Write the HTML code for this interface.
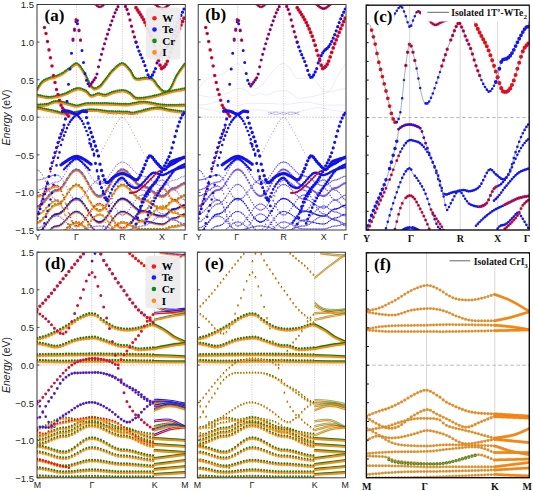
<!DOCTYPE html><html><head><meta charset="utf-8"><style>html,body{margin:0;padding:0;background:#fff;width:533px;height:491px;overflow:hidden}svg{display:block}</style></head><body><svg width="533" height="491" viewBox="0 0 533 491"><defs><clipPath id="ca"><rect x="37.0" y="4.5" width="148.3" height="225.5"/></clipPath><clipPath id="cb"><rect x="198.2" y="4.5" width="147.8" height="225.5"/></clipPath><clipPath id="cc"><rect x="366.2" y="5.2" width="163.0" height="224.8"/></clipPath><clipPath id="cd"><rect x="37.0" y="252.2" width="148.2" height="225.6"/></clipPath><clipPath id="ce"><rect x="197.4" y="252.2" width="148.1" height="225.6"/></clipPath><clipPath id="cf"><rect x="366.4" y="252.8" width="162.9" height="224.9"/></clipPath></defs><rect width="533" height="491" fill="#fff"/><line x1="76.5" y1="4.5" x2="76.5" y2="230.0" stroke="#c8c8c8" stroke-width="0.90" stroke-dasharray="1.2 1.2"/><line x1="122.3" y1="4.5" x2="122.3" y2="230.0" stroke="#c8c8c8" stroke-width="0.90" stroke-dasharray="1.2 1.2"/><line x1="162.5" y1="4.5" x2="162.5" y2="230.0" stroke="#c8c8c8" stroke-width="0.90" stroke-dasharray="1.2 1.2"/><line x1="237.8" y1="4.5" x2="237.8" y2="230.0" stroke="#c8c8c8" stroke-width="0.90" stroke-dasharray="1.2 1.2"/><line x1="283.4" y1="4.5" x2="283.4" y2="230.0" stroke="#c8c8c8" stroke-width="0.90" stroke-dasharray="1.2 1.2"/><line x1="323.5" y1="4.5" x2="323.5" y2="230.0" stroke="#c8c8c8" stroke-width="0.90" stroke-dasharray="1.2 1.2"/><line x1="409.7" y1="5.2" x2="409.7" y2="230.0" stroke="#d8d8d8" stroke-width="1.00" /><line x1="460.2" y1="5.2" x2="460.2" y2="230.0" stroke="#d8d8d8" stroke-width="1.00" /><line x1="497.6" y1="5.2" x2="497.6" y2="230.0" stroke="#d8d8d8" stroke-width="1.00" /><line x1="91.7" y1="252.2" x2="91.7" y2="477.8" stroke="#c8c8c8" stroke-width="0.90" stroke-dasharray="1.2 1.2"/><line x1="154.4" y1="252.2" x2="154.4" y2="477.8" stroke="#c8c8c8" stroke-width="0.90" stroke-dasharray="1.2 1.2"/><line x1="251.9" y1="252.2" x2="251.9" y2="477.8" stroke="#c8c8c8" stroke-width="0.90" stroke-dasharray="1.2 1.2"/><line x1="314.6" y1="252.2" x2="314.6" y2="477.8" stroke="#c8c8c8" stroke-width="0.90" stroke-dasharray="1.2 1.2"/><line x1="426.6" y1="252.8" x2="426.6" y2="477.7" stroke="#d8d8d8" stroke-width="1.00" /><line x1="494.8" y1="252.8" x2="494.8" y2="477.7" stroke="#d8d8d8" stroke-width="1.00" /><line x1="37.0" y1="117.2" x2="185.3" y2="117.2" stroke="#c0c0c0" stroke-width="0.90" stroke-dasharray="1.5 1.5"/><line x1="198.2" y1="117.2" x2="346.0" y2="117.2" stroke="#c0c0c0" stroke-width="0.90" stroke-dasharray="1.5 1.5"/><line x1="37.0" y1="365.0" x2="185.2" y2="365.0" stroke="#c0c0c0" stroke-width="0.90" stroke-dasharray="1.5 1.5"/><line x1="197.4" y1="365.0" x2="345.5" y2="365.0" stroke="#c0c0c0" stroke-width="0.90" stroke-dasharray="1.5 1.5"/><line x1="366.2" y1="117.6" x2="529.2" y2="117.6" stroke="#b8b8b8" stroke-width="1.00" stroke-dasharray="3.5 2.5"/><line x1="366.4" y1="365.2" x2="529.3" y2="365.2" stroke="#b8b8b8" stroke-width="1.00" stroke-dasharray="3.5 2.5"/><g clip-path="url(#ca)"><path d="M37.0 90.5C37.8 89.2 40.2 84.8 42.0 83.0C43.8 81.2 45.8 80.4 48.0 79.5C50.2 78.6 52.7 78.3 55.0 77.5C57.3 76.7 59.7 75.8 62.0 74.5C64.3 73.2 66.5 71.2 69.0 69.5C71.5 67.8 74.4 64.0 76.9 64.6C79.4 65.2 81.8 69.8 84.0 73.1C86.2 76.4 88.1 81.8 89.8 84.5C91.5 87.2 92.3 89.1 94.0 89.5C95.7 89.9 98.2 88.4 100.0 87.0C101.8 85.6 102.8 83.7 105.0 81.0C107.2 78.3 110.1 73.8 113.0 71.0C115.9 68.2 119.5 64.4 122.3 64.4C125.1 64.4 127.8 68.5 130.0 71.0C132.2 73.5 133.0 78.2 135.6 79.5C138.2 80.8 142.7 78.7 145.5 78.8C148.3 78.9 150.6 78.8 152.7 80.2C154.8 81.6 156.1 85.0 158.0 87.0C159.9 89.0 162.0 91.9 164.0 92.4C166.0 92.9 167.7 92.9 169.8 90.2C172.0 87.5 174.3 80.4 176.9 76.0C179.5 71.6 183.9 66.0 185.3 64.0" fill="none" stroke="#ff8a10" stroke-width="2.40" stroke-linejoin="round" stroke-linecap="round" opacity="1.00" /><path d="M37.0 89.1C37.8 87.8 40.2 83.4 42.0 81.6C43.8 79.8 45.8 79.0 48.0 78.1C50.2 77.2 52.7 76.9 55.0 76.1C57.3 75.3 59.7 74.4 62.0 73.1C64.3 71.8 66.5 69.8 69.0 68.1C71.5 66.4 74.4 62.6 76.9 63.2C79.4 63.8 81.8 68.4 84.0 71.7C86.2 75.0 88.1 80.4 89.8 83.1C91.5 85.8 92.3 87.7 94.0 88.1C95.7 88.5 98.2 87.0 100.0 85.6C101.8 84.2 102.8 82.3 105.0 79.6C107.2 76.9 110.1 72.4 113.0 69.6C115.9 66.8 119.5 63.0 122.3 63.0C125.1 63.0 127.8 67.1 130.0 69.6C132.2 72.1 133.0 76.8 135.6 78.1C138.2 79.4 142.7 77.3 145.5 77.4C148.3 77.5 150.6 77.4 152.7 78.8C154.8 80.2 156.1 83.6 158.0 85.6C159.9 87.6 162.0 90.5 164.0 91.0C166.0 91.5 167.7 91.5 169.8 88.8C172.0 86.1 174.3 79.0 176.9 74.6C179.5 70.2 183.9 64.6 185.3 62.6" fill="none" stroke="#1a7d1a" stroke-width="2.02" stroke-linecap="round" stroke-dasharray="0 1.90" opacity="1.00" /><path d="M37.0 95.9C38.9 96.3 44.8 98.0 48.4 98.1C52.0 98.2 55.5 97.2 58.4 96.6C61.2 96.0 62.4 95.7 65.5 94.5C68.6 93.3 73.6 90.0 76.9 89.5C80.2 89.0 83.1 90.4 85.5 91.6C87.9 92.8 89.1 96.1 91.2 96.6C93.3 97.1 96.0 94.6 98.3 94.5C100.6 94.4 102.5 96.2 105.0 96.0C107.5 95.8 109.9 93.8 113.0 93.0C116.1 92.2 120.6 91.2 123.4 91.4C126.2 91.6 128.0 92.8 130.0 94.0C132.0 95.2 133.3 98.0 135.6 98.8C137.9 99.6 140.7 99.2 144.0 98.8C147.3 98.4 151.9 97.4 155.5 96.6C159.1 95.8 162.4 94.6 165.5 93.8C168.6 93.0 170.7 92.3 174.0 91.6C177.3 90.9 183.4 89.8 185.3 89.5" fill="none" stroke="#ff8a10" stroke-width="2.40" stroke-linejoin="round" stroke-linecap="round" opacity="1.00" /><path d="M37.0 94.5C38.9 94.9 44.8 96.6 48.4 96.7C52.0 96.8 55.5 95.8 58.4 95.2C61.2 94.6 62.4 94.3 65.5 93.1C68.6 91.9 73.6 88.6 76.9 88.1C80.2 87.6 83.1 89.0 85.5 90.2C87.9 91.4 89.1 94.7 91.2 95.2C93.3 95.7 96.0 93.2 98.3 93.1C100.6 93.0 102.5 94.8 105.0 94.6C107.5 94.3 109.9 92.4 113.0 91.6C116.1 90.8 120.6 89.8 123.4 90.0C126.2 90.2 128.0 91.4 130.0 92.6C132.0 93.8 133.3 96.6 135.6 97.4C137.9 98.2 140.7 97.8 144.0 97.4C147.3 97.0 151.9 96.0 155.5 95.2C159.1 94.4 162.4 93.2 165.5 92.4C168.6 91.6 170.7 90.9 174.0 90.2C177.3 89.5 183.4 88.4 185.3 88.1" fill="none" stroke="#1a7d1a" stroke-width="2.02" stroke-linecap="round" stroke-dasharray="0 1.90" opacity="1.00" /><path d="M37.0 105.9C38.7 105.8 43.9 105.8 47.0 105.2C50.1 104.6 52.4 102.5 55.5 102.3C58.6 102.1 61.9 103.1 65.5 103.8C69.1 104.5 73.3 106.5 76.9 106.6C80.5 106.7 81.9 104.8 86.9 104.5C91.9 104.2 100.3 104.4 107.0 104.5C113.7 104.6 120.8 105.5 127.0 105.2C133.2 105.0 138.1 102.9 144.0 103.0C149.9 103.1 155.7 105.4 162.6 105.9C169.5 106.4 181.5 105.9 185.3 105.9" fill="none" stroke="#ff8a10" stroke-width="2.40" stroke-linejoin="round" stroke-linecap="round" opacity="1.00" /><path d="M37.0 104.5C38.7 104.4 43.9 104.4 47.0 103.8C50.1 103.2 52.4 101.1 55.5 100.9C58.6 100.7 61.9 101.7 65.5 102.4C69.1 103.1 73.3 105.1 76.9 105.2C80.5 105.3 81.9 103.4 86.9 103.1C91.9 102.8 100.3 103.0 107.0 103.1C113.7 103.2 120.8 104.0 127.0 103.8C133.2 103.5 138.1 101.5 144.0 101.6C149.9 101.7 155.7 104.0 162.6 104.5C169.5 105.0 181.5 104.5 185.3 104.5" fill="none" stroke="#1a7d1a" stroke-width="2.02" stroke-linecap="round" stroke-dasharray="0 1.90" opacity="1.00" /><path d="M37.0 108.5C38.4 108.8 42.5 109.6 45.6 110.2C48.7 110.8 52.2 111.6 55.5 112.3C58.8 113.0 61.9 114.4 65.5 114.5C69.1 114.6 73.3 113.6 76.9 113.0C80.5 112.4 83.6 111.2 86.9 110.9C90.2 110.6 93.6 110.7 96.9 110.9C100.2 111.1 102.0 112.0 107.0 112.3C112.0 112.6 122.5 112.8 127.0 113.0C131.5 113.2 129.2 114.4 134.0 113.7C138.8 113.0 149.5 109.2 155.5 108.8C161.5 108.3 164.8 110.3 169.8 111.0C174.8 111.7 182.7 112.7 185.3 113.0" fill="none" stroke="#ff8a10" stroke-width="2.40" stroke-linejoin="round" stroke-linecap="round" opacity="1.00" /><path d="M37.0 107.1C38.4 107.4 42.5 108.2 45.6 108.8C48.7 109.4 52.2 110.2 55.5 110.9C58.8 111.6 61.9 113.0 65.5 113.1C69.1 113.2 73.3 112.2 76.9 111.6C80.5 111.0 83.6 109.8 86.9 109.5C90.2 109.2 93.6 109.3 96.9 109.5C100.2 109.7 102.0 110.5 107.0 110.9C112.0 111.2 122.5 111.4 127.0 111.6C131.5 111.8 129.2 113.0 134.0 112.3C138.8 111.6 149.5 107.8 155.5 107.4C161.5 106.9 164.8 108.9 169.8 109.6C174.8 110.3 182.7 111.3 185.3 111.6" fill="none" stroke="#1a7d1a" stroke-width="2.02" stroke-linecap="round" stroke-dasharray="0 1.90" opacity="1.00" /><path d="M37.00 206.80h0M38.50 206.57h0M40.00 205.91h0M41.50 204.84h0M43.00 203.42h0M44.50 201.75h0M46.00 199.91h0M47.50 198.01h0M49.00 196.15h0M50.50 194.44h0M52.00 192.98h0M53.50 191.85h0M55.00 191.11h0M56.50 190.83h0M58.00 190.60h0M59.50 189.84h0M61.00 188.55h0M62.50 186.80h0M64.00 184.71h0M65.50 182.38h0M67.00 179.94h0M68.50 177.54h0M70.00 175.31h0M71.50 173.37h0M73.00 171.85h0M74.50 170.81h0M76.00 170.33h0M77.50 170.42h0M79.00 171.07h0M80.50 172.24h0M82.00 173.90h0M83.50 175.95h0M85.00 178.33h0M86.50 180.93h0M88.00 183.64h0M89.50 186.35h0M91.00 188.93h0M92.50 191.29h0M94.00 193.33h0M95.50 194.95h0M97.00 196.09h0M98.50 196.70h0M100.00 196.76h0M101.50 196.25h0M103.00 195.22h0M104.50 193.69h0M106.00 191.73h0M107.50 189.43h0M109.00 186.88h0M110.50 184.19h0M112.00 181.47h0M113.50 178.84h0M115.00 176.41h0M116.50 174.28h0M118.00 172.54h0M119.50 171.27h0M121.00 170.51h0M122.50 170.30h0M124.00 170.59h0M125.50 171.31h0M127.00 172.43h0M128.50 173.88h0M130.00 175.59h0M131.50 177.46h0M133.00 179.39h0M134.50 181.27h0M136.00 183.00h0M137.50 184.50h0M139.00 185.66h0M140.50 186.44h0M142.00 186.78h0M143.50 186.87h0M145.00 187.21h0M146.50 187.79h0M148.00 188.60h0M149.50 189.58h0M151.00 190.68h0M152.50 191.84h0M154.00 193.00h0M155.50 194.09h0M157.00 195.06h0M158.50 195.85h0M160.00 196.42h0M161.50 196.74h0M163.00 196.76h0M164.50 196.21h0M166.00 195.08h0M167.50 193.57h0M169.00 191.92h0M170.50 190.43h0M172.00 189.34h0M173.50 188.85h0M175.00 188.68h0M176.50 188.18h0M178.00 187.37h0M179.50 186.37h0M181.00 185.36h0M182.50 184.51h0M184.00 183.96h0" fill="none" stroke="#ff8a10" stroke-width="2.80" stroke-linecap="round" opacity="1.00"/><path d="M37.00 205.50h0M40.00 204.61h0M43.00 202.12h0M46.00 198.61h0M49.00 194.85h0M52.00 191.68h0M55.00 189.81h0M58.00 189.30h0M61.00 187.25h0M64.00 183.41h0M67.00 178.64h0M70.00 174.01h0M73.00 170.55h0M76.00 169.03h0M79.00 169.77h0M82.00 172.60h0M85.00 177.03h0M88.00 182.34h0M91.00 187.63h0M94.00 192.03h0M97.00 194.79h0M100.00 195.46h0M103.00 193.92h0M106.00 190.43h0M109.00 185.58h0M112.00 180.17h0M115.00 175.11h0M118.00 171.24h0M121.00 169.21h0M124.00 169.29h0M127.00 171.13h0M130.00 174.29h0M133.00 178.09h0M136.00 181.70h0M139.00 184.36h0M142.00 185.48h0M145.00 185.91h0M148.00 187.30h0M151.00 189.38h0M154.00 191.70h0M157.00 193.76h0M160.00 195.12h0M163.00 195.46h0M166.00 193.78h0M169.00 190.62h0M172.00 188.04h0M175.00 187.38h0M178.00 186.07h0M181.00 184.06h0M184.00 182.66h0" fill="none" stroke="#1a7d1a" stroke-width="1.68" stroke-linecap="round" opacity="1.00"/><path d="M37.75 205.93h0M39.25 205.49h0M40.75 204.62h0M42.25 203.37h0M43.75 201.81h0M45.25 200.04h0M46.75 198.16h0M48.25 196.26h0M49.75 194.47h0M51.25 192.87h0M52.75 191.57h0M54.25 190.62h0M55.75 190.11h0M57.25 189.94h0M58.75 189.49h0M60.25 188.45h0M61.75 186.93h0M63.25 184.99h0M64.75 182.76h0M66.25 180.36h0M67.75 177.92h0M69.25 175.59h0M70.75 173.50h0M72.25 171.75h0M73.75 170.46h0M75.25 169.70h0M76.75 169.51h0M78.25 169.88h0M79.75 170.80h0M81.25 172.22h0M82.75 174.08h0M84.25 176.31h0M85.75 178.81h0M87.25 181.48h0M88.75 184.20h0M90.25 186.86h0M91.75 189.35h0M93.25 191.56h0M94.75 193.39h0M96.25 194.78h0M97.75 195.66h0M99.25 196.00h0M100.75 195.77h0M102.25 195.00h0M103.75 193.71h0M105.25 191.96h0M106.75 189.82h0M108.25 187.38h0M109.75 184.74h0M111.25 182.02h0M112.75 179.34h0M114.25 176.79h0M115.75 174.50h0M117.25 172.55h0M118.75 171.04h0M120.25 170.02h0M121.75 169.54h0M123.25 169.59h0M124.75 170.10h0M126.25 171.02h0M127.75 172.32h0M129.25 173.91h0M130.75 175.71h0M132.25 177.62h0M133.75 179.54h0M135.25 181.36h0M136.75 182.99h0M138.25 184.32h0M139.75 185.30h0M141.25 185.86h0M142.75 186.02h0M144.25 186.21h0M145.75 186.67h0M147.25 187.37h0M148.75 188.27h0M150.25 189.31h0M151.75 190.45h0M153.25 191.62h0M154.75 192.76h0M156.25 193.80h0M157.75 194.68h0M159.25 195.37h0M160.75 195.81h0M162.25 196.00h0M163.75 195.76h0M165.25 194.90h0M166.75 193.56h0M168.25 191.95h0M169.75 190.34h0M171.25 189.02h0M172.75 188.20h0M174.25 187.98h0M175.75 187.68h0M177.25 187.01h0M178.75 186.08h0M180.25 185.05h0M181.75 184.11h0M183.25 183.39h0M184.75 183.05h0" fill="none" stroke="#7a5ad8" stroke-width="1.96" stroke-linecap="round" opacity="1.00"/><path d="M37.00 222.80h0M38.50 222.55h0M40.00 221.79h0M41.50 220.59h0M43.00 219.00h0M44.50 217.12h0M46.00 215.05h0M47.50 212.91h0M49.00 210.81h0M50.50 208.89h0M52.00 207.25h0M53.50 205.98h0M55.00 205.15h0M56.50 204.83h0M58.00 204.61h0M59.50 203.88h0M61.00 202.66h0M62.50 201.00h0M64.00 199.00h0M65.50 196.79h0M67.00 194.47h0M68.50 192.19h0M70.00 190.06h0M71.50 188.22h0M73.00 186.77h0M74.50 185.79h0M76.00 185.33h0M77.50 185.42h0M79.00 186.04h0M80.50 187.17h0M82.00 188.76h0M83.50 190.74h0M85.00 193.03h0M86.50 195.53h0M88.00 198.14h0M89.50 200.74h0M91.00 203.23h0M92.50 205.50h0M94.00 207.46h0M95.50 209.02h0M97.00 210.11h0M98.50 210.70h0M100.00 210.76h0M101.50 210.27h0M103.00 209.28h0M104.50 207.80h0M106.00 205.92h0M107.50 203.71h0M109.00 201.25h0M110.50 198.66h0M112.00 196.05h0M113.50 193.52h0M115.00 191.18h0M116.50 189.13h0M118.00 187.45h0M119.50 186.23h0M121.00 185.50h0M122.50 185.30h0M124.00 185.55h0M125.50 186.19h0M127.00 187.17h0M128.50 188.45h0M130.00 189.95h0M131.50 191.59h0M133.00 193.29h0M134.50 194.94h0M136.00 196.46h0M137.50 197.78h0M139.00 198.80h0M140.50 199.48h0M142.00 199.78h0M143.50 199.87h0M145.00 200.17h0M146.50 200.69h0M148.00 201.42h0M149.50 202.30h0M151.00 203.29h0M152.50 204.34h0M154.00 205.38h0M155.50 206.37h0M157.00 207.24h0M158.50 207.95h0M160.00 208.46h0M161.50 208.75h0M163.00 208.76h0M164.50 208.21h0M166.00 207.08h0M167.50 205.57h0M169.00 203.92h0M170.50 202.43h0M172.00 201.34h0M173.50 200.85h0M175.00 200.68h0M176.50 200.18h0M178.00 199.37h0M179.50 198.37h0M181.00 197.36h0M182.50 196.51h0M184.00 195.96h0" fill="none" stroke="#ff8a10" stroke-width="2.50" stroke-linecap="round" opacity="1.00"/><path d="M37.00 221.50h0M40.00 220.49h0M43.00 217.70h0M46.00 213.75h0M49.00 209.51h0M52.00 205.95h0M55.00 203.85h0M58.00 203.31h0M61.00 201.36h0M64.00 197.70h0M67.00 193.17h0M70.00 188.76h0M73.00 185.47h0M76.00 184.03h0M79.00 184.74h0M82.00 187.46h0M85.00 191.73h0M88.00 196.84h0M91.00 201.93h0M94.00 206.16h0M97.00 208.81h0M100.00 209.46h0M103.00 207.98h0M106.00 204.62h0M109.00 199.95h0M112.00 194.75h0M115.00 189.88h0M118.00 186.15h0M121.00 184.20h0M124.00 184.25h0M127.00 185.87h0M130.00 188.65h0M133.00 191.99h0M136.00 195.16h0M139.00 197.50h0M142.00 198.48h0M145.00 198.87h0M148.00 200.12h0M151.00 201.99h0M154.00 204.08h0M157.00 205.94h0M160.00 207.16h0M163.00 207.46h0M166.00 205.78h0M169.00 202.62h0M172.00 200.04h0M175.00 199.38h0M178.00 198.07h0M181.00 196.06h0M184.00 194.66h0" fill="none" stroke="#1a7d1a" stroke-width="1.50" stroke-linecap="round" opacity="1.00"/><path d="M37.00 232.80h0M38.50 232.55h0M40.00 231.79h0M41.50 230.59h0M43.00 229.00h0M44.50 227.12h0M46.00 225.05h0M47.50 222.91h0M49.00 220.81h0M50.50 218.89h0M52.00 217.25h0M53.50 215.98h0M55.00 215.15h0M56.50 214.83h0M58.00 214.65h0M59.50 214.07h0M61.00 213.10h0M62.50 211.78h0M64.00 210.19h0M65.50 208.43h0M67.00 206.59h0M68.50 204.77h0M70.00 203.09h0M71.50 201.62h0M73.00 200.47h0M74.50 199.69h0M76.00 199.32h0M77.50 199.41h0M79.00 199.98h0M80.50 201.02h0M82.00 202.49h0M83.50 204.31h0M85.00 206.42h0M86.50 208.73h0M88.00 211.13h0M89.50 213.53h0M91.00 215.82h0M92.50 217.92h0M94.00 219.72h0M95.50 221.16h0M97.00 222.17h0M98.50 222.71h0M100.00 222.76h0M101.50 222.32h0M103.00 221.40h0M104.50 220.04h0M106.00 218.30h0M107.50 216.26h0M109.00 214.00h0M110.50 211.61h0M112.00 209.20h0M113.50 206.87h0M115.00 204.72h0M116.50 202.83h0M118.00 201.29h0M119.50 200.16h0M121.00 199.49h0M122.50 199.30h0M124.00 199.52h0M125.50 200.07h0M127.00 200.91h0M128.50 202.01h0M130.00 203.31h0M131.50 204.72h0M133.00 206.18h0M134.50 207.61h0M136.00 208.92h0M137.50 210.05h0M139.00 210.94h0M140.50 211.53h0M142.00 211.79h0M143.50 211.84h0M145.00 212.00h0M146.50 212.30h0M148.00 212.70h0M149.50 213.19h0M151.00 213.74h0M152.50 214.32h0M154.00 214.90h0M155.50 215.45h0M157.00 215.93h0M158.50 216.33h0M160.00 216.61h0M161.50 216.77h0M163.00 216.77h0M164.50 216.28h0M166.00 215.29h0M167.50 213.97h0M169.00 212.53h0M170.50 211.23h0M172.00 210.27h0M173.50 209.84h0M175.00 209.70h0M176.50 209.31h0M178.00 208.65h0M179.50 207.86h0M181.00 207.05h0M182.50 206.37h0M184.00 205.93h0" fill="none" stroke="#ff8a10" stroke-width="2.40" stroke-linecap="round" opacity="1.00"/><path d="M37.00 231.50h0M40.00 230.49h0M43.00 227.70h0M46.00 223.75h0M49.00 219.51h0M52.00 215.95h0M55.00 213.85h0M58.00 213.35h0M61.00 211.80h0M64.00 208.89h0M67.00 205.29h0M70.00 201.79h0M73.00 199.17h0M76.00 198.02h0M79.00 198.68h0M82.00 201.19h0M85.00 205.12h0M88.00 209.83h0M91.00 214.52h0M94.00 218.42h0M97.00 220.87h0M100.00 221.46h0M103.00 220.10h0M106.00 217.00h0M109.00 212.70h0M112.00 207.90h0M115.00 203.42h0M118.00 199.99h0M121.00 198.19h0M124.00 198.22h0M127.00 199.61h0M130.00 202.01h0M133.00 204.88h0M136.00 207.62h0M139.00 209.64h0M142.00 210.49h0M145.00 210.70h0M148.00 211.40h0M151.00 212.44h0M154.00 213.60h0M157.00 214.63h0M160.00 215.31h0M163.00 215.47h0M166.00 213.99h0M169.00 211.23h0M172.00 208.97h0M175.00 208.40h0M178.00 207.35h0M181.00 205.75h0M184.00 204.63h0" fill="none" stroke="#1a7d1a" stroke-width="1.44" stroke-linecap="round" opacity="1.00"/><path d="M37.00 232.00h0M38.50 231.75h0M40.00 230.99h0M41.50 229.79h0M43.00 228.20h0M44.50 226.32h0M46.00 224.25h0M47.50 222.11h0M49.00 220.01h0M50.50 218.09h0M52.00 216.45h0M53.50 215.18h0M55.00 214.35h0M56.50 214.03h0M58.00 213.85h0M59.50 213.27h0M61.00 212.30h0M62.50 210.98h0M64.00 209.39h0M65.50 207.63h0M67.00 205.79h0M68.50 203.97h0M70.00 202.29h0M71.50 200.82h0M73.00 199.67h0M74.50 198.89h0M76.00 198.52h0M77.50 198.61h0M79.00 199.18h0M80.50 200.22h0M82.00 201.69h0M83.50 203.51h0M85.00 205.62h0M86.50 207.93h0M88.00 210.33h0M89.50 212.73h0M91.00 215.02h0M92.50 217.12h0M94.00 218.92h0M95.50 220.36h0M97.00 221.37h0M98.50 221.91h0M100.00 221.96h0M101.50 221.52h0M103.00 220.60h0M104.50 219.24h0M106.00 217.50h0M107.50 215.46h0M109.00 213.20h0M110.50 210.81h0M112.00 208.40h0M113.50 206.07h0M115.00 203.92h0M116.50 202.03h0M118.00 200.49h0M119.50 199.36h0M121.00 198.69h0M122.50 198.50h0M124.00 198.72h0M125.50 199.27h0M127.00 200.11h0M128.50 201.21h0M130.00 202.51h0M131.50 203.92h0M133.00 205.38h0M134.50 206.81h0M136.00 208.12h0M137.50 209.25h0M139.00 210.14h0M140.50 210.73h0M142.00 210.99h0M143.50 211.04h0M145.00 211.20h0M146.50 211.50h0M148.00 211.90h0M149.50 212.39h0M151.00 212.94h0M152.50 213.52h0M154.00 214.10h0M155.50 214.65h0M157.00 215.13h0M158.50 215.53h0M160.00 215.81h0M161.50 215.97h0M163.00 215.97h0M164.50 215.48h0M166.00 214.49h0M167.50 213.17h0M169.00 211.73h0M170.50 210.43h0M172.00 209.47h0M173.50 209.04h0M175.00 208.90h0M176.50 208.51h0M178.00 207.85h0M179.50 207.06h0M181.00 206.25h0M182.50 205.57h0M184.00 205.13h0" fill="none" stroke="#1111ee" stroke-width="1.92" stroke-linecap="round" opacity="1.00"/><path d="M37.00 240.80h0M38.50 240.60h0M40.00 240.02h0M41.50 239.08h0M43.00 237.85h0M44.50 236.38h0M46.00 234.77h0M47.50 233.11h0M49.00 231.48h0M50.50 229.98h0M52.00 228.71h0M53.50 227.72h0M55.00 227.07h0M56.50 226.82h0M58.00 226.66h0M59.50 226.12h0M61.00 225.21h0M62.50 223.97h0M64.00 222.49h0M65.50 220.84h0M67.00 219.12h0M68.50 217.42h0M70.00 215.84h0M71.50 214.47h0M73.00 213.40h0M74.50 212.66h0M76.00 212.32h0M77.50 212.40h0M79.00 212.90h0M80.50 213.80h0M82.00 215.08h0M83.50 216.67h0M85.00 218.51h0M86.50 220.52h0M88.00 222.62h0M89.50 224.71h0M91.00 226.72h0M92.50 228.54h0M94.00 230.11h0M95.50 231.37h0M97.00 232.25h0M98.50 232.72h0M100.00 232.77h0M101.50 232.38h0M103.00 231.58h0M104.50 230.39h0M106.00 228.88h0M107.50 227.10h0M109.00 225.12h0M110.50 223.04h0M112.00 220.94h0M113.50 218.90h0M115.00 217.03h0M116.50 215.38h0M118.00 214.03h0M119.50 213.05h0M121.00 212.46h0M122.50 212.30h0M124.00 212.47h0M125.50 212.88h0M127.00 213.53h0M128.50 214.36h0M130.00 215.34h0M131.50 216.42h0M133.00 217.53h0M134.50 218.62h0M136.00 219.61h0M137.50 220.47h0M139.00 221.14h0M140.50 221.59h0M142.00 221.79h0M143.50 221.82h0M145.00 221.92h0M146.50 222.10h0M148.00 222.34h0M149.50 222.63h0M151.00 222.96h0M152.50 223.31h0M154.00 223.66h0M155.50 223.99h0M157.00 224.28h0M158.50 224.52h0M160.00 224.69h0M161.50 224.78h0M163.00 224.77h0M164.50 224.36h0M166.00 223.51h0M167.50 222.37h0M169.00 221.14h0M170.50 220.02h0M172.00 219.20h0M173.50 218.84h0M175.00 218.70h0M176.50 218.31h0M178.00 217.65h0M179.50 216.86h0M181.00 216.05h0M182.50 215.37h0M184.00 214.93h0" fill="none" stroke="#ff8a10" stroke-width="2.00" stroke-linecap="round" opacity="1.00"/><path d="M37.00 239.50h0M40.00 238.72h0M43.00 236.55h0M46.00 233.47h0M49.00 230.18h0M52.00 227.41h0M55.00 225.77h0M58.00 225.36h0M61.00 223.91h0M64.00 221.19h0M67.00 217.82h0M70.00 214.54h0M73.00 212.10h0M76.00 211.02h0M79.00 211.60h0M82.00 213.78h0M85.00 217.21h0M88.00 221.32h0M91.00 225.42h0M94.00 228.81h0M97.00 230.95h0M100.00 231.47h0M103.00 230.28h0M106.00 227.58h0M109.00 223.82h0M112.00 219.64h0M115.00 215.73h0M118.00 212.73h0M121.00 211.16h0M124.00 211.17h0M127.00 212.23h0M130.00 214.04h0M133.00 216.23h0M136.00 218.31h0M139.00 219.84h0M142.00 220.49h0M145.00 220.62h0M148.00 221.04h0M151.00 221.66h0M154.00 222.36h0M157.00 222.98h0M160.00 223.39h0M163.00 223.47h0M166.00 222.21h0M169.00 219.84h0M172.00 217.90h0M175.00 217.40h0M178.00 216.35h0M181.00 214.75h0M184.00 213.63h0" fill="none" stroke="#1a7d1a" stroke-width="1.20" stroke-linecap="round" opacity="1.00"/><path d="M37.00 240.00h0M38.50 239.80h0M40.00 239.22h0M41.50 238.28h0M43.00 237.05h0M44.50 235.58h0M46.00 233.97h0M47.50 232.31h0M49.00 230.68h0M50.50 229.18h0M52.00 227.91h0M53.50 226.92h0M55.00 226.27h0M56.50 226.02h0M58.00 225.86h0M59.50 225.32h0M61.00 224.41h0M62.50 223.17h0M64.00 221.69h0M65.50 220.04h0M67.00 218.32h0M68.50 216.62h0M70.00 215.04h0M71.50 213.67h0M73.00 212.60h0M74.50 211.86h0M76.00 211.52h0M77.50 211.60h0M79.00 212.10h0M80.50 213.00h0M82.00 214.28h0M83.50 215.87h0M85.00 217.71h0M86.50 219.72h0M88.00 221.82h0M89.50 223.91h0M91.00 225.92h0M92.50 227.74h0M94.00 229.31h0M95.50 230.57h0M97.00 231.45h0M98.50 231.92h0M100.00 231.97h0M101.50 231.58h0M103.00 230.78h0M104.50 229.59h0M106.00 228.08h0M107.50 226.30h0M109.00 224.32h0M110.50 222.24h0M112.00 220.14h0M113.50 218.10h0M115.00 216.23h0M116.50 214.58h0M118.00 213.23h0M119.50 212.25h0M121.00 211.66h0M122.50 211.50h0M124.00 211.67h0M125.50 212.08h0M127.00 212.73h0M128.50 213.56h0M130.00 214.54h0M131.50 215.62h0M133.00 216.73h0M134.50 217.82h0M136.00 218.81h0M137.50 219.67h0M139.00 220.34h0M140.50 220.79h0M142.00 220.99h0M143.50 221.02h0M145.00 221.12h0M146.50 221.30h0M148.00 221.54h0M149.50 221.83h0M151.00 222.16h0M152.50 222.51h0M154.00 222.86h0M155.50 223.19h0M157.00 223.48h0M158.50 223.72h0M160.00 223.89h0M161.50 223.98h0M163.00 223.97h0M164.50 223.56h0M166.00 222.71h0M167.50 221.57h0M169.00 220.34h0M170.50 219.22h0M172.00 218.40h0M173.50 218.04h0M175.00 217.90h0M176.50 217.51h0M178.00 216.85h0M179.50 216.06h0M181.00 215.25h0M182.50 214.57h0M184.00 214.13h0" fill="none" stroke="#1111ee" stroke-width="1.60" stroke-linecap="round" opacity="1.00"/><path d="M37.00 242.80h0M38.50 242.69h0M40.00 242.35h0M41.50 241.82h0M43.00 241.11h0M44.50 240.28h0M46.00 239.36h0M47.50 238.40h0M49.00 237.47h0M50.50 236.62h0M52.00 235.89h0M53.50 235.32h0M55.00 234.95h0M56.50 234.82h0M58.00 234.68h0M59.50 234.24h0M61.00 233.48h0M62.50 232.46h0M64.00 231.23h0M65.50 229.87h0M67.00 228.44h0M68.50 227.04h0M70.00 225.73h0M71.50 224.60h0M73.00 223.71h0M74.50 223.10h0M76.00 222.82h0M77.50 222.88h0M79.00 223.27h0M80.50 223.97h0M82.00 224.97h0M83.50 226.21h0M85.00 227.65h0M86.50 229.22h0M88.00 230.85h0M89.50 232.49h0M91.00 234.05h0M92.50 235.48h0M94.00 236.70h0M95.50 237.68h0M97.00 238.37h0M98.50 238.74h0M100.00 238.77h0M101.50 238.47h0M103.00 237.84h0M104.50 236.92h0M106.00 235.74h0M107.50 234.35h0M109.00 232.81h0M110.50 231.18h0M112.00 229.54h0M113.50 227.95h0M115.00 226.49h0M116.50 225.20h0M118.00 224.15h0M119.50 223.38h0M121.00 222.93h0M122.50 222.80h0M124.00 222.92h0M125.50 223.23h0M127.00 223.70h0M128.50 224.32h0M130.00 225.04h0M131.50 225.84h0M133.00 226.66h0M134.50 227.45h0M136.00 228.19h0M137.50 228.82h0M139.00 229.32h0M140.50 229.65h0M142.00 229.79h0M143.50 229.80h0M145.00 229.80h0M146.50 229.80h0M148.00 229.80h0M149.50 229.80h0M151.00 229.80h0M152.50 229.80h0M154.00 229.80h0M155.50 229.80h0M157.00 229.80h0M158.50 229.80h0M160.00 229.80h0M161.50 229.80h0M163.00 229.79h0M164.50 229.58h0M166.00 229.15h0M167.50 228.59h0M169.00 227.97h0M170.50 227.41h0M172.00 227.00h0M173.50 226.82h0M175.00 226.75h0M176.50 226.55h0M178.00 226.23h0M179.50 225.83h0M181.00 225.42h0M182.50 225.08h0M184.00 224.86h0" fill="none" stroke="#ff8a10" stroke-width="2.40" stroke-linecap="round" opacity="1.00"/><path d="M37.00 241.50h0M40.00 241.05h0M43.00 239.81h0M46.00 238.06h0M49.00 236.17h0M52.00 234.59h0M55.00 233.65h0M58.00 233.38h0M61.00 232.18h0M64.00 229.93h0M67.00 227.14h0M70.00 224.43h0M73.00 222.41h0M76.00 221.52h0M79.00 221.97h0M82.00 223.67h0M85.00 226.35h0M88.00 229.55h0M91.00 232.75h0M94.00 235.40h0M97.00 237.07h0M100.00 237.47h0M103.00 236.54h0M106.00 234.44h0M109.00 231.51h0M112.00 228.24h0M115.00 225.19h0M118.00 222.85h0M121.00 221.63h0M124.00 221.62h0M127.00 222.40h0M130.00 223.74h0M133.00 225.36h0M136.00 226.89h0M139.00 228.02h0M142.00 228.49h0M145.00 228.50h0M148.00 228.50h0M151.00 228.50h0M154.00 228.50h0M157.00 228.50h0M160.00 228.50h0M163.00 228.49h0M166.00 227.85h0M169.00 226.67h0M172.00 225.70h0M175.00 225.45h0M178.00 224.93h0M181.00 224.12h0M184.00 223.56h0" fill="none" stroke="#1a7d1a" stroke-width="1.44" stroke-linecap="round" opacity="1.00"/><path d="M37.75 179.98h0M39.25 179.84h0M40.75 179.57h0M42.25 179.18h0M43.75 178.69h0M45.25 178.14h0M46.75 177.55h0M48.25 176.96h0M49.75 176.40h0M51.25 175.90h0M52.75 175.49h0M54.25 175.20h0M55.75 175.03h0M57.25 175.05h0M58.75 175.63h0M60.25 176.89h0M61.75 178.75h0M63.25 181.11h0M64.75 183.83h0M66.25 186.76h0M67.75 189.73h0M69.25 192.57h0M70.75 195.12h0M72.25 197.25h0M73.75 198.82h0M75.25 199.75h0M76.75 200.00h0M78.25 199.71h0M79.75 199.02h0M81.25 197.95h0M82.75 196.54h0M84.25 194.86h0M85.75 192.97h0M87.25 190.96h0M88.75 188.90h0M90.25 186.90h0M91.75 185.02h0M93.25 183.35h0M94.75 181.97h0M96.25 180.92h0M97.75 180.26h0M99.25 180.00h0M100.75 180.30h0M102.25 181.32h0M103.75 183.02h0M105.25 185.34h0M106.75 188.17h0M108.25 191.39h0M109.75 194.87h0M111.25 198.46h0M112.75 202.01h0M114.25 205.37h0M115.75 208.40h0M117.25 210.97h0M118.75 212.96h0M120.25 214.31h0M121.75 214.95h0M123.25 214.89h0M124.75 214.28h0M126.25 213.15h0M127.75 211.59h0M129.25 209.66h0M130.75 207.47h0M132.25 205.16h0M133.75 202.83h0M135.25 200.62h0M136.75 198.65h0M138.25 197.03h0M139.75 195.85h0M141.25 195.17h0M142.75 194.97h0M144.25 194.69h0M145.75 194.00h0M147.25 192.95h0M148.75 191.60h0M150.25 190.03h0M151.75 188.32h0M153.25 186.57h0M154.75 184.86h0M156.25 183.30h0M157.75 181.97h0M159.25 180.95h0M160.75 180.28h0M162.25 180.00h0M163.75 180.30h0M165.25 181.37h0M166.75 183.06h0M168.25 185.07h0M169.75 187.07h0M171.25 188.73h0M172.75 189.75h0M174.25 190.03h0M175.75 190.64h0M177.25 191.98h0M178.75 193.84h0M180.25 195.89h0M181.75 197.79h0M183.25 199.22h0M184.75 199.91h0" fill="none" stroke="#7a5ad8" stroke-width="1.26" stroke-linecap="round" opacity="1.00"/><path d="M37.00 196.80h0M38.50 196.66h0M40.00 196.24h0M41.50 195.57h0M43.00 194.69h0M44.50 193.64h0M46.00 192.49h0M47.50 191.30h0M49.00 190.14h0M50.50 189.07h0M52.00 188.16h0M53.50 187.45h0M55.00 186.99h0M56.50 186.78h0M58.00 187.19h0M59.50 188.68h0M61.00 191.20h0M62.50 194.60h0M64.00 198.69h0M65.50 203.24h0M67.00 207.99h0M68.50 212.68h0M70.00 217.03h0M71.50 220.80h0M73.00 223.78h0M74.50 225.80h0M76.00 226.72h0M77.50 226.70h0M79.00 226.16h0M80.50 225.19h0M82.00 223.81h0M83.50 222.11h0M85.00 220.13h0M86.50 217.97h0M88.00 215.73h0M89.50 213.48h0M91.00 211.33h0M92.50 209.37h0M94.00 207.68h0M95.50 206.34h0M97.00 205.39h0M98.50 204.88h0M100.00 204.84h0M101.50 205.29h0M103.00 206.23h0M104.50 207.62h0M106.00 209.39h0M107.50 211.48h0M109.00 213.79h0M110.50 216.22h0M112.00 218.69h0M113.50 221.07h0M115.00 223.27h0M116.50 225.20h0M118.00 226.77h0M119.50 227.93h0M121.00 228.61h0M122.50 228.80h0M124.00 228.52h0M125.50 227.82h0M127.00 226.74h0M128.50 225.33h0M130.00 223.67h0M131.50 221.86h0M133.00 219.99h0M134.50 218.16h0M136.00 216.48h0M137.50 215.03h0M139.00 213.90h0M140.50 213.15h0M142.00 212.82h0M143.50 212.62h0M145.00 211.82h0M146.50 210.42h0M148.00 208.49h0M149.50 206.14h0M151.00 203.50h0M152.50 200.71h0M154.00 197.92h0M155.50 195.29h0M157.00 192.97h0M158.50 191.07h0M160.00 189.70h0M161.50 188.94h0M163.00 188.86h0M164.50 189.69h0M166.00 191.38h0M167.50 193.65h0M169.00 196.12h0M170.50 198.35h0M172.00 199.99h0M173.50 200.73h0M175.00 201.00h0M176.50 201.79h0M178.00 203.09h0M179.50 204.69h0M181.00 206.30h0M182.50 207.67h0M184.00 208.55h0" fill="none" stroke="#ff8a10" stroke-width="1.80" stroke-linecap="round" opacity="1.00"/><path d="M37.00 195.50h0M40.00 194.94h0M43.00 193.39h0M46.00 191.19h0M49.00 188.84h0M52.00 186.86h0M55.00 185.69h0M58.00 185.89h0M61.00 189.90h0M64.00 197.39h0M67.00 206.69h0M70.00 215.73h0M73.00 222.48h0M76.00 225.42h0M79.00 224.86h0M82.00 222.51h0M85.00 218.83h0M88.00 214.43h0M91.00 210.03h0M94.00 206.38h0M97.00 204.09h0M100.00 203.54h0M103.00 204.93h0M106.00 208.09h0M109.00 212.49h0M112.00 217.39h0M115.00 221.97h0M118.00 225.47h0M121.00 227.31h0M124.00 227.22h0M127.00 225.44h0M130.00 222.37h0M133.00 218.69h0M136.00 215.18h0M139.00 212.60h0M142.00 211.52h0M145.00 210.52h0M148.00 207.19h0M151.00 202.20h0M154.00 196.62h0M157.00 191.67h0M160.00 188.40h0M163.00 187.56h0M166.00 190.08h0M169.00 194.82h0M172.00 198.69h0M175.00 199.70h0M178.00 201.79h0M181.00 205.00h0M184.00 207.25h0" fill="none" stroke="#1a7d1a" stroke-width="1.08" stroke-linecap="round" opacity="1.00"/><path d="M37.75 195.36h0M39.25 195.08h0M40.75 194.54h0M42.25 193.76h0M43.75 192.78h0M45.25 191.68h0M46.75 190.50h0M48.25 189.32h0M49.75 188.19h0M51.25 187.19h0M52.75 186.38h0M54.25 185.79h0M55.75 185.46h0M57.25 185.48h0M58.75 186.40h0M60.25 188.42h0M61.75 191.40h0M63.25 195.17h0M64.75 199.52h0M66.25 204.21h0M67.75 208.96h0M69.25 213.51h0M70.75 217.60h0M72.25 221.00h0M73.75 223.52h0M75.25 225.01h0M76.75 225.41h0M78.25 225.08h0M79.75 224.32h0M81.25 223.15h0M82.75 221.60h0M84.25 219.75h0M85.75 217.67h0M87.25 215.45h0M88.75 213.19h0M90.25 210.99h0M91.75 208.92h0M93.25 207.09h0M94.75 205.56h0M96.25 204.41h0M97.75 203.68h0M99.25 203.40h0M100.75 203.61h0M102.25 204.31h0M103.75 205.47h0M105.25 207.06h0M106.75 209.00h0M108.25 211.21h0M109.75 213.60h0M111.25 216.06h0M112.75 218.49h0M114.25 220.80h0M115.75 222.87h0M117.25 224.63h0M118.75 226.00h0M120.25 226.93h0M121.75 227.36h0M123.25 227.31h0M124.75 226.82h0M126.25 225.92h0M127.75 224.67h0M129.25 223.13h0M130.75 221.38h0M132.25 219.53h0M133.75 217.66h0M135.25 215.90h0M136.75 214.32h0M138.25 213.02h0M139.75 212.08h0M141.25 211.54h0M142.75 211.36h0M144.25 210.90h0M145.75 209.79h0M147.25 208.11h0M148.75 205.96h0M150.25 203.44h0M151.75 200.71h0M153.25 197.90h0M154.75 195.18h0M156.25 192.68h0M157.75 190.56h0M159.25 188.91h0M160.75 187.85h0M162.25 187.41h0M163.75 187.76h0M165.25 189.05h0M166.75 191.07h0M168.25 193.48h0M169.75 195.88h0M171.25 197.87h0M172.75 199.10h0M174.25 199.43h0M175.75 199.91h0M177.25 200.99h0M178.75 202.47h0M180.25 204.11h0M181.75 205.63h0M183.25 206.78h0M184.75 207.33h0" fill="none" stroke="#ee1111" stroke-width="1.26" stroke-linecap="round" opacity="1.00"/><path d="M37.00 214.80h0M38.50 214.60h0M40.00 214.02h0M41.50 213.08h0M43.00 211.85h0M44.50 210.38h0M46.00 208.77h0M47.50 207.11h0M49.00 205.48h0M50.50 203.98h0M52.00 202.71h0M53.50 201.72h0M55.00 201.07h0M56.50 200.79h0M58.00 201.15h0M59.50 202.49h0M61.00 204.76h0M62.50 207.82h0M64.00 211.50h0M65.50 215.59h0M67.00 219.87h0M68.50 224.09h0M70.00 228.01h0M71.50 231.40h0M73.00 234.08h0M74.50 235.90h0M76.00 236.73h0M77.50 236.70h0M79.00 236.16h0M80.50 235.19h0M82.00 233.81h0M83.50 232.11h0M85.00 230.13h0M86.50 227.97h0M88.00 225.73h0M89.50 223.48h0M91.00 221.33h0M92.50 219.37h0M94.00 217.68h0M95.50 216.34h0M97.00 215.39h0M98.50 214.88h0M100.00 214.84h0M101.50 215.25h0M103.00 216.11h0M104.50 217.38h0M106.00 219.01h0M107.50 220.92h0M109.00 223.04h0M110.50 225.27h0M112.00 227.53h0M113.50 229.71h0M115.00 231.73h0M116.50 233.50h0M118.00 234.94h0M119.50 236.00h0M121.00 236.63h0M122.50 236.80h0M124.00 236.52h0M125.50 235.82h0M127.00 234.74h0M128.50 233.33h0M130.00 231.67h0M131.50 229.86h0M133.00 227.99h0M134.50 226.16h0M136.00 224.48h0M137.50 223.03h0M139.00 221.90h0M140.50 221.15h0M142.00 220.82h0M143.50 220.70h0M145.00 220.23h0M146.50 219.41h0M148.00 218.28h0M149.50 216.91h0M151.00 215.37h0M152.50 213.75h0M154.00 212.12h0M155.50 210.59h0M157.00 209.23h0M158.50 208.12h0M160.00 207.33h0M161.50 206.88h0M163.00 206.83h0M164.50 207.24h0M166.00 208.09h0M167.50 209.23h0M169.00 210.46h0M170.50 211.58h0M172.00 212.40h0M173.50 212.76h0M175.00 212.90h0M176.50 213.29h0M178.00 213.95h0M179.50 214.74h0M181.00 215.55h0M182.50 216.23h0M184.00 216.67h0" fill="none" stroke="#ff8a10" stroke-width="2.00" stroke-linecap="round" opacity="1.00"/><path d="M37.00 213.50h0M40.00 212.72h0M43.00 210.55h0M46.00 207.47h0M49.00 204.18h0M52.00 201.41h0M55.00 199.77h0M58.00 199.85h0M61.00 203.46h0M64.00 210.20h0M67.00 218.57h0M70.00 226.71h0M73.00 232.78h0M76.00 235.43h0M79.00 234.86h0M82.00 232.51h0M85.00 228.83h0M88.00 224.43h0M91.00 220.03h0M94.00 216.38h0M97.00 214.09h0M100.00 213.54h0M103.00 214.81h0M106.00 217.71h0M109.00 221.74h0M112.00 226.23h0M115.00 230.43h0M118.00 233.64h0M121.00 235.33h0M124.00 235.22h0M127.00 233.44h0M130.00 230.37h0M133.00 226.69h0M136.00 223.18h0M139.00 220.60h0M142.00 219.52h0M145.00 218.93h0M148.00 216.98h0M151.00 214.07h0M154.00 210.82h0M157.00 207.93h0M160.00 206.03h0M163.00 205.53h0M166.00 206.79h0M169.00 209.16h0M172.00 211.10h0M175.00 211.60h0M178.00 212.65h0M181.00 214.25h0M184.00 215.37h0" fill="none" stroke="#1a7d1a" stroke-width="1.20" stroke-linecap="round" opacity="1.00"/><path d="M37.75 227.95h0M39.25 227.62h0M40.75 226.96h0M42.25 226.03h0M43.75 224.86h0M45.25 223.53h0M46.75 222.12h0M48.25 220.70h0M49.75 219.35h0M51.25 218.15h0M52.75 217.17h0M54.25 216.47h0M55.75 216.08h0M57.25 216.02h0M58.75 216.35h0M60.25 217.06h0M61.75 218.10h0M63.25 219.42h0M64.75 220.94h0M66.25 222.58h0M67.75 224.25h0M69.25 225.84h0M70.75 227.27h0M72.25 228.46h0M73.75 229.34h0M75.25 229.86h0M76.75 230.00h0M78.25 229.94h0M79.75 229.80h0M81.25 229.59h0M82.75 229.31h0M84.25 228.97h0M85.75 228.59h0M87.25 228.19h0M88.75 227.78h0M90.25 227.38h0M91.75 227.00h0M93.25 226.67h0M94.75 226.39h0M96.25 226.18h0M97.75 226.05h0M99.25 226.00h0M100.75 226.04h0M102.25 226.19h0M103.75 226.43h0M105.25 226.76h0M106.75 227.17h0M108.25 227.63h0M109.75 228.12h0M111.25 228.64h0M112.75 229.14h0M114.25 229.62h0M115.75 230.06h0M117.25 230.42h0M118.75 230.71h0M120.25 230.90h0M121.75 230.99h0M123.25 230.97h0M124.75 230.82h0M126.25 230.54h0M127.75 230.15h0M129.25 229.66h0M130.75 229.12h0M132.25 228.54h0M133.75 227.96h0M135.25 227.41h0M136.75 226.91h0M138.25 226.51h0M139.75 226.21h0M141.25 226.04h0M142.75 225.99h0M144.25 225.79h0M145.75 225.33h0M147.25 224.63h0M148.75 223.73h0M150.25 222.69h0M151.75 221.55h0M153.25 220.38h0M154.75 219.24h0M156.25 218.20h0M157.75 217.32h0M159.25 216.63h0M160.75 216.19h0M162.25 216.00h0M163.75 216.12h0M165.25 216.55h0M166.75 217.22h0M168.25 218.03h0M169.75 218.83h0M171.25 219.49h0M172.75 219.90h0M174.25 220.01h0M175.75 220.25h0M177.25 220.79h0M178.75 221.54h0M180.25 222.36h0M181.75 223.12h0M183.25 223.69h0M184.75 223.96h0" fill="none" stroke="#7a5ad8" stroke-width="1.26" stroke-linecap="round" opacity="1.00"/><path d="M37.75 189.96h0M39.25 189.75h0M40.75 189.31h0M42.25 188.68h0M43.75 187.91h0M45.25 187.02h0M46.75 186.08h0M48.25 185.13h0M49.75 184.23h0M51.25 183.44h0M52.75 182.78h0M54.25 182.31h0M55.75 182.05h0M57.25 181.94h0M58.75 181.45h0M60.25 180.34h0M61.75 178.70h0M63.25 176.63h0M64.75 174.23h0M66.25 171.65h0M67.75 169.04h0M69.25 166.54h0M70.75 164.29h0M72.25 162.42h0M73.75 161.04h0M75.25 160.22h0M76.75 160.01h0M78.25 160.34h0M79.75 161.17h0M81.25 162.46h0M82.75 164.15h0M84.25 166.17h0M85.75 168.43h0M87.25 170.85h0M88.75 173.32h0M90.25 175.72h0M91.75 177.98h0M93.25 179.98h0M94.75 181.64h0M96.25 182.90h0M97.75 183.69h0M99.25 184.00h0M100.75 183.81h0M102.25 183.17h0M103.75 182.10h0M105.25 180.64h0M106.75 178.87h0M108.25 176.84h0M109.75 174.65h0M111.25 172.40h0M112.75 170.17h0M114.25 168.05h0M115.75 166.15h0M117.25 164.54h0M118.75 163.28h0M120.25 162.43h0M121.75 162.03h0M123.25 162.08h0M124.75 162.51h0M126.25 163.29h0M127.75 164.39h0M129.25 165.74h0M130.75 167.27h0M132.25 168.89h0M133.75 170.52h0M135.25 172.07h0M136.75 173.44h0M138.25 174.58h0M139.75 175.41h0M141.25 175.88h0M142.75 176.02h0M144.25 176.21h0M145.75 176.67h0M147.25 177.37h0M148.75 178.27h0M150.25 179.31h0M151.75 180.45h0M153.25 181.62h0M154.75 182.76h0M156.25 183.80h0M157.75 184.68h0M159.25 185.37h0M160.75 185.81h0M162.25 186.00h0M163.75 185.82h0M165.25 185.18h0M166.75 184.17h0M168.25 182.96h0M169.75 181.76h0M171.25 180.76h0M172.75 180.15h0M174.25 179.99h0M175.75 179.75h0M177.25 179.21h0M178.75 178.46h0M180.25 177.64h0M181.75 176.88h0M183.25 176.31h0M184.75 176.04h0" fill="none" stroke="#7a5ad8" stroke-width="1.12" stroke-linecap="round" opacity="1.00"/><path d="M37.75 170.13h0M39.25 170.95h0M40.75 172.59h0M42.25 174.93h0M43.75 177.85h0M45.25 181.17h0M46.75 184.70h0M48.25 188.25h0M49.75 191.62h0M51.25 194.62h0M52.75 197.07h0M54.25 198.83h0M55.75 199.80h0M57.25 200.11h0M58.75 201.00h0M60.25 203.02h0M61.75 206.00h0M63.25 209.77h0M64.75 214.12h0M66.25 218.81h0M67.75 223.56h0M69.25 228.11h0M70.75 232.20h0M72.25 235.60h0M73.75 238.12h0M75.25 239.61h0M76.75 240.01h0M78.25 239.86h0M79.75 239.51h0M81.25 238.98h0M82.75 238.27h0M84.25 237.43h0M85.75 236.49h0M87.25 235.48h0M88.75 234.45h0M90.25 233.45h0M91.75 232.51h0M93.25 231.68h0M94.75 230.98h0M96.25 230.46h0M97.75 230.13h0M99.25 230.00h0M100.75 229.57h0M102.25 228.11h0M103.75 225.68h0M105.25 222.37h0M106.75 218.33h0M108.25 213.73h0M109.75 208.76h0M111.25 203.63h0M112.75 198.56h0M114.25 193.76h0M115.75 189.43h0M117.25 185.76h0M118.75 182.91h0M120.25 180.98h0M121.75 180.09h0M123.25 180.05h0M124.75 180.36h0M126.25 180.92h0M127.75 181.71h0M129.25 182.67h0M130.75 183.76h0M132.25 184.92h0M133.75 186.08h0M135.25 187.19h0M136.75 188.17h0M138.25 188.98h0M139.75 189.58h0M141.25 189.91h0M142.75 190.03h0M144.25 190.50h0M145.75 191.61h0M147.25 193.29h0M148.75 195.44h0M150.25 197.96h0M151.75 200.69h0M153.25 203.50h0M154.75 206.22h0M156.25 208.72h0M157.75 210.84h0M159.25 212.49h0M160.75 213.55h0M162.25 213.99h0M163.75 214.18h0M165.25 214.82h0M166.75 215.83h0M168.25 217.04h0M169.75 218.24h0M171.25 219.24h0M172.75 219.85h0M174.25 220.02h0M175.75 220.38h0M177.25 221.19h0M178.75 222.31h0M180.25 223.54h0M181.75 224.67h0M183.25 225.53h0M184.75 225.94h0" fill="none" stroke="#7a5ad8" stroke-width="1.26" stroke-linecap="round" opacity="1.00"/><path d="M44.50 27.53h0M46.00 33.51h0M47.50 41.56h0M49.00 49.91h0M50.50 57.82h0M52.00 66.07h0M53.50 75.46h0M55.00 82.51h0M56.50 89.50h0M58.00 94.45h0M59.50 100.25h0M61.00 105.22h0M62.50 108.04h0M64.00 109.72h0M65.50 111.85h0M67.00 114.09h0M68.50 116.19h0" fill="none" stroke="#ee1111" stroke-width="3.60" stroke-linecap="round" opacity="1.00"/><path d="M44.50 27.53h0M46.00 33.51h0M47.50 41.56h0M49.00 49.91h0M50.50 57.82h0M52.00 66.07h0M53.50 75.46h0M55.00 82.51h0M56.50 89.50h0M58.00 94.45h0M59.50 100.25h0M61.00 105.22h0M62.50 108.04h0M64.00 109.72h0M65.50 111.85h0M67.00 114.09h0M68.50 116.19h0" fill="none" stroke="#1111ee" stroke-width="1.50" stroke-linecap="round" opacity="1.00"/><path d="M76.00 21.83h0M74.50 30.34h0M73.00 40.19h0M71.50 53.23h0M70.00 68.96h0M68.50 84.21h0M67.00 101.36h0" fill="none" stroke="#1111ee" stroke-width="3.00" stroke-linecap="round" opacity="1.00"/><path d="M77.50 23.66h0M79.00 30.85h0M80.50 40.02h0M82.00 50.39h0M83.50 62.40h0M85.00 73.45h0M86.50 80.18h0M88.00 83.63h0" fill="none" stroke="#1111ee" stroke-width="3.00" stroke-linecap="round" opacity="1.00"/><path d="M89.50 86.04h0M91.00 84.07h0M92.50 82.06h0M94.00 79.92h0M95.50 77.75h0M97.00 73.98h0M98.50 66.78h0M100.00 60.01h0M101.50 54.31h0M103.00 48.93h0M104.50 43.77h0M106.00 38.85h0M107.50 34.13h0M109.00 29.56h0M110.50 25.12h0M112.00 20.82h0M113.50 16.69h0M115.00 12.84h0M116.50 9.53h0M118.00 6.69h0" fill="none" stroke="#ee1111" stroke-width="3.20" stroke-linecap="round" opacity="1.00"/><path d="M89.50 86.04h0M91.00 84.07h0M92.50 82.06h0M94.00 79.92h0M95.50 77.75h0M97.00 73.98h0M98.50 66.78h0M100.00 60.01h0M101.50 54.31h0M103.00 48.93h0M104.50 43.77h0M106.00 38.85h0M107.50 34.13h0M109.00 29.56h0M110.50 25.12h0M112.00 20.82h0M113.50 16.69h0M115.00 12.84h0M116.50 9.53h0M118.00 6.69h0" fill="none" stroke="#1111ee" stroke-width="2.00" stroke-linecap="round" opacity="1.00"/><path d="M73.00 39.05h0M74.50 29.22h0M76.00 19.70h0M77.50 20.62h0M79.00 30.08h0M80.50 40.19h0" fill="none" stroke="#ee1111" stroke-width="3.20" stroke-linecap="round" opacity="1.00"/><path d="M73.00 39.05h0M74.50 29.22h0M76.00 19.70h0M77.50 20.62h0M79.00 30.08h0M80.50 40.19h0" fill="none" stroke="#1111ee" stroke-width="1.60" stroke-linecap="round" opacity="1.00"/><path d="" fill="none" stroke="#1111ee" stroke-width="3.20" stroke-linecap="round" opacity="1.00"/><path d="M125.50 6.50h0M127.00 9.48h0M128.50 13.97h0M130.00 20.04h0M131.50 26.22h0M133.00 31.70h0M134.50 36.95h0M136.00 42.21h0" fill="none" stroke="#ee1111" stroke-width="3.40" stroke-linecap="round" opacity="1.00"/><path d="M125.50 6.50h0M127.00 9.48h0M128.50 13.97h0M130.00 20.04h0M131.50 26.22h0M133.00 31.70h0M134.50 36.95h0M136.00 42.21h0" fill="none" stroke="#1111ee" stroke-width="1.80" stroke-linecap="round" opacity="1.00"/><path d="M136.00 42.06h0M137.50 46.92h0M139.00 51.09h0M140.50 54.64h0M142.00 58.01h0M143.50 61.48h0M145.00 65.55h0M146.50 70.44h0M148.00 74.83h0M149.50 77.30h0M151.00 76.98h0M152.50 74.90h0M154.00 71.91h0M155.50 68.56h0M157.00 62.90h0M158.50 58.89h0M160.00 55.68h0M161.50 52.94h0M163.00 50.82h0M164.50 49.45h0M166.00 48.25h0M167.50 46.63h0M169.00 44.23h0M170.50 41.38h0M172.00 38.17h0M173.50 34.72h0M175.00 30.84h0M176.50 26.64h0M178.00 22.53h0M179.50 18.84h0M181.00 15.46h0M182.50 12.20h0M184.00 9.00h0" fill="none" stroke="#1111ee" stroke-width="3.20" stroke-linecap="round" opacity="1.00"/><path d="M136.00 7.65h0M137.50 9.91h0M139.00 12.21h0M140.50 14.55h0M142.00 16.99h0M143.50 19.58h0M145.00 22.45h0M146.50 25.56h0M148.00 28.89h0M149.50 32.45h0M151.00 36.22h0M152.50 40.38h0M154.00 45.24h0M155.50 50.39h0M157.00 55.34h0M158.50 60.41h0M160.00 65.20h0M161.50 68.51h0M163.00 67.69h0M164.50 66.41h0M166.00 64.27h0M167.50 61.05h0M169.00 56.91h0M170.50 52.42h0M172.00 47.94h0M173.50 43.77h0M175.00 39.88h0M176.50 36.09h0M178.00 32.36h0M179.50 28.68h0M181.00 25.03h0M182.50 21.52h0M184.00 18.15h0" fill="none" stroke="#ee1111" stroke-width="3.80" stroke-linecap="round" opacity="1.00"/><path d="M136.00 7.65h0M137.50 9.91h0M139.00 12.21h0M140.50 14.55h0M142.00 16.99h0M143.50 19.58h0M145.00 22.45h0M146.50 25.56h0M148.00 28.89h0M149.50 32.45h0M151.00 36.22h0M152.50 40.38h0M154.00 45.24h0M155.50 50.39h0M157.00 55.34h0M158.50 60.41h0M160.00 65.20h0M161.50 68.51h0M163.00 67.69h0M164.50 66.41h0M166.00 64.27h0M167.50 61.05h0M169.00 56.91h0M170.50 52.42h0M172.00 47.94h0M173.50 43.77h0M175.00 39.88h0M176.50 36.09h0M178.00 32.36h0M179.50 28.68h0M181.00 25.03h0M182.50 21.52h0M184.00 18.15h0" fill="none" stroke="#1111ee" stroke-width="1.40" stroke-linecap="round" opacity="1.00"/><path d="M94.00 3.15h0M95.50 4.46h0M97.00 5.70h0M98.50 6.65h0M100.00 6.98h0M101.50 6.43h0M103.00 5.39h0M104.50 4.11h0" fill="none" stroke="#ee1111" stroke-width="2.60" stroke-linecap="round" opacity="1.00"/><path d="M94.00 3.15h0M95.50 4.46h0M97.00 5.70h0M98.50 6.65h0M100.00 6.98h0M101.50 6.43h0M103.00 5.39h0M104.50 4.11h0" fill="none" stroke="#1111ee" stroke-width="1.20" stroke-linecap="round" opacity="1.00"/><path d="M154.00 3.14h0M155.50 4.42h0M157.00 5.72h0M158.50 6.90h0M160.00 7.87h0M161.50 8.49h0M163.00 8.51h0M164.50 7.92h0M166.00 6.97h0M167.50 5.81h0M169.00 4.51h0M170.50 3.22h0" fill="none" stroke="#ee1111" stroke-width="3.00" stroke-linecap="round" opacity="1.00"/><path d="M154.00 3.14h0M155.50 4.42h0M157.00 5.72h0M158.50 6.90h0M160.00 7.87h0M161.50 8.49h0M163.00 8.51h0M164.50 7.92h0M166.00 6.97h0M167.50 5.81h0M169.00 4.51h0M170.50 3.22h0" fill="none" stroke="#1111ee" stroke-width="1.40" stroke-linecap="round" opacity="1.00"/><path d="M38.50 211.53h0M40.00 206.23h0M41.50 201.02h0M43.00 196.03h0M44.50 191.19h0M46.00 186.35h0M47.50 181.53h0M49.00 176.66h0M50.50 171.60h0M52.00 166.29h0M53.50 161.02h0M55.00 156.03h0M56.50 151.19h0M58.00 146.35h0M59.50 141.39h0M61.00 136.48h0M62.50 131.99h0M64.00 128.04h0" fill="none" stroke="#ee1111" stroke-width="2.00" stroke-linecap="round" opacity="1.00"/><path d="M38.50 211.53h0M40.00 206.23h0M41.50 201.02h0M43.00 196.03h0M44.50 191.19h0M46.00 186.35h0M47.50 181.53h0M49.00 176.66h0M50.50 171.60h0M52.00 166.29h0M53.50 161.02h0M55.00 156.03h0M56.50 151.19h0M58.00 146.35h0M59.50 141.39h0M61.00 136.48h0M62.50 131.99h0M64.00 128.04h0" fill="none" stroke="#1111ee" stroke-width="1.00" stroke-linecap="round" opacity="1.00"/><path d="M107.50 112.25h0M109.00 112.86h0M110.50 113.43h0M112.00 113.94h0M113.50 114.33h0M115.00 114.50h0M116.50 114.27h0M118.00 113.75h0M119.50 113.13h0M121.00 112.65h0M122.50 112.51h0M124.00 112.80h0M125.50 113.34h0M127.00 113.94h0M128.50 114.38h0M130.00 114.49h0M131.50 114.25h0M133.00 113.82h0M134.50 113.29h0M136.00 112.70h0M137.50 112.10h0" fill="none" stroke="#b07040" stroke-width="1.20" stroke-linecap="round" opacity="0.60"/><path d="M107.50 114.24h0M109.00 113.62h0M110.50 113.03h0M112.00 112.52h0M113.50 112.14h0M115.00 112.01h0M116.50 112.32h0M118.00 112.98h0M119.50 113.74h0M121.00 114.32h0M122.50 114.49h0M124.00 114.14h0M125.50 113.48h0M127.00 112.75h0M128.50 112.19h0M130.00 112.01h0M131.50 112.22h0M133.00 112.64h0M134.50 113.18h0M136.00 113.79h0M137.50 114.40h0" fill="none" stroke="#b07040" stroke-width="1.20" stroke-linecap="round" opacity="0.60"/><path d="M101.50 151.67h0M103.00 148.72h0M104.50 145.79h0M106.00 142.87h0M107.50 139.97h0M109.00 137.09h0M110.50 134.23h0M112.00 131.41h0M113.50 128.65h0M115.00 125.97h0M116.50 123.43h0M118.00 121.10h0M119.50 119.15h0M121.00 117.85h0M122.50 117.52h0M124.00 118.27h0M125.50 119.87h0M127.00 122.00h0M128.50 124.43h0M130.00 127.03h0M131.50 129.75h0M133.00 132.53h0M134.50 135.37h0M136.00 138.24h0M137.50 141.13h0M139.00 144.04h0M140.50 146.96h0M142.00 149.90h0M143.50 152.84h0" fill="none" stroke="#b07040" stroke-width="1.20" stroke-linecap="round" opacity="0.60"/><path d="M62.50 111.20h0M64.00 111.09h0M65.50 110.99h0M67.00 110.98h0M68.50 111.14h0M70.00 111.60h0M71.50 112.31h0M73.00 113.09h0M74.50 113.80h0M76.00 114.25h0M77.50 114.13h0M79.00 113.29h0M80.50 112.11h0M82.00 111.30h0M83.50 111.20h0M85.00 111.41h0M86.50 111.75h0" fill="none" stroke="#1111ee" stroke-width="3.40" stroke-linecap="round" opacity="1.00"/><path d="M65.50 118.96h0M64.00 125.03h0M62.50 130.13h0M61.00 133.83h0M59.50 137.80h0M58.00 142.56h0M56.50 147.55h0M55.00 152.65h0M53.50 157.75h0M52.00 162.77h0M50.50 168.72h0M49.00 176.48h0M47.50 183.32h0M46.00 188.86h0M44.50 193.99h0M43.00 198.96h0M41.50 203.86h0M40.00 208.74h0M38.50 213.61h0M37.00 218.30h0" fill="none" stroke="#1111ee" stroke-width="3.20" stroke-linecap="round" opacity="1.00"/><path d="M76.00 114.86h0M74.50 116.46h0M73.00 118.10h0M71.50 119.86h0M70.00 121.89h0M68.50 124.61h0M67.00 128.15h0M65.50 132.00h0M64.00 135.66h0M62.50 139.63h0M61.00 145.02h0M59.50 152.42h0M58.00 157.76h0M56.50 165.41h0M55.00 175.19h0M53.50 184.81h0M52.00 192.96h0M50.50 199.50h0M49.00 205.36h0M47.50 210.98h0M46.00 216.80h0M44.50 223.26h0M43.00 230.10h0" fill="none" stroke="#1111ee" stroke-width="2.60" stroke-linecap="round" opacity="1.00"/><path d="M77.50 115.40h0M79.00 117.03h0M80.50 118.82h0M82.00 121.00h0M83.50 123.88h0M85.00 127.26h0M86.50 130.98h0M88.00 134.94h0M89.50 139.41h0M91.00 144.33h0M92.50 149.49h0M94.00 155.52h0M95.50 163.04h0M97.00 171.31h0M98.50 178.55h0M100.00 183.89h0M101.50 187.82h0M103.00 191.14h0M104.50 194.25h0M106.00 197.46h0M107.50 201.32h0M109.00 205.92h0M110.50 211.01h0" fill="none" stroke="#1111ee" stroke-width="2.60" stroke-linecap="round" opacity="1.00"/><path d="M86.50 117.61h0M88.00 123.17h0M89.50 128.11h0M91.00 132.54h0M92.50 136.89h0M94.00 141.43h0M95.50 146.07h0M97.00 150.82h0M98.50 156.02h0M100.00 164.15h0M101.50 170.45h0M103.00 175.67h0M104.50 179.82h0M106.00 182.26h0M107.50 182.64h0M109.00 181.69h0M110.50 180.14h0M112.00 178.51h0M113.50 177.19h0M115.00 176.31h0M116.50 175.48h0M118.00 174.72h0M119.50 174.09h0M121.00 173.65h0M122.50 173.49h0M124.00 173.75h0M125.50 174.36h0M127.00 175.14h0M128.50 175.87h0M130.00 176.61h0M131.50 177.57h0M133.00 178.54h0M134.50 179.35h0M136.00 179.76h0M137.50 179.38h0M139.00 177.78h0M140.50 174.95h0M142.00 171.63h0M143.50 168.51h0M145.00 164.71h0M146.50 160.85h0M148.00 157.71h0M149.50 156.00h0M151.00 156.11h0M152.50 157.47h0M154.00 159.46h0M155.50 161.53h0M157.00 163.19h0M158.50 164.78h0M160.00 166.49h0M161.50 168.06h0M163.00 169.22h0M164.50 169.58h0M166.00 168.67h0M167.50 166.67h0M169.00 164.26h0M170.50 162.27h0M172.00 161.20h0M173.50 160.59h0M175.00 160.21h0M176.50 159.80h0M178.00 159.30h0M179.50 158.82h0M181.00 158.36h0M182.50 157.90h0M184.00 157.45h0" fill="none" stroke="#1111ee" stroke-width="3.40" stroke-linecap="round" opacity="1.00"/><path d="M89.50 143.26h0M91.00 146.33h0M92.50 149.61h0M94.00 153.90h0M95.50 163.80h0M97.00 170.34h0M98.50 176.49h0M100.00 182.20h0M101.50 187.51h0M103.00 193.24h0M104.50 197.83h0M106.00 199.92h0M107.50 199.17h0M109.00 196.49h0M110.50 192.98h0M112.00 189.42h0M113.50 186.47h0M115.00 184.28h0M116.50 182.22h0M118.00 180.39h0M119.50 178.91h0M121.00 177.99h0M122.50 177.90h0M124.00 178.99h0M125.50 180.90h0M127.00 183.04h0M128.50 184.76h0M130.00 185.83h0M131.50 186.73h0M133.00 187.45h0M134.50 187.90h0M136.00 187.99h0M137.50 187.58h0M139.00 186.55h0M140.50 185.19h0M142.00 183.81h0M143.50 182.25h0M145.00 180.52h0M146.50 178.75h0M148.00 177.05h0M149.50 175.48h0M151.00 174.14h0M152.50 173.15h0M154.00 172.69h0M155.50 172.79h0M157.00 173.27h0M158.50 173.95h0M160.00 174.59h0M161.50 174.99h0M163.00 174.96h0M164.50 174.57h0M166.00 173.95h0M167.50 173.18h0M169.00 172.35h0M170.50 171.51h0M172.00 170.75h0M173.50 170.11h0M175.00 169.60h0M176.50 169.14h0M178.00 168.72h0M179.50 168.32h0M181.00 167.93h0M182.50 167.56h0M184.00 167.20h0M185.50 166.83h0" fill="none" stroke="#1111ee" stroke-width="2.60" stroke-linecap="round" opacity="1.00"/><path d="M130.00 192.94h0M131.50 192.89h0M133.00 192.76h0M134.50 192.46h0M136.00 191.90h0M137.50 191.05h0M139.00 190.00h0M140.50 188.83h0M142.00 187.57h0M143.50 186.26h0M145.00 184.91h0M146.50 183.45h0M148.00 181.92h0M149.50 180.37h0M151.00 178.81h0M152.50 177.29h0M154.00 175.76h0M155.50 174.23h0M157.00 172.83h0M158.50 171.62h0M160.00 170.98h0M161.50 171.78h0" fill="none" stroke="#ee1111" stroke-width="2.20" stroke-linecap="round" opacity="1.00"/><path d="M130.00 192.94h0M131.50 192.89h0M133.00 192.76h0M134.50 192.46h0M136.00 191.90h0M137.50 191.05h0M139.00 190.00h0M140.50 188.83h0M142.00 187.57h0M143.50 186.26h0M145.00 184.91h0M146.50 183.45h0M148.00 181.92h0M149.50 180.37h0M151.00 178.81h0M152.50 177.29h0M154.00 175.76h0M155.50 174.23h0M157.00 172.83h0M158.50 171.62h0M160.00 170.98h0M161.50 171.78h0" fill="none" stroke="#1111ee" stroke-width="1.00" stroke-linecap="round" opacity="1.00"/><path d="M145.00 223.44h0M146.50 219.13h0M148.00 215.03h0M149.50 211.29h0M151.00 207.70h0M152.50 204.28h0M154.00 201.09h0M155.50 198.19h0M157.00 195.56h0M158.50 193.11h0M160.00 190.76h0M161.50 188.46h0M163.00 186.19h0M164.50 184.01h0M166.00 181.88h0M167.50 179.80h0M169.00 177.72h0M170.50 175.55h0M172.00 173.36h0M173.50 171.39h0M175.00 169.82h0M176.50 168.64h0M178.00 167.70h0M179.50 166.88h0M181.00 166.12h0M182.50 165.34h0M184.00 164.67h0M185.50 164.12h0" fill="none" stroke="#1111ee" stroke-width="2.80" stroke-linecap="round" opacity="1.00"/><path d="M136.00 224.07h0M137.50 217.83h0M139.00 211.88h0M140.50 206.49h0M142.00 202.07h0M143.50 198.63h0M145.00 195.84h0M146.50 193.45h0M148.00 191.21h0M149.50 188.98h0M151.00 187.07h0M152.50 185.35h0M154.00 183.66h0M155.50 181.83h0M157.00 179.69h0M158.50 177.22h0M160.00 174.55h0M161.50 171.73h0M163.00 168.79h0M164.50 165.80h0M166.00 162.87h0M167.50 159.91h0M169.00 156.64h0M170.50 152.77h0M172.00 147.97h0M173.50 142.34h0M175.00 136.45h0M176.50 130.90h0M178.00 126.16h0M179.50 121.87h0M181.00 118.03h0M182.50 114.88h0M184.00 113.16h0" fill="none" stroke="#1111ee" stroke-width="3.20" stroke-linecap="round" opacity="1.00"/><path d="M61.00 164.87h0M62.50 163.80h0M64.00 162.75h0M65.50 161.71h0M67.00 160.70h0M68.50 159.73h0M70.00 158.80h0M71.50 157.95h0M73.00 157.23h0M74.50 156.69h0M76.00 156.42h0M77.50 156.47h0M79.00 156.84h0M80.50 157.45h0M82.00 158.22h0M83.50 159.10h0M85.00 160.05h0M86.50 161.04h0M88.00 162.05h0M89.50 163.10h0M91.00 164.15h0" fill="none" stroke="#1111ee" stroke-width="3.40" stroke-linecap="round" opacity="1.00"/><path d="M64.00 169.34h0M65.50 167.74h0M67.00 166.16h0M68.50 164.60h0M70.00 163.07h0M71.50 161.61h0M73.00 160.27h0M74.50 159.17h0M76.00 158.55h0M77.50 158.68h0M79.00 159.50h0M80.50 160.70h0M82.00 162.09h0M83.50 163.58h0M85.00 165.12h0M86.50 166.68h0M88.00 168.27h0M89.50 169.88h0" fill="none" stroke="#1111ee" stroke-width="2.40" stroke-linecap="round" opacity="1.00"/><path d="M169.00 165.89h0M170.50 165.12h0M172.00 164.34h0M173.50 163.54h0M175.00 162.69h0M176.50 161.79h0M178.00 160.85h0M179.50 159.89h0M181.00 158.91h0M182.50 157.94h0M184.00 156.96h0" fill="none" stroke="#1111ee" stroke-width="3.00" stroke-linecap="round" opacity="1.00"/><path d="M131.50 222.69h0M133.00 220.62h0M134.50 218.53h0M136.00 216.37h0M137.50 214.11h0M139.00 211.65h0M140.50 208.78h0M142.00 205.58h0M143.50 202.27h0M145.00 199.16h0M146.50 196.52h0M148.00 194.15h0M149.50 191.92h0" fill="none" stroke="#1111ee" stroke-width="2.40" stroke-linecap="round" opacity="1.00"/></g><g clip-path="url(#cb)"><path d="M198.2 89.5C199.0 88.2 201.4 83.8 203.2 82.0C205.0 80.2 207.0 79.4 209.2 78.5C211.4 77.6 213.9 77.3 216.2 76.5C218.5 75.7 220.9 74.8 223.2 73.5C225.5 72.2 227.7 70.2 230.2 68.5C232.7 66.8 235.6 63.0 238.1 63.6C240.6 64.2 243.0 68.8 245.2 72.1C247.3 75.4 249.3 80.8 251.0 83.5C252.7 86.2 253.5 88.1 255.2 88.5C256.9 88.9 259.4 87.4 261.2 86.0C263.0 84.6 264.0 82.7 266.2 80.0C268.4 77.3 271.3 72.8 274.2 70.0C277.1 67.2 280.7 63.4 283.5 63.4C286.3 63.4 289.0 67.5 291.2 70.0C293.4 72.5 294.2 77.2 296.8 78.5C299.4 79.8 303.8 77.7 306.7 77.8C309.6 77.9 311.8 77.8 313.9 79.2C316.0 80.6 317.3 84.0 319.2 86.0C321.1 88.0 323.2 90.9 325.2 91.4C327.2 91.9 328.9 91.9 331.0 89.2C333.1 86.5 335.5 79.4 338.1 75.0C340.7 70.6 345.1 65.0 346.5 63.0" fill="none" stroke="#7a5ad8" stroke-width="0.60" stroke-linejoin="round" stroke-linecap="round" opacity="0.22" /><path d="M198.2 94.9C200.1 95.3 206.0 97.0 209.6 97.1C213.2 97.2 216.8 96.2 219.6 95.6C222.4 95.0 223.6 94.7 226.7 93.5C229.8 92.3 234.8 89.0 238.1 88.5C241.4 88.0 244.3 89.4 246.7 90.6C249.1 91.8 250.3 95.1 252.4 95.6C254.5 96.1 257.2 93.6 259.5 93.5C261.8 93.4 263.8 95.2 266.2 95.0C268.6 94.8 271.1 92.8 274.2 92.0C277.3 91.2 281.8 90.2 284.6 90.4C287.4 90.6 289.2 91.8 291.2 93.0C293.2 94.2 294.5 97.0 296.8 97.8C299.1 98.6 301.9 98.2 305.2 97.8C308.5 97.4 313.1 96.4 316.7 95.6C320.3 94.8 323.6 93.6 326.7 92.8C329.8 92.0 331.9 91.3 335.2 90.6C338.5 89.9 344.6 88.8 346.5 88.5" fill="none" stroke="#7a5ad8" stroke-width="0.60" stroke-linejoin="round" stroke-linecap="round" opacity="0.22" /><path d="M198.2 104.9C199.9 104.8 205.1 104.8 208.2 104.2C211.3 103.6 213.6 101.5 216.7 101.3C219.8 101.1 223.1 102.1 226.7 102.8C230.3 103.5 234.5 105.5 238.1 105.6C241.7 105.7 243.1 103.8 248.1 103.5C253.1 103.2 261.5 103.4 268.2 103.5C274.9 103.6 282.0 104.5 288.2 104.2C294.4 104.0 299.3 101.9 305.2 102.0C311.1 102.1 316.9 104.4 323.8 104.9C330.7 105.4 342.7 104.9 346.5 104.9" fill="none" stroke="#7a5ad8" stroke-width="0.60" stroke-linejoin="round" stroke-linecap="round" opacity="0.22" /><path d="M198.2 107.5C199.6 107.8 203.7 108.6 206.8 109.2C209.9 109.8 213.4 110.6 216.7 111.3C220.0 112.0 223.1 113.4 226.7 113.5C230.3 113.6 234.5 112.6 238.1 112.0C241.7 111.4 244.8 110.2 248.1 109.9C251.4 109.6 254.8 109.7 258.1 109.9C261.5 110.1 263.2 111.0 268.2 111.3C273.2 111.6 283.7 111.8 288.2 112.0C292.7 112.2 290.4 113.4 295.2 112.7C299.9 112.0 310.7 108.2 316.7 107.8C322.7 107.3 326.0 109.3 331.0 110.0C336.0 110.7 343.9 111.7 346.5 112.0" fill="none" stroke="#7a5ad8" stroke-width="0.60" stroke-linejoin="round" stroke-linecap="round" opacity="0.22" /><path d="M198.20 206.00h0M199.70 205.77h0M201.20 205.11h0M202.70 204.04h0M204.20 202.62h0M205.70 200.95h0M207.20 199.11h0M208.70 197.21h0M210.20 195.35h0M211.70 193.64h0M213.20 192.18h0M214.70 191.05h0M216.20 190.31h0M217.70 190.03h0M219.20 189.80h0M220.70 189.04h0M222.20 187.75h0M223.70 186.00h0M225.20 183.91h0M226.70 181.58h0M228.20 179.14h0M229.70 176.74h0M231.20 174.51h0M232.70 172.57h0M234.20 171.05h0M235.70 170.01h0M237.20 169.53h0M238.70 169.62h0M240.20 170.27h0M241.70 171.44h0M243.20 173.10h0M244.70 175.15h0M246.20 177.53h0M247.70 180.13h0M249.20 182.84h0M250.70 185.55h0M252.20 188.13h0M253.70 190.49h0M255.20 192.53h0M256.70 194.15h0M258.20 195.29h0M259.70 195.90h0M261.20 195.96h0M262.70 195.45h0M264.20 194.42h0M265.70 192.89h0M267.20 190.93h0M268.70 188.63h0M270.20 186.08h0M271.70 183.39h0M273.20 180.67h0M274.70 178.04h0M276.20 175.61h0M277.70 173.48h0M279.20 171.74h0M280.70 170.47h0M282.20 169.71h0M283.70 169.50h0M285.20 169.79h0M286.70 170.51h0M288.20 171.63h0M289.70 173.08h0M291.20 174.79h0M292.70 176.66h0M294.20 178.59h0M295.70 180.47h0M297.20 182.20h0M298.70 183.70h0M300.20 184.86h0M301.70 185.64h0M303.20 185.98h0M304.70 186.07h0M306.20 186.41h0M307.70 186.99h0M309.20 187.80h0M310.70 188.78h0M312.20 189.88h0M313.70 191.04h0M315.20 192.20h0M316.70 193.29h0M318.20 194.26h0M319.70 195.05h0M321.20 195.62h0M322.70 195.94h0M324.20 195.96h0M325.70 195.41h0M327.20 194.28h0M328.70 192.77h0M330.20 191.12h0M331.70 189.63h0M333.20 188.54h0M334.70 188.05h0M336.20 187.88h0M337.70 187.38h0M339.20 186.57h0M340.70 185.57h0M342.20 184.56h0M343.70 183.71h0M345.20 183.16h0" fill="none" stroke="#7a5ad8" stroke-width="2.20" stroke-linecap="round" opacity="1.00"/><path d="M198.20 222.00h0M199.70 221.75h0M201.20 220.99h0M202.70 219.79h0M204.20 218.20h0M205.70 216.32h0M207.20 214.25h0M208.70 212.11h0M210.20 210.01h0M211.70 208.09h0M213.20 206.45h0M214.70 205.18h0M216.20 204.35h0M217.70 204.03h0M219.20 203.81h0M220.70 203.08h0M222.20 201.86h0M223.70 200.20h0M225.20 198.20h0M226.70 195.99h0M228.20 193.67h0M229.70 191.39h0M231.20 189.26h0M232.70 187.42h0M234.20 185.97h0M235.70 184.99h0M237.20 184.53h0M238.70 184.62h0M240.20 185.24h0M241.70 186.37h0M243.20 187.96h0M244.70 189.94h0M246.20 192.23h0M247.70 194.73h0M249.20 197.34h0M250.70 199.94h0M252.20 202.43h0M253.70 204.70h0M255.20 206.66h0M256.70 208.22h0M258.20 209.31h0M259.70 209.90h0M261.20 209.96h0M262.70 209.47h0M264.20 208.48h0M265.70 207.00h0M267.20 205.12h0M268.70 202.91h0M270.20 200.45h0M271.70 197.86h0M273.20 195.25h0M274.70 192.72h0M276.20 190.38h0M277.70 188.33h0M279.20 186.65h0M280.70 185.43h0M282.20 184.70h0M283.70 184.50h0M285.20 184.75h0M286.70 185.39h0M288.20 186.37h0M289.70 187.65h0M291.20 189.15h0M292.70 190.79h0M294.20 192.49h0M295.70 194.14h0M297.20 195.66h0M298.70 196.98h0M300.20 198.00h0M301.70 198.68h0M303.20 198.98h0M304.70 199.07h0M306.20 199.37h0M307.70 199.89h0M309.20 200.62h0M310.70 201.50h0M312.20 202.49h0M313.70 203.54h0M315.20 204.58h0M316.70 205.57h0M318.20 206.44h0M319.70 207.15h0M321.20 207.66h0M322.70 207.95h0M324.20 207.96h0M325.70 207.41h0M327.20 206.28h0M328.70 204.77h0M330.20 203.12h0M331.70 201.63h0M333.20 200.54h0M334.70 200.05h0M336.20 199.88h0M337.70 199.38h0M339.20 198.57h0M340.70 197.57h0M342.20 196.56h0M343.70 195.71h0M345.20 195.16h0" fill="none" stroke="#4a3ae0" stroke-width="1.50" stroke-linecap="round" opacity="0.85"/><path d="M198.20 232.00h0M199.70 231.75h0M201.20 230.99h0M202.70 229.79h0M204.20 228.20h0M205.70 226.32h0M207.20 224.25h0M208.70 222.11h0M210.20 220.01h0M211.70 218.09h0M213.20 216.45h0M214.70 215.18h0M216.20 214.35h0M217.70 214.03h0M219.20 213.85h0M220.70 213.27h0M222.20 212.30h0M223.70 210.98h0M225.20 209.39h0M226.70 207.63h0M228.20 205.79h0M229.70 203.97h0M231.20 202.29h0M232.70 200.82h0M234.20 199.67h0M235.70 198.89h0M237.20 198.52h0M238.70 198.61h0M240.20 199.18h0M241.70 200.22h0M243.20 201.69h0M244.70 203.51h0M246.20 205.62h0M247.70 207.93h0M249.20 210.33h0M250.70 212.73h0M252.20 215.02h0M253.70 217.12h0M255.20 218.92h0M256.70 220.36h0M258.20 221.37h0M259.70 221.91h0M261.20 221.96h0M262.70 221.52h0M264.20 220.60h0M265.70 219.24h0M267.20 217.50h0M268.70 215.46h0M270.20 213.20h0M271.70 210.81h0M273.20 208.40h0M274.70 206.07h0M276.20 203.92h0M277.70 202.03h0M279.20 200.49h0M280.70 199.36h0M282.20 198.69h0M283.70 198.50h0M285.20 198.72h0M286.70 199.27h0M288.20 200.11h0M289.70 201.21h0M291.20 202.51h0M292.70 203.92h0M294.20 205.38h0M295.70 206.81h0M297.20 208.12h0M298.70 209.25h0M300.20 210.14h0M301.70 210.73h0M303.20 210.99h0M304.70 211.04h0M306.20 211.20h0M307.70 211.50h0M309.20 211.90h0M310.70 212.39h0M312.20 212.94h0M313.70 213.52h0M315.20 214.10h0M316.70 214.65h0M318.20 215.13h0M319.70 215.53h0M321.20 215.81h0M322.70 215.97h0M324.20 215.97h0M325.70 215.48h0M327.20 214.49h0M328.70 213.17h0M330.20 211.73h0M331.70 210.43h0M333.20 209.47h0M334.70 209.04h0M336.20 208.90h0M337.70 208.51h0M339.20 207.85h0M340.70 207.06h0M342.20 206.25h0M343.70 205.57h0M345.20 205.13h0" fill="none" stroke="#1111ee" stroke-width="1.68" stroke-linecap="round" opacity="1.00"/><path d="M198.20 240.00h0M199.70 239.80h0M201.20 239.22h0M202.70 238.28h0M204.20 237.05h0M205.70 235.58h0M207.20 233.97h0M208.70 232.31h0M210.20 230.68h0M211.70 229.18h0M213.20 227.91h0M214.70 226.92h0M216.20 226.27h0M217.70 226.02h0M219.20 225.86h0M220.70 225.32h0M222.20 224.41h0M223.70 223.17h0M225.20 221.69h0M226.70 220.04h0M228.20 218.32h0M229.70 216.62h0M231.20 215.04h0M232.70 213.67h0M234.20 212.60h0M235.70 211.86h0M237.20 211.52h0M238.70 211.60h0M240.20 212.10h0M241.70 213.00h0M243.20 214.28h0M244.70 215.87h0M246.20 217.71h0M247.70 219.72h0M249.20 221.82h0M250.70 223.91h0M252.20 225.92h0M253.70 227.74h0M255.20 229.31h0M256.70 230.57h0M258.20 231.45h0M259.70 231.92h0M261.20 231.97h0M262.70 231.58h0M264.20 230.78h0M265.70 229.59h0M267.20 228.08h0M268.70 226.30h0M270.20 224.32h0M271.70 222.24h0M273.20 220.14h0M274.70 218.10h0M276.20 216.23h0M277.70 214.58h0M279.20 213.23h0M280.70 212.25h0M282.20 211.66h0M283.70 211.50h0M285.20 211.67h0M286.70 212.08h0M288.20 212.73h0M289.70 213.56h0M291.20 214.54h0M292.70 215.62h0M294.20 216.73h0M295.70 217.82h0M297.20 218.81h0M298.70 219.67h0M300.20 220.34h0M301.70 220.79h0M303.20 220.99h0M304.70 221.02h0M306.20 221.12h0M307.70 221.30h0M309.20 221.54h0M310.70 221.83h0M312.20 222.16h0M313.70 222.51h0M315.20 222.86h0M316.70 223.19h0M318.20 223.48h0M319.70 223.72h0M321.20 223.89h0M322.70 223.98h0M324.20 223.97h0M325.70 223.56h0M327.20 222.71h0M328.70 221.57h0M330.20 220.34h0M331.70 219.22h0M333.20 218.40h0M334.70 218.04h0M336.20 217.90h0M337.70 217.51h0M339.20 216.85h0M340.70 216.06h0M342.20 215.25h0M343.70 214.57h0M345.20 214.13h0" fill="none" stroke="#1111ee" stroke-width="1.40" stroke-linecap="round" opacity="1.00"/><path d="M198.20 242.00h0M199.70 241.89h0M201.20 241.55h0M202.70 241.02h0M204.20 240.31h0M205.70 239.48h0M207.20 238.56h0M208.70 237.60h0M210.20 236.67h0M211.70 235.82h0M213.20 235.09h0M214.70 234.52h0M216.20 234.15h0M217.70 234.02h0M219.20 233.88h0M220.70 233.44h0M222.20 232.68h0M223.70 231.66h0M225.20 230.43h0M226.70 229.07h0M228.20 227.64h0M229.70 226.24h0M231.20 224.93h0M232.70 223.80h0M234.20 222.91h0M235.70 222.30h0M237.20 222.02h0M238.70 222.08h0M240.20 222.47h0M241.70 223.17h0M243.20 224.17h0M244.70 225.41h0M246.20 226.85h0M247.70 228.42h0M249.20 230.05h0M250.70 231.69h0M252.20 233.25h0M253.70 234.68h0M255.20 235.90h0M256.70 236.88h0M258.20 237.57h0M259.70 237.94h0M261.20 237.97h0M262.70 237.67h0M264.20 237.04h0M265.70 236.12h0M267.20 234.94h0M268.70 233.55h0M270.20 232.01h0M271.70 230.38h0M273.20 228.74h0M274.70 227.15h0M276.20 225.69h0M277.70 224.40h0M279.20 223.35h0M280.70 222.58h0M282.20 222.13h0M283.70 222.00h0M285.20 222.12h0M286.70 222.43h0M288.20 222.90h0M289.70 223.52h0M291.20 224.24h0M292.70 225.04h0M294.20 225.86h0M295.70 226.65h0M297.20 227.39h0M298.70 228.02h0M300.20 228.52h0M301.70 228.85h0M303.20 228.99h0M304.70 229.00h0M306.20 229.00h0M307.70 229.00h0M309.20 229.00h0M310.70 229.00h0M312.20 229.00h0M313.70 229.00h0M315.20 229.00h0M316.70 229.00h0M318.20 229.00h0M319.70 229.00h0M321.20 229.00h0M322.70 229.00h0M324.20 228.99h0M325.70 228.78h0M327.20 228.35h0M328.70 227.79h0M330.20 227.17h0M331.70 226.61h0M333.20 226.20h0M334.70 226.02h0M336.20 225.95h0M337.70 225.75h0M339.20 225.43h0M340.70 225.03h0M342.20 224.62h0M343.70 224.28h0M345.20 224.06h0" fill="none" stroke="#4a3ae0" stroke-width="1.50" stroke-linecap="round" opacity="0.85"/><path d="M198.20 180.00h0M199.70 179.93h0M201.20 179.72h0M202.70 179.39h0M204.20 178.94h0M205.70 178.42h0M207.20 177.85h0M208.70 177.25h0M210.20 176.67h0M211.70 176.14h0M213.20 175.68h0M214.70 175.33h0M216.20 175.10h0M217.70 174.99h0M219.20 175.25h0M220.70 176.18h0M222.20 177.75h0M223.70 179.88h0M225.20 182.43h0M226.70 185.27h0M228.20 188.24h0M229.70 191.17h0M231.20 193.89h0M232.70 196.25h0M234.20 198.11h0M235.70 199.37h0M237.20 199.95h0M238.70 199.91h0M240.20 199.42h0M241.70 198.53h0M243.20 197.29h0M244.70 195.73h0M246.20 193.94h0M247.70 191.98h0M249.20 189.93h0M250.70 187.89h0M252.20 185.94h0M253.70 184.16h0M255.20 182.62h0M256.70 181.40h0M258.20 180.54h0M259.70 180.07h0M261.20 180.06h0M262.70 180.72h0M264.20 182.09h0M265.70 184.11h0M267.20 186.70h0M268.70 189.74h0M270.20 193.10h0M271.70 196.66h0M273.20 200.25h0M274.70 203.72h0M276.20 206.93h0M277.70 209.75h0M279.20 212.04h0M280.70 213.72h0M282.20 214.72h0M283.70 215.00h0M285.20 214.65h0M286.70 213.77h0M288.20 212.42h0M289.70 210.66h0M291.20 208.59h0M292.70 206.32h0M294.20 203.98h0M295.70 201.70h0M297.20 199.60h0M298.70 197.79h0M300.20 196.38h0M301.70 195.44h0M303.20 195.02h0M304.70 194.89h0M306.20 194.39h0M307.70 193.51h0M309.20 192.31h0M310.70 190.84h0M312.20 189.19h0M313.70 187.44h0M315.20 185.70h0M316.70 184.06h0M318.20 182.61h0M319.70 181.42h0M321.20 180.57h0M322.70 180.09h0M324.20 180.05h0M325.70 180.74h0M327.20 182.15h0M328.70 184.04h0M330.20 186.10h0M331.70 187.96h0M333.20 189.33h0M334.70 189.93h0M336.20 190.24h0M337.70 191.23h0M339.20 192.86h0M340.70 194.86h0M342.20 196.88h0M343.70 198.59h0M345.20 199.68h0" fill="none" stroke="#4a3ae0" stroke-width="1.50" stroke-linecap="round" opacity="0.85"/><path d="M198.20 196.00h0M199.70 195.86h0M201.20 195.44h0M202.70 194.77h0M204.20 193.89h0M205.70 192.84h0M207.20 191.69h0M208.70 190.50h0M210.20 189.34h0M211.70 188.27h0M213.20 187.36h0M214.70 186.65h0M216.20 186.19h0M217.70 185.98h0M219.20 186.39h0M220.70 187.88h0M222.20 190.40h0M223.70 193.80h0M225.20 197.89h0M226.70 202.44h0M228.20 207.19h0M229.70 211.88h0M231.20 216.23h0M232.70 220.00h0M234.20 222.98h0M235.70 225.00h0M237.20 225.92h0M238.70 225.90h0M240.20 225.36h0M241.70 224.39h0M243.20 223.01h0M244.70 221.31h0M246.20 219.33h0M247.70 217.17h0M249.20 214.93h0M250.70 212.68h0M252.20 210.53h0M253.70 208.57h0M255.20 206.88h0M256.70 205.54h0M258.20 204.59h0M259.70 204.08h0M261.20 204.04h0M262.70 204.49h0M264.20 205.43h0M265.70 206.82h0M267.20 208.59h0M268.70 210.68h0M270.20 212.99h0M271.70 215.42h0M273.20 217.89h0M274.70 220.27h0M276.20 222.47h0M277.70 224.40h0M279.20 225.97h0M280.70 227.13h0M282.20 227.81h0M283.70 228.00h0M285.20 227.72h0M286.70 227.02h0M288.20 225.94h0M289.70 224.53h0M291.20 222.87h0M292.70 221.06h0M294.20 219.19h0M295.70 217.36h0M297.20 215.68h0M298.70 214.23h0M300.20 213.10h0M301.70 212.35h0M303.20 212.02h0M304.70 211.82h0M306.20 211.02h0M307.70 209.62h0M309.20 207.69h0M310.70 205.34h0M312.20 202.70h0M313.70 199.91h0M315.20 197.12h0M316.70 194.49h0M318.20 192.17h0M319.70 190.27h0M321.20 188.90h0M322.70 188.14h0M324.20 188.06h0M325.70 188.89h0M327.20 190.58h0M328.70 192.85h0M330.20 195.32h0M331.70 197.55h0M333.20 199.19h0M334.70 199.93h0M336.20 200.20h0M337.70 200.99h0M339.20 202.29h0M340.70 203.89h0M342.20 205.50h0M343.70 206.87h0M345.20 207.75h0" fill="none" stroke="#4a3ae0" stroke-width="1.50" stroke-linecap="round" opacity="0.85"/><path d="M198.20 214.00h0M199.70 213.80h0M201.20 213.22h0M202.70 212.28h0M204.20 211.05h0M205.70 209.58h0M207.20 207.97h0M208.70 206.31h0M210.20 204.68h0M211.70 203.18h0M213.20 201.91h0M214.70 200.92h0M216.20 200.27h0M217.70 199.99h0M219.20 200.35h0M220.70 201.69h0M222.20 203.96h0M223.70 207.02h0M225.20 210.70h0M226.70 214.79h0M228.20 219.07h0M229.70 223.29h0M231.20 227.21h0M232.70 230.60h0M234.20 233.28h0M235.70 235.10h0M237.20 235.93h0M238.70 235.90h0M240.20 235.36h0M241.70 234.39h0M243.20 233.01h0M244.70 231.31h0M246.20 229.33h0M247.70 227.17h0M249.20 224.93h0M250.70 222.68h0M252.20 220.53h0M253.70 218.57h0M255.20 216.88h0M256.70 215.54h0M258.20 214.59h0M259.70 214.08h0M261.20 214.04h0M262.70 214.45h0M264.20 215.31h0M265.70 216.58h0M267.20 218.21h0M268.70 220.12h0M270.20 222.24h0M271.70 224.47h0M273.20 226.73h0M274.70 228.91h0M276.20 230.93h0M277.70 232.70h0M279.20 234.14h0M280.70 235.20h0M282.20 235.83h0M283.70 236.00h0M285.20 235.72h0M286.70 235.02h0M288.20 233.94h0M289.70 232.53h0M291.20 230.87h0M292.70 229.06h0M294.20 227.19h0M295.70 225.36h0M297.20 223.68h0M298.70 222.23h0M300.20 221.10h0M301.70 220.35h0M303.20 220.02h0M304.70 219.90h0M306.20 219.43h0M307.70 218.61h0M309.20 217.48h0M310.70 216.11h0M312.20 214.57h0M313.70 212.95h0M315.20 211.32h0M316.70 209.79h0M318.20 208.43h0M319.70 207.32h0M321.20 206.53h0M322.70 206.08h0M324.20 206.03h0M325.70 206.44h0M327.20 207.29h0M328.70 208.43h0M330.20 209.66h0M331.70 210.78h0M333.20 211.60h0M334.70 211.96h0M336.20 212.10h0M337.70 212.49h0M339.20 213.15h0M340.70 213.94h0M342.20 214.75h0M343.70 215.43h0M345.20 215.87h0" fill="none" stroke="#4a3ae0" stroke-width="1.50" stroke-linecap="round" opacity="0.85"/><path d="M198.20 228.00h0M199.70 227.83h0M201.20 227.33h0M202.70 226.53h0M204.20 225.47h0M205.70 224.21h0M207.20 222.83h0M208.70 221.40h0M210.20 220.01h0M211.70 218.73h0M213.20 217.63h0M214.70 216.78h0M216.20 216.23h0M217.70 216.00h0M219.20 216.14h0M220.70 216.66h0M222.20 217.54h0M223.70 218.73h0M225.20 220.16h0M226.70 221.75h0M228.20 223.42h0M229.70 225.06h0M231.20 226.58h0M232.70 227.90h0M234.20 228.94h0M235.70 229.65h0M237.20 229.97h0M238.70 229.98h0M240.20 229.88h0M241.70 229.71h0M243.20 229.46h0M244.70 229.15h0M246.20 228.79h0M247.70 228.40h0M249.20 227.99h0M250.70 227.58h0M252.20 227.19h0M253.70 226.83h0M255.20 226.52h0M256.70 226.28h0M258.20 226.11h0M259.70 226.02h0M261.20 226.01h0M262.70 226.10h0M264.20 226.30h0M265.70 226.59h0M267.20 226.96h0M268.70 227.39h0M270.20 227.87h0M271.70 228.38h0M273.20 228.89h0M274.70 229.39h0M276.20 229.85h0M277.70 230.25h0M279.20 230.58h0M280.70 230.82h0M282.20 230.96h0M283.70 231.00h0M285.20 230.91h0M286.70 230.69h0M288.20 230.36h0M289.70 229.92h0M291.20 229.40h0M292.70 228.83h0M294.20 228.25h0M295.70 227.68h0M297.20 227.15h0M298.70 226.70h0M300.20 226.34h0M301.70 226.11h0M303.20 226.01h0M304.70 225.93h0M306.20 225.59h0M307.70 225.01h0M309.20 224.20h0M310.70 223.22h0M312.20 222.12h0M313.70 220.96h0M315.20 219.80h0M316.70 218.71h0M318.20 217.74h0M319.70 216.95h0M321.20 216.38h0M322.70 216.06h0M324.20 216.02h0M325.70 216.30h0M327.20 216.86h0M328.70 217.62h0M330.20 218.44h0M331.70 219.18h0M333.20 219.73h0M334.70 219.97h0M336.20 220.10h0M337.70 220.49h0M339.20 221.15h0M340.70 221.94h0M342.20 222.75h0M343.70 223.43h0M345.20 223.87h0" fill="none" stroke="#4a3ae0" stroke-width="1.50" stroke-linecap="round" opacity="0.85"/><path d="M198.20 190.00h0M199.70 189.89h0M201.20 189.55h0M202.70 189.02h0M204.20 188.31h0M205.70 187.48h0M207.20 186.56h0M208.70 185.60h0M210.20 184.67h0M211.70 183.82h0M213.20 183.09h0M214.70 182.52h0M216.20 182.15h0M217.70 182.02h0M219.20 181.78h0M220.70 180.96h0M222.20 179.58h0M223.70 177.71h0M225.20 175.46h0M226.70 172.96h0M228.20 170.35h0M229.70 167.77h0M231.20 165.37h0M232.70 163.30h0M234.20 161.66h0M235.70 160.55h0M237.20 160.04h0M238.70 160.11h0M240.20 160.70h0M241.70 161.76h0M243.20 163.26h0M244.70 165.12h0M246.20 167.28h0M247.70 169.63h0M249.20 172.08h0M250.70 174.53h0M252.20 176.88h0M253.70 179.01h0M255.20 180.85h0M256.70 182.32h0M258.20 183.36h0M259.70 183.91h0M261.20 183.96h0M262.70 183.55h0M264.20 182.69h0M265.70 181.42h0M267.20 179.79h0M268.70 177.88h0M270.20 175.76h0M271.70 173.53h0M273.20 171.27h0M274.70 169.09h0M276.20 167.07h0M277.70 165.30h0M279.20 163.86h0M280.70 162.80h0M282.20 162.17h0M283.70 162.00h0M285.20 162.25h0M286.70 162.86h0M288.20 163.81h0M289.70 165.04h0M291.20 166.49h0M292.70 168.07h0M294.20 169.71h0M295.70 171.31h0M297.20 172.78h0M298.70 174.04h0M300.20 175.03h0M301.70 175.69h0M303.20 175.98h0M304.70 176.07h0M306.20 176.41h0M307.70 176.99h0M309.20 177.80h0M310.70 178.78h0M312.20 179.88h0M313.70 181.04h0M315.20 182.20h0M316.70 183.29h0M318.20 184.26h0M319.70 185.05h0M321.20 185.62h0M322.70 185.94h0M324.20 185.97h0M325.70 185.56h0M327.20 184.71h0M328.70 183.57h0M330.20 182.34h0M331.70 181.22h0M333.20 180.40h0M334.70 180.04h0M336.20 179.90h0M337.70 179.51h0M339.20 178.85h0M340.70 178.06h0M342.20 177.25h0M343.70 176.57h0M345.20 176.13h0" fill="none" stroke="#4a3ae0" stroke-width="1.50" stroke-linecap="round" opacity="0.85"/><path d="M198.20 170.00h0M199.70 170.42h0M201.20 171.68h0M202.70 173.68h0M204.20 176.33h0M205.70 179.47h0M207.20 182.92h0M208.70 186.49h0M210.20 189.98h0M211.70 193.18h0M213.20 195.92h0M214.70 198.04h0M216.20 199.42h0M217.70 199.94h0M219.20 200.39h0M220.70 201.88h0M222.20 204.40h0M223.70 207.80h0M225.20 211.89h0M226.70 216.44h0M228.20 221.19h0M229.70 225.88h0M231.20 230.23h0M232.70 234.00h0M234.20 236.98h0M235.70 239.00h0M237.20 239.91h0M238.70 239.96h0M240.20 239.71h0M241.70 239.27h0M243.20 238.64h0M244.70 237.87h0M246.20 236.97h0M247.70 235.99h0M249.20 234.97h0M250.70 233.94h0M252.20 232.97h0M253.70 232.08h0M255.20 231.31h0M256.70 230.70h0M258.20 230.27h0M259.70 230.05h0M261.20 229.92h0M262.70 228.97h0M264.20 227.01h0M265.70 224.13h0M267.20 220.43h0M268.70 216.09h0M270.20 211.28h0M271.70 206.20h0M273.20 201.07h0M274.70 196.11h0M276.20 191.52h0M277.70 187.51h0M279.20 184.23h0M280.70 181.82h0M282.20 180.40h0M283.70 179.99h0M285.20 180.18h0M286.70 180.61h0M288.20 181.29h0M289.70 182.17h0M291.20 183.20h0M292.70 184.34h0M294.20 185.51h0M295.70 186.65h0M297.20 187.70h0M298.70 188.60h0M300.20 189.31h0M301.70 189.78h0M303.20 189.99h0M304.70 190.18h0M306.20 190.98h0M307.70 192.38h0M309.20 194.31h0M310.70 196.66h0M312.20 199.30h0M313.70 202.09h0M315.20 204.88h0M316.70 207.51h0M318.20 209.83h0M319.70 211.73h0M321.20 213.10h0M322.70 213.85h0M324.20 214.03h0M325.70 214.44h0M327.20 215.29h0M328.70 216.43h0M330.20 217.66h0M331.70 218.78h0M333.20 219.60h0M334.70 219.96h0M336.20 220.15h0M337.70 220.74h0M339.20 221.72h0M340.70 222.92h0M342.20 224.13h0M343.70 225.15h0M345.20 225.81h0" fill="none" stroke="#4a3ae0" stroke-width="1.50" stroke-linecap="round" opacity="0.85"/><path d="M205.70 27.53h0M207.20 33.51h0M208.70 41.56h0M210.20 49.91h0M211.70 57.82h0M213.20 66.07h0M214.70 75.46h0M216.20 82.51h0M217.70 89.50h0M219.20 94.45h0M220.70 100.25h0M222.20 105.22h0M223.70 108.04h0M225.20 109.72h0M226.70 111.85h0M228.20 114.09h0M229.70 116.19h0" fill="none" stroke="#ee1111" stroke-width="3.60" stroke-linecap="round" opacity="1.00"/><path d="M205.70 27.53h0M207.20 33.51h0M208.70 41.56h0M210.20 49.91h0M211.70 57.82h0M213.20 66.07h0M214.70 75.46h0M216.20 82.51h0M217.70 89.50h0M219.20 94.45h0M220.70 100.25h0M222.20 105.22h0M223.70 108.04h0M225.20 109.72h0M226.70 111.85h0M228.20 114.09h0M229.70 116.19h0" fill="none" stroke="#1111ee" stroke-width="1.50" stroke-linecap="round" opacity="1.00"/><path d="M237.20 21.83h0M235.70 30.34h0M234.20 40.19h0M232.70 53.23h0M231.20 68.96h0M229.70 84.21h0M228.20 101.36h0" fill="none" stroke="#1111ee" stroke-width="3.00" stroke-linecap="round" opacity="1.00"/><path d="M238.70 23.66h0M240.20 30.85h0M241.70 40.02h0M243.20 50.39h0M244.70 62.40h0M246.20 73.45h0M247.70 80.18h0M249.20 83.63h0" fill="none" stroke="#1111ee" stroke-width="3.00" stroke-linecap="round" opacity="1.00"/><path d="M250.70 86.04h0M252.20 84.07h0M253.70 82.06h0M255.20 79.92h0M256.70 77.75h0M258.20 73.98h0M259.70 66.78h0M261.20 60.01h0M262.70 54.31h0M264.20 48.93h0M265.70 43.77h0M267.20 38.85h0M268.70 34.13h0M270.20 29.56h0M271.70 25.12h0M273.20 20.82h0M274.70 16.69h0M276.20 12.84h0M277.70 9.53h0M279.20 6.69h0" fill="none" stroke="#ee1111" stroke-width="3.20" stroke-linecap="round" opacity="1.00"/><path d="M250.70 86.04h0M252.20 84.07h0M253.70 82.06h0M255.20 79.92h0M256.70 77.75h0M258.20 73.98h0M259.70 66.78h0M261.20 60.01h0M262.70 54.31h0M264.20 48.93h0M265.70 43.77h0M267.20 38.85h0M268.70 34.13h0M270.20 29.56h0M271.70 25.12h0M273.20 20.82h0M274.70 16.69h0M276.20 12.84h0M277.70 9.53h0M279.20 6.69h0" fill="none" stroke="#1111ee" stroke-width="2.00" stroke-linecap="round" opacity="1.00"/><path d="M234.20 39.05h0M235.70 29.22h0M237.20 19.70h0M238.70 20.62h0M240.20 30.08h0M241.70 40.19h0" fill="none" stroke="#ee1111" stroke-width="3.20" stroke-linecap="round" opacity="1.00"/><path d="M234.20 39.05h0M235.70 29.22h0M237.20 19.70h0M238.70 20.62h0M240.20 30.08h0M241.70 40.19h0" fill="none" stroke="#1111ee" stroke-width="1.60" stroke-linecap="round" opacity="1.00"/><path d="" fill="none" stroke="#1111ee" stroke-width="3.20" stroke-linecap="round" opacity="1.00"/><path d="M286.70 6.50h0M288.20 9.48h0M289.70 13.97h0M291.20 20.04h0M292.70 26.22h0M294.20 31.70h0M295.70 36.95h0M297.20 42.21h0" fill="none" stroke="#ee1111" stroke-width="3.40" stroke-linecap="round" opacity="1.00"/><path d="M286.70 6.50h0M288.20 9.48h0M289.70 13.97h0M291.20 20.04h0M292.70 26.22h0M294.20 31.70h0M295.70 36.95h0M297.20 42.21h0" fill="none" stroke="#1111ee" stroke-width="1.80" stroke-linecap="round" opacity="1.00"/><path d="M297.20 42.06h0M298.70 46.92h0M300.20 51.09h0M301.70 54.64h0M303.20 58.01h0M304.70 61.48h0M306.20 65.55h0M307.70 70.44h0M309.20 74.83h0M310.70 77.30h0M312.20 76.98h0M313.70 74.90h0M315.20 71.91h0M316.70 68.56h0M318.20 62.90h0M319.70 58.89h0M321.20 55.68h0M322.70 52.94h0M324.20 50.82h0M325.70 49.45h0M327.20 48.25h0M328.70 46.63h0M330.20 44.23h0M331.70 41.38h0M333.20 38.17h0M334.70 34.72h0M336.20 30.84h0M337.70 26.64h0M339.20 22.53h0M340.70 18.84h0M342.20 15.46h0M343.70 12.20h0M345.20 9.00h0" fill="none" stroke="#1111ee" stroke-width="3.20" stroke-linecap="round" opacity="1.00"/><path d="M297.20 7.65h0M298.70 9.91h0M300.20 12.21h0M301.70 14.55h0M303.20 16.99h0M304.70 19.58h0M306.20 22.45h0M307.70 25.56h0M309.20 28.89h0M310.70 32.45h0M312.20 36.22h0M313.70 40.38h0M315.20 45.24h0M316.70 50.39h0M318.20 55.34h0M319.70 60.41h0M321.20 65.20h0M322.70 68.51h0M324.20 67.69h0M325.70 66.41h0M327.20 64.27h0M328.70 61.05h0M330.20 56.91h0M331.70 52.42h0M333.20 47.94h0M334.70 43.77h0M336.20 39.88h0M337.70 36.09h0M339.20 32.36h0M340.70 28.68h0M342.20 25.03h0M343.70 21.52h0M345.20 18.15h0" fill="none" stroke="#ee1111" stroke-width="3.80" stroke-linecap="round" opacity="1.00"/><path d="M297.20 7.65h0M298.70 9.91h0M300.20 12.21h0M301.70 14.55h0M303.20 16.99h0M304.70 19.58h0M306.20 22.45h0M307.70 25.56h0M309.20 28.89h0M310.70 32.45h0M312.20 36.22h0M313.70 40.38h0M315.20 45.24h0M316.70 50.39h0M318.20 55.34h0M319.70 60.41h0M321.20 65.20h0M322.70 68.51h0M324.20 67.69h0M325.70 66.41h0M327.20 64.27h0M328.70 61.05h0M330.20 56.91h0M331.70 52.42h0M333.20 47.94h0M334.70 43.77h0M336.20 39.88h0M337.70 36.09h0M339.20 32.36h0M340.70 28.68h0M342.20 25.03h0M343.70 21.52h0M345.20 18.15h0" fill="none" stroke="#1111ee" stroke-width="1.40" stroke-linecap="round" opacity="1.00"/><path d="M255.20 3.15h0M256.70 4.46h0M258.20 5.70h0M259.70 6.65h0M261.20 6.98h0M262.70 6.43h0M264.20 5.39h0M265.70 4.11h0" fill="none" stroke="#ee1111" stroke-width="2.60" stroke-linecap="round" opacity="1.00"/><path d="M255.20 3.15h0M256.70 4.46h0M258.20 5.70h0M259.70 6.65h0M261.20 6.98h0M262.70 6.43h0M264.20 5.39h0M265.70 4.11h0" fill="none" stroke="#1111ee" stroke-width="1.20" stroke-linecap="round" opacity="1.00"/><path d="M315.20 3.14h0M316.70 4.42h0M318.20 5.72h0M319.70 6.90h0M321.20 7.87h0M322.70 8.49h0M324.20 8.51h0M325.70 7.92h0M327.20 6.97h0M328.70 5.81h0M330.20 4.51h0M331.70 3.22h0" fill="none" stroke="#ee1111" stroke-width="3.00" stroke-linecap="round" opacity="1.00"/><path d="M315.20 3.14h0M316.70 4.42h0M318.20 5.72h0M319.70 6.90h0M321.20 7.87h0M322.70 8.49h0M324.20 8.51h0M325.70 7.92h0M327.20 6.97h0M328.70 5.81h0M330.20 4.51h0M331.70 3.22h0" fill="none" stroke="#1111ee" stroke-width="1.40" stroke-linecap="round" opacity="1.00"/><path d="M199.70 211.53h0M201.20 206.23h0M202.70 201.02h0M204.20 196.03h0M205.70 191.19h0M207.20 186.35h0M208.70 181.53h0M210.20 176.66h0M211.70 171.60h0M213.20 166.29h0M214.70 161.02h0M216.20 156.03h0M217.70 151.19h0M219.20 146.35h0M220.70 141.39h0M222.20 136.48h0M223.70 131.99h0M225.20 128.04h0" fill="none" stroke="#ee1111" stroke-width="2.00" stroke-linecap="round" opacity="1.00"/><path d="M199.70 211.53h0M201.20 206.23h0M202.70 201.02h0M204.20 196.03h0M205.70 191.19h0M207.20 186.35h0M208.70 181.53h0M210.20 176.66h0M211.70 171.60h0M213.20 166.29h0M214.70 161.02h0M216.20 156.03h0M217.70 151.19h0M219.20 146.35h0M220.70 141.39h0M222.20 136.48h0M223.70 131.99h0M225.20 128.04h0" fill="none" stroke="#1111ee" stroke-width="1.00" stroke-linecap="round" opacity="1.00"/><path d="M268.70 112.25h0M270.20 112.86h0M271.70 113.43h0M273.20 113.94h0M274.70 114.33h0M276.20 114.50h0M277.70 114.27h0M279.20 113.75h0M280.70 113.13h0M282.20 112.65h0M283.70 112.51h0M285.20 112.80h0M286.70 113.34h0M288.20 113.94h0M289.70 114.38h0M291.20 114.49h0M292.70 114.25h0M294.20 113.82h0M295.70 113.29h0M297.20 112.70h0M298.70 112.10h0" fill="none" stroke="#7a5ad8" stroke-width="1.20" stroke-linecap="round" opacity="0.60"/><path d="M268.70 114.24h0M270.20 113.62h0M271.70 113.03h0M273.20 112.52h0M274.70 112.14h0M276.20 112.01h0M277.70 112.32h0M279.20 112.98h0M280.70 113.74h0M282.20 114.32h0M283.70 114.49h0M285.20 114.14h0M286.70 113.48h0M288.20 112.75h0M289.70 112.19h0M291.20 112.01h0M292.70 112.22h0M294.20 112.64h0M295.70 113.18h0M297.20 113.79h0M298.70 114.40h0" fill="none" stroke="#7a5ad8" stroke-width="1.20" stroke-linecap="round" opacity="0.60"/><path d="M262.70 151.67h0M264.20 148.72h0M265.70 145.79h0M267.20 142.87h0M268.70 139.97h0M270.20 137.09h0M271.70 134.23h0M273.20 131.41h0M274.70 128.65h0M276.20 125.97h0M277.70 123.43h0M279.20 121.10h0M280.70 119.15h0M282.20 117.85h0M283.70 117.52h0M285.20 118.27h0M286.70 119.87h0M288.20 122.00h0M289.70 124.43h0M291.20 127.03h0M292.70 129.75h0M294.20 132.53h0M295.70 135.37h0M297.20 138.24h0M298.70 141.13h0M300.20 144.04h0M301.70 146.96h0M303.20 149.90h0M304.70 152.84h0" fill="none" stroke="#7a5ad8" stroke-width="1.20" stroke-linecap="round" opacity="0.60"/><path d="M223.70 111.20h0M225.20 111.09h0M226.70 110.99h0M228.20 110.98h0M229.70 111.14h0M231.20 111.60h0M232.70 112.31h0M234.20 113.09h0M235.70 113.80h0M237.20 114.25h0M238.70 114.13h0M240.20 113.29h0M241.70 112.11h0M243.20 111.30h0M244.70 111.20h0M246.20 111.41h0M247.70 111.75h0" fill="none" stroke="#1111ee" stroke-width="3.40" stroke-linecap="round" opacity="1.00"/><path d="M226.70 118.96h0M225.20 125.03h0M223.70 130.13h0M222.20 133.83h0M220.70 137.80h0M219.20 142.56h0M217.70 147.55h0M216.20 152.65h0M214.70 157.75h0M213.20 162.77h0M211.70 168.72h0M210.20 176.48h0M208.70 183.32h0M207.20 188.86h0M205.70 193.99h0M204.20 198.96h0M202.70 203.86h0M201.20 208.74h0M199.70 213.61h0M198.20 218.30h0" fill="none" stroke="#1111ee" stroke-width="3.20" stroke-linecap="round" opacity="1.00"/><path d="M237.20 114.86h0M235.70 116.46h0M234.20 118.10h0M232.70 119.86h0M231.20 121.89h0M229.70 124.61h0M228.20 128.15h0M226.70 132.00h0M225.20 135.66h0M223.70 139.63h0M222.20 145.02h0M220.70 152.42h0M219.20 157.76h0M217.70 165.41h0M216.20 175.19h0M214.70 184.81h0M213.20 192.96h0M211.70 199.50h0M210.20 205.36h0M208.70 210.98h0M207.20 216.80h0M205.70 223.26h0M204.20 230.10h0" fill="none" stroke="#1111ee" stroke-width="2.60" stroke-linecap="round" opacity="1.00"/><path d="M238.70 115.40h0M240.20 117.03h0M241.70 118.82h0M243.20 121.00h0M244.70 123.88h0M246.20 127.26h0M247.70 130.98h0M249.20 134.94h0M250.70 139.41h0M252.20 144.33h0M253.70 149.49h0M255.20 155.52h0M256.70 163.04h0M258.20 171.31h0M259.70 178.55h0M261.20 183.89h0M262.70 187.82h0M264.20 191.14h0M265.70 194.25h0M267.20 197.46h0M268.70 201.32h0M270.20 205.92h0M271.70 211.01h0" fill="none" stroke="#1111ee" stroke-width="2.60" stroke-linecap="round" opacity="1.00"/><path d="M247.70 117.61h0M249.20 123.17h0M250.70 128.11h0M252.20 132.54h0M253.70 136.89h0M255.20 141.43h0M256.70 146.07h0M258.20 150.82h0M259.70 156.02h0M261.20 164.15h0M262.70 170.45h0M264.20 175.67h0M265.70 179.82h0M267.20 182.26h0M268.70 182.64h0M270.20 181.69h0M271.70 180.14h0M273.20 178.51h0M274.70 177.19h0M276.20 176.31h0M277.70 175.48h0M279.20 174.72h0M280.70 174.09h0M282.20 173.65h0M283.70 173.49h0M285.20 173.75h0M286.70 174.36h0M288.20 175.14h0M289.70 175.87h0M291.20 176.61h0M292.70 177.57h0M294.20 178.54h0M295.70 179.35h0M297.20 179.76h0M298.70 179.38h0M300.20 177.78h0M301.70 174.95h0M303.20 171.63h0M304.70 168.51h0M306.20 164.71h0M307.70 160.85h0M309.20 157.71h0M310.70 156.00h0M312.20 156.11h0M313.70 157.47h0M315.20 159.46h0M316.70 161.53h0M318.20 163.19h0M319.70 164.78h0M321.20 166.49h0M322.70 168.06h0M324.20 169.22h0M325.70 169.58h0M327.20 168.67h0M328.70 166.67h0M330.20 164.26h0M331.70 162.27h0M333.20 161.20h0M334.70 160.59h0M336.20 160.21h0M337.70 159.80h0M339.20 159.30h0M340.70 158.82h0M342.20 158.36h0M343.70 157.90h0M345.20 157.45h0" fill="none" stroke="#1111ee" stroke-width="3.40" stroke-linecap="round" opacity="1.00"/><path d="M250.70 143.26h0M252.20 146.33h0M253.70 149.61h0M255.20 153.90h0M256.70 163.80h0M258.20 170.34h0M259.70 176.49h0M261.20 182.20h0M262.70 187.51h0M264.20 193.24h0M265.70 197.83h0M267.20 199.92h0M268.70 199.17h0M270.20 196.49h0M271.70 192.98h0M273.20 189.42h0M274.70 186.47h0M276.20 184.28h0M277.70 182.22h0M279.20 180.39h0M280.70 178.91h0M282.20 177.99h0M283.70 177.90h0M285.20 178.99h0M286.70 180.90h0M288.20 183.04h0M289.70 184.76h0M291.20 185.83h0M292.70 186.73h0M294.20 187.45h0M295.70 187.90h0M297.20 187.99h0M298.70 187.58h0M300.20 186.55h0M301.70 185.19h0M303.20 183.81h0M304.70 182.25h0M306.20 180.52h0M307.70 178.75h0M309.20 177.05h0M310.70 175.48h0M312.20 174.14h0M313.70 173.15h0M315.20 172.69h0M316.70 172.79h0M318.20 173.27h0M319.70 173.95h0M321.20 174.59h0M322.70 174.99h0M324.20 174.96h0M325.70 174.57h0M327.20 173.95h0M328.70 173.18h0M330.20 172.35h0M331.70 171.51h0M333.20 170.75h0M334.70 170.11h0M336.20 169.60h0M337.70 169.14h0M339.20 168.72h0M340.70 168.32h0M342.20 167.93h0M343.70 167.56h0M345.20 167.20h0M346.70 166.83h0" fill="none" stroke="#1111ee" stroke-width="2.60" stroke-linecap="round" opacity="1.00"/><path d="M291.20 192.94h0M292.70 192.89h0M294.20 192.76h0M295.70 192.46h0M297.20 191.90h0M298.70 191.05h0M300.20 190.00h0M301.70 188.83h0M303.20 187.57h0M304.70 186.26h0M306.20 184.91h0M307.70 183.45h0M309.20 181.92h0M310.70 180.37h0M312.20 178.81h0M313.70 177.29h0M315.20 175.76h0M316.70 174.23h0M318.20 172.83h0M319.70 171.62h0M321.20 170.98h0M322.70 171.78h0" fill="none" stroke="#ee1111" stroke-width="2.20" stroke-linecap="round" opacity="1.00"/><path d="M291.20 192.94h0M292.70 192.89h0M294.20 192.76h0M295.70 192.46h0M297.20 191.90h0M298.70 191.05h0M300.20 190.00h0M301.70 188.83h0M303.20 187.57h0M304.70 186.26h0M306.20 184.91h0M307.70 183.45h0M309.20 181.92h0M310.70 180.37h0M312.20 178.81h0M313.70 177.29h0M315.20 175.76h0M316.70 174.23h0M318.20 172.83h0M319.70 171.62h0M321.20 170.98h0M322.70 171.78h0" fill="none" stroke="#1111ee" stroke-width="1.00" stroke-linecap="round" opacity="1.00"/><path d="M306.20 223.44h0M307.70 219.13h0M309.20 215.03h0M310.70 211.29h0M312.20 207.70h0M313.70 204.28h0M315.20 201.09h0M316.70 198.19h0M318.20 195.56h0M319.70 193.11h0M321.20 190.76h0M322.70 188.46h0M324.20 186.19h0M325.70 184.01h0M327.20 181.88h0M328.70 179.80h0M330.20 177.72h0M331.70 175.55h0M333.20 173.36h0M334.70 171.39h0M336.20 169.82h0M337.70 168.64h0M339.20 167.70h0M340.70 166.88h0M342.20 166.12h0M343.70 165.34h0M345.20 164.67h0M346.70 164.12h0" fill="none" stroke="#1111ee" stroke-width="2.80" stroke-linecap="round" opacity="1.00"/><path d="M297.20 224.07h0M298.70 217.83h0M300.20 211.88h0M301.70 206.49h0M303.20 202.07h0M304.70 198.63h0M306.20 195.84h0M307.70 193.45h0M309.20 191.21h0M310.70 188.98h0M312.20 187.07h0M313.70 185.35h0M315.20 183.66h0M316.70 181.83h0M318.20 179.69h0M319.70 177.22h0M321.20 174.55h0M322.70 171.73h0M324.20 168.79h0M325.70 165.80h0M327.20 162.87h0M328.70 159.91h0M330.20 156.64h0M331.70 152.77h0M333.20 147.97h0M334.70 142.34h0M336.20 136.45h0M337.70 130.90h0M339.20 126.16h0M340.70 121.87h0M342.20 118.03h0M343.70 114.88h0M345.20 113.16h0" fill="none" stroke="#1111ee" stroke-width="3.20" stroke-linecap="round" opacity="1.00"/><path d="M222.20 164.87h0M223.70 163.80h0M225.20 162.75h0M226.70 161.71h0M228.20 160.70h0M229.70 159.73h0M231.20 158.80h0M232.70 157.95h0M234.20 157.23h0M235.70 156.69h0M237.20 156.42h0M238.70 156.47h0M240.20 156.84h0M241.70 157.45h0M243.20 158.22h0M244.70 159.10h0M246.20 160.05h0M247.70 161.04h0M249.20 162.05h0M250.70 163.10h0M252.20 164.15h0" fill="none" stroke="#1111ee" stroke-width="3.40" stroke-linecap="round" opacity="1.00"/><path d="M225.20 169.34h0M226.70 167.74h0M228.20 166.16h0M229.70 164.60h0M231.20 163.07h0M232.70 161.61h0M234.20 160.27h0M235.70 159.17h0M237.20 158.55h0M238.70 158.68h0M240.20 159.50h0M241.70 160.70h0M243.20 162.09h0M244.70 163.58h0M246.20 165.12h0M247.70 166.68h0M249.20 168.27h0M250.70 169.88h0" fill="none" stroke="#1111ee" stroke-width="2.40" stroke-linecap="round" opacity="1.00"/><path d="M330.20 165.89h0M331.70 165.12h0M333.20 164.34h0M334.70 163.54h0M336.20 162.69h0M337.70 161.79h0M339.20 160.85h0M340.70 159.89h0M342.20 158.91h0M343.70 157.94h0M345.20 156.96h0" fill="none" stroke="#1111ee" stroke-width="3.00" stroke-linecap="round" opacity="1.00"/><path d="M292.70 222.69h0M294.20 220.62h0M295.70 218.53h0M297.20 216.37h0M298.70 214.11h0M300.20 211.65h0M301.70 208.78h0M303.20 205.58h0M304.70 202.27h0M306.20 199.16h0M307.70 196.52h0M309.20 194.15h0M310.70 191.92h0" fill="none" stroke="#1111ee" stroke-width="2.40" stroke-linecap="round" opacity="1.00"/></g><g clip-path="url(#cc)"><path d="M393.0 16.0C393.4 15.5 394.2 14.4 395.5 12.8C396.8 11.2 399.2 6.0 400.8 6.2C402.4 6.4 403.5 10.5 405.0 14.0C406.5 17.5 408.3 26.3 409.8 27.0C411.3 27.7 412.6 20.6 414.0 18.0C415.4 15.4 416.0 11.5 418.0 11.3C420.0 11.1 424.7 16.1 426.0 17.0" fill="none" stroke="#7a8c8c" stroke-width="0.70" stroke-linejoin="round" stroke-linecap="round" opacity="1.00" /><path d="M393.20 15.74h0M395.00 13.43h0M396.80 10.81h0M398.60 8.00h0M400.40 6.26h0M402.20 7.45h0M404.00 11.52h0M405.80 16.21h0M407.60 22.20h0M409.40 26.64h0M411.20 25.65h0M413.00 20.54h0M414.80 16.18h0M416.60 12.21h0M418.40 11.33h0M420.20 12.18h0M422.00 13.53h0M423.80 15.08h0M425.60 16.68h0" fill="none" stroke="#1515f0" stroke-width="2.60" stroke-linecap="round" opacity="1.00"/><path d="M418.0 11.3C419.3 12.2 423.2 14.8 426.0 17.0C428.8 19.2 431.8 24.0 434.5 24.8C437.2 25.6 439.4 22.8 442.0 21.8C444.6 20.8 448.7 19.5 450.0 19.0" fill="none" stroke="#7a8c8c" stroke-width="0.70" stroke-linejoin="round" stroke-linecap="round" opacity="1.00" /><path d="M418.40 11.58h0M420.20 12.80h0M422.00 14.03h0M423.80 15.31h0M425.60 16.68h0M427.40 18.31h0M429.20 20.25h0M431.00 22.20h0M432.80 23.85h0M434.60 24.82h0M436.40 24.81h0M438.20 24.01h0M440.00 22.86h0M441.80 21.88h0M443.60 21.22h0M445.40 20.58h0M447.20 19.96h0M449.00 19.34h0" fill="none" stroke="#f01010" stroke-width="3.00" stroke-linecap="round" opacity="1.00"/><path d="M418.40 11.58h0M420.20 12.80h0M422.00 14.03h0M423.80 15.31h0M425.60 16.68h0M427.40 18.31h0M429.20 20.25h0M431.00 22.20h0M432.80 23.85h0M434.60 24.82h0M436.40 24.81h0M438.20 24.01h0M440.00 22.86h0M441.80 21.88h0M443.60 21.22h0M445.40 20.58h0M447.20 19.96h0M449.00 19.34h0" fill="none" stroke="#1515f0" stroke-width="1.40" stroke-linecap="round" opacity="1.00"/><path d="M370.0 25.0C370.4 26.1 371.2 28.6 372.1 31.9C373.0 35.2 374.4 40.4 375.4 45.0C376.4 49.6 377.1 54.6 378.2 59.6C379.3 64.6 380.5 69.1 382.0 75.0C383.5 80.9 385.3 88.1 387.0 95.0C388.7 101.9 390.7 111.4 392.2 116.2C393.7 121.0 395.3 122.4 395.9 123.6" fill="none" stroke="#7a8c8c" stroke-width="0.70" stroke-linejoin="round" stroke-linecap="round" opacity="1.00" /><path d="M371.60 30.12h0M373.40 36.78h0M375.20 44.11h0M377.00 53.45h0M378.80 62.23h0M380.60 69.47h0M382.40 76.61h0M384.20 83.79h0M386.00 90.98h0M387.80 98.32h0M389.60 106.04h0M391.40 113.38h0M393.20 118.92h0M395.00 122.20h0" fill="none" stroke="#f01010" stroke-width="3.80" stroke-linecap="round" opacity="1.00"/><path d="M371.60 30.12h0M373.40 36.78h0M375.20 44.11h0M377.00 53.45h0M378.80 62.23h0M380.60 69.47h0M382.40 76.61h0M384.20 83.79h0M386.00 90.98h0M387.80 98.32h0M389.60 106.04h0M391.40 113.38h0M393.20 118.92h0M395.00 122.20h0" fill="none" stroke="#5020a0" stroke-width="1.40" stroke-linecap="round" opacity="1.00"/><path d="M395.9 123.6C396.5 122.4 398.6 120.1 399.6 116.2C400.6 112.3 401.3 106.0 402.0 100.0C402.7 94.0 403.7 83.3 404.0 80.0" fill="none" stroke="#7a8c8c" stroke-width="0.70" stroke-linejoin="round" stroke-linecap="round" opacity="1.00" /><path d="M396.80 122.17h0M398.60 119.02h0M400.40 112.27h0M402.20 98.28h0M404.00 80.00h0" fill="none" stroke="#1515f0" stroke-width="2.60" stroke-linecap="round" opacity="1.00"/><path d="M404.0 80.0C404.4 76.7 405.8 65.3 406.5 60.0C407.2 54.7 407.8 50.7 408.3 48.0C408.8 45.3 409.5 44.3 409.7 43.6" fill="none" stroke="#7a8c8c" stroke-width="0.70" stroke-linejoin="round" stroke-linecap="round" opacity="1.00" /><path d="M405.80 65.43h0M407.60 52.15h0M409.40 44.35h0" fill="none" stroke="#f01010" stroke-width="3.50" stroke-linecap="round" opacity="1.00"/><path d="M405.80 65.43h0M407.60 52.15h0M409.40 44.35h0" fill="none" stroke="#1515f0" stroke-width="1.70" stroke-linecap="round" opacity="1.00"/><path d="M409.7 43.6C410.1 44.3 411.3 45.8 412.0 48.0C412.7 50.2 413.2 53.7 414.0 57.0C414.8 60.3 416.1 66.2 416.5 68.0" fill="none" stroke="#7a8c8c" stroke-width="0.70" stroke-linejoin="round" stroke-linecap="round" opacity="1.00" /><path d="M411.20 46.09h0M413.00 52.15h0M414.80 60.53h0" fill="none" stroke="#f01010" stroke-width="3.50" stroke-linecap="round" opacity="1.00"/><path d="M411.20 46.09h0M413.00 52.15h0M414.80 60.53h0" fill="none" stroke="#1515f0" stroke-width="1.70" stroke-linecap="round" opacity="1.00"/><path d="M416.5 68.0C416.8 69.8 417.9 75.8 418.5 79.0C419.1 82.2 419.4 84.2 420.0 87.0C420.6 89.8 421.3 93.5 422.0 96.0C422.7 98.5 423.3 100.8 424.0 102.0C424.7 103.2 425.3 103.3 426.0 103.5C426.7 103.7 427.3 103.6 428.0 103.0C428.7 102.4 429.2 101.7 430.0 100.0C430.8 98.3 432.0 95.7 433.0 93.0C434.0 90.3 434.8 87.5 436.0 84.0C437.2 80.5 439.3 74.0 440.0 72.0" fill="none" stroke="#7a8c8c" stroke-width="0.70" stroke-linejoin="round" stroke-linecap="round" opacity="1.00" /><path d="M416.60 68.55h0M418.40 78.46h0M420.20 87.97h0M425.60 103.40h0M427.40 103.40h0M429.20 101.49h0M431.00 97.87h0M432.80 93.53h0M434.60 88.31h0M436.40 82.80h0M438.20 77.40h0M440.00 72.00h0" fill="none" stroke="#1515f0" stroke-width="2.60" stroke-linecap="round" opacity="1.00"/><path d="M440.0 72.0C440.7 69.8 442.7 63.2 444.0 59.0C445.3 54.8 446.7 50.7 448.0 47.0C449.3 43.3 450.7 40.3 452.0 37.0C453.3 33.7 454.8 29.5 456.0 27.0C457.2 24.5 458.6 22.8 459.1 22.0" fill="none" stroke="#7a8c8c" stroke-width="0.70" stroke-linejoin="round" stroke-linecap="round" opacity="1.00" /><path d="M441.80 66.09h0M443.60 60.26h0M445.40 54.65h0M447.20 49.26h0M450.80 39.94h0M452.60 35.47h0M454.40 30.81h0M456.20 26.59h0M458.00 23.58h0" fill="none" stroke="#f01010" stroke-width="3.50" stroke-linecap="round" opacity="1.00"/><path d="M441.80 66.09h0M443.60 60.26h0M445.40 54.65h0M447.20 49.26h0M450.80 39.94h0M452.60 35.47h0M454.40 30.81h0M456.20 26.59h0M458.00 23.58h0" fill="none" stroke="#1515f0" stroke-width="1.70" stroke-linecap="round" opacity="1.00"/><path d="M459.1 22.0C459.8 23.3 461.9 27.3 463.0 30.0C464.1 32.7 464.8 35.2 466.0 38.0C467.2 40.8 468.8 44.0 470.0 47.0C471.2 50.0 471.9 52.6 473.0 56.0C474.1 59.4 475.2 63.4 476.5 67.2C477.8 71.0 480.2 77.0 481.0 79.0" fill="none" stroke="#7a8c8c" stroke-width="0.70" stroke-linejoin="round" stroke-linecap="round" opacity="1.00" /><path d="M459.80 23.39h0M461.60 26.99h0M463.40 30.97h0M465.20 35.93h0M467.00 40.28h0M468.80 44.18h0M470.60 48.61h0M472.40 54.11h0M474.20 59.91h0M476.00 65.72h0M477.80 70.75h0M479.60 75.42h0" fill="none" stroke="#f01010" stroke-width="3.50" stroke-linecap="round" opacity="1.00"/><path d="M459.80 23.39h0M461.60 26.99h0M463.40 30.97h0M465.20 35.93h0M467.00 40.28h0M468.80 44.18h0M470.60 48.61h0M472.40 54.11h0M474.20 59.91h0M476.00 65.72h0M477.80 70.75h0M479.60 75.42h0" fill="none" stroke="#1515f0" stroke-width="1.70" stroke-linecap="round" opacity="1.00"/><path d="M481.0 79.0C481.3 79.8 482.2 81.9 483.0 83.5C483.8 85.1 484.9 87.1 486.0 88.5C487.1 89.9 488.1 92.3 489.5 91.7C490.9 91.1 493.0 87.5 494.4 85.1C495.8 82.6 497.1 78.3 497.7 77.0" fill="none" stroke="#7a8c8c" stroke-width="0.70" stroke-linejoin="round" stroke-linecap="round" opacity="1.00" /><path d="M481.40 79.95h0M483.20 83.88h0M485.00 87.07h0M486.80 89.65h0M488.60 91.67h0M490.40 91.05h0M492.20 88.76h0M494.00 85.81h0M495.80 82.06h0M497.60 77.25h0" fill="none" stroke="#1515f0" stroke-width="2.60" stroke-linecap="round" opacity="1.00"/><path d="M494.4 85.1C494.9 83.8 496.8 80.2 497.7 77.0C498.6 73.8 499.3 68.4 500.1 65.6C500.9 62.7 501.3 61.1 502.5 59.9C503.7 58.7 505.8 59.5 507.4 58.3C509.0 57.1 510.4 55.7 512.3 52.6C514.2 49.5 516.6 43.6 518.8 39.5C521.0 35.4 523.6 30.3 525.3 28.1C527.0 25.9 528.4 26.8 529.0 26.5" fill="none" stroke="#7a8c8c" stroke-width="0.70" stroke-linejoin="round" stroke-linecap="round" opacity="1.00" /><path d="M495.80 81.99h0M497.60 77.33h0M499.40 68.75h0M501.20 61.99h0M503.00 59.53h0M504.80 59.10h0M506.60 58.74h0M508.40 57.50h0M510.20 55.64h0M512.00 53.09h0M513.80 49.83h0M515.60 46.09h0M517.40 42.28h0M519.20 38.74h0M521.00 35.34h0M522.80 32.05h0M524.60 29.08h0M526.40 27.05h0M528.20 26.55h0" fill="none" stroke="#1515f0" stroke-width="3.80" stroke-linecap="round" opacity="1.00"/><path d="M474.3 21.5C475.2 23.4 477.8 29.1 479.8 33.0C481.8 37.0 484.4 41.1 486.3 45.2C488.2 49.3 489.6 53.0 491.2 57.5C492.8 62.0 494.5 67.5 496.0 72.1C497.5 76.7 498.9 81.8 500.1 85.1C501.3 88.4 501.9 90.9 503.4 91.7C504.9 92.5 507.2 91.9 509.0 90.0C510.8 88.1 512.3 84.6 513.9 80.3C515.5 76.0 517.2 69.2 518.8 64.0C520.4 58.8 522.0 52.8 523.7 49.3C525.4 45.8 528.1 43.9 529.0 42.8" fill="none" stroke="#7a8c8c" stroke-width="0.70" stroke-linejoin="round" stroke-linecap="round" opacity="1.00" /><path d="M476.00 25.12h0M477.80 28.92h0M479.60 32.60h0M481.40 36.01h0M483.20 39.25h0M485.00 42.58h0M486.80 46.29h0M488.60 50.55h0M490.40 55.30h0M492.20 60.36h0M494.00 65.84h0M495.80 71.48h0M497.60 77.29h0M499.40 83.11h0M501.20 88.15h0M503.00 91.42h0M504.80 92.05h0M506.60 91.69h0M508.40 90.58h0M510.20 88.41h0M512.00 84.98h0M513.80 80.56h0M515.60 75.07h0M517.40 68.73h0M519.20 62.71h0M521.00 56.76h0M522.80 51.42h0M524.60 47.70h0M526.40 45.40h0M528.20 43.62h0" fill="none" stroke="#f01010" stroke-width="4.10" stroke-linecap="round" opacity="1.00"/><path d="M476.00 25.12h0M477.80 28.92h0M479.60 32.60h0M481.40 36.01h0M483.20 39.25h0M485.00 42.58h0M486.80 46.29h0M488.60 50.55h0M490.40 55.30h0M492.20 60.36h0M494.00 65.84h0M495.80 71.48h0M497.60 77.29h0M499.40 83.11h0M501.20 88.15h0M503.00 91.42h0M504.80 92.05h0M506.60 91.69h0M508.40 90.58h0M510.20 88.41h0M512.00 84.98h0M513.80 80.56h0M515.60 75.07h0M517.40 68.73h0M519.20 62.71h0M521.00 56.76h0M522.80 51.42h0M524.60 47.70h0M526.40 45.40h0M528.20 43.62h0" fill="none" stroke="#6020b0" stroke-width="1.20" stroke-linecap="round" opacity="1.00"/><path d="M366.6 229.5C366.8 229.1 366.5 230.2 367.6 227.0C368.8 223.8 371.3 215.9 373.5 210.3C375.7 204.7 378.3 199.6 380.7 193.6C383.1 187.6 385.6 181.3 387.8 174.6C390.0 167.8 392.2 159.1 393.8 153.1C395.4 147.1 396.5 142.8 397.3 138.8C398.1 134.8 398.3 130.9 398.5 129.3" fill="none" stroke="#7a8c8c" stroke-width="0.70" stroke-linejoin="round" stroke-linecap="round" opacity="1.00" /><path d="M368.00 225.86h0M369.80 220.60h0M371.60 215.42h0M373.40 210.56h0M375.20 206.20h0M377.00 202.15h0M378.80 198.11h0M380.60 193.85h0M382.40 189.34h0M384.20 184.73h0M386.00 179.87h0M389.60 168.66h0M391.40 162.17h0M393.20 155.37h0M395.00 148.54h0M396.80 141.18h0" fill="none" stroke="#1515f0" stroke-width="3.60" stroke-linecap="round" opacity="1.00"/><path d="M398.5 129.3C399.2 128.8 401.2 126.8 403.0 126.0C404.8 125.2 407.1 124.5 409.3 124.5C411.5 124.5 414.1 125.2 416.0 126.0C417.9 126.8 419.6 127.0 421.0 129.3C422.4 131.6 423.3 136.4 424.5 140.0C425.7 143.6 427.7 148.9 428.3 150.7" fill="none" stroke="#7a8c8c" stroke-width="0.70" stroke-linejoin="round" stroke-linecap="round" opacity="1.00" /><path d="M398.60 129.22h0M400.40 127.71h0M402.20 126.42h0M404.00 125.59h0M405.80 125.01h0M407.60 124.63h0M409.40 124.50h0M411.20 124.65h0M413.00 125.02h0M414.80 125.55h0M416.60 126.23h0M418.40 126.93h0M420.20 128.22h0M422.00 131.53h0M423.80 137.72h0M425.60 143.16h0M427.40 148.19h0" fill="none" stroke="#f01010" stroke-width="2.90" stroke-linecap="round" opacity="1.00"/><path d="M398.60 129.22h0M400.40 127.71h0M402.20 126.42h0M404.00 125.59h0M405.80 125.01h0M407.60 124.63h0M409.40 124.50h0M411.20 124.65h0M413.00 125.02h0M414.80 125.55h0M416.60 126.23h0M418.40 126.93h0M420.20 128.22h0M422.00 131.53h0M423.80 137.72h0M425.60 143.16h0M427.40 148.19h0" fill="none" stroke="#1515f0" stroke-width="2.30" stroke-linecap="round" opacity="1.00"/><path d="M428.3 150.7C429.5 153.9 433.1 163.1 435.4 169.8C437.7 176.5 440.1 186.9 441.9 191.0C443.7 195.1 444.3 194.2 446.0 194.4C447.7 194.7 449.9 193.1 452.0 192.5C454.1 191.9 456.6 191.4 458.6 191.0C460.6 190.6 462.1 190.0 464.0 190.0C465.9 190.0 467.4 191.8 470.0 191.2C472.6 190.6 476.3 190.1 479.5 186.5C482.7 182.9 486.3 171.8 489.1 169.8C491.9 167.8 493.8 173.0 496.2 174.6C498.6 176.2 501.2 179.7 503.4 179.3C505.6 178.9 507.3 176.6 509.3 172.2C511.3 167.8 513.3 159.1 515.3 153.1C517.3 147.1 519.3 141.0 521.3 136.4C523.3 131.8 525.9 127.7 527.2 125.7C528.5 123.7 528.7 124.7 529.0 124.5" fill="none" stroke="#7a8c8c" stroke-width="0.70" stroke-linejoin="round" stroke-linecap="round" opacity="1.00" /><path d="M429.20 153.07h0M431.00 157.76h0M432.80 162.53h0M434.60 167.49h0M436.40 172.94h0M438.20 179.13h0M440.00 185.39h0M441.80 190.76h0M443.60 193.88h0M445.40 194.35h0M447.20 194.32h0M449.00 193.69h0M450.80 192.91h0M452.60 192.34h0M454.40 191.91h0M456.20 191.51h0M458.00 191.13h0M459.80 190.72h0M461.60 190.27h0M463.40 190.01h0M465.20 190.23h0M467.00 190.93h0M468.80 191.31h0M470.60 191.07h0M472.40 190.65h0M474.20 190.09h0M476.00 189.28h0M477.80 188.10h0M479.60 186.38h0M481.40 183.68h0M483.20 180.17h0M485.00 176.41h0M486.80 172.88h0M488.60 170.25h0M490.40 169.36h0M492.20 170.26h0M494.00 172.31h0M495.80 174.30h0M497.60 175.69h0M499.40 177.29h0M501.20 178.68h0M503.00 179.33h0M504.80 178.74h0M506.60 177.01h0M508.40 174.07h0M510.20 169.95h0M512.00 164.26h0M513.80 157.98h0M515.60 152.20h0M517.40 146.85h0M519.20 141.73h0M521.00 137.10h0M522.80 133.23h0M524.60 129.93h0M526.40 126.95h0M528.20 124.53h0" fill="none" stroke="#1515f0" stroke-width="2.70" stroke-linecap="round" opacity="1.00"/><path d="M366.8 231.0C367.1 230.5 366.9 232.4 368.8 228.2C370.7 223.9 375.1 212.8 378.3 205.5C381.5 198.2 385.0 190.8 387.8 184.1C390.6 177.3 393.0 170.2 395.0 165.0C397.0 159.8 398.9 155.1 399.7 153.1" fill="none" stroke="#7a8c8c" stroke-width="0.70" stroke-linejoin="round" stroke-linecap="round" opacity="1.00" /><path d="M368.00 229.87h0M369.80 225.90h0M371.60 221.60h0M373.40 217.24h0M375.20 212.87h0M377.00 208.56h0M378.80 204.35h0M380.60 200.29h0M382.40 196.32h0M384.20 192.36h0M386.00 188.32h0M389.60 179.57h0M391.40 174.77h0M393.20 169.84h0M396.80 160.38h0M398.60 155.85h0" fill="none" stroke="#f01010" stroke-width="3.00" stroke-linecap="round" opacity="1.00"/><path d="M368.00 229.87h0M369.80 225.90h0M371.60 221.60h0M373.40 217.24h0M375.20 212.87h0M377.00 208.56h0M378.80 204.35h0M380.60 200.29h0M382.40 196.32h0M384.20 192.36h0M386.00 188.32h0M389.60 179.57h0M391.40 174.77h0M393.20 169.84h0M396.80 160.38h0M398.60 155.85h0" fill="none" stroke="#1515f0" stroke-width="1.40" stroke-linecap="round" opacity="1.00"/><path d="M399.7 153.1C400.5 151.7 402.9 146.9 404.5 144.8C406.1 142.7 407.6 141.0 409.2 140.3C410.8 139.6 412.4 140.5 414.0 140.8C415.6 141.2 417.2 141.5 418.8 142.4C420.4 143.3 422.0 144.7 423.5 146.5C425.0 148.3 426.4 150.3 428.0 153.0C429.6 155.7 431.0 157.8 433.0 162.6C435.0 167.4 438.2 174.9 440.2 181.7C442.2 188.5 443.9 198.5 445.0 203.2C446.1 207.9 446.0 210.0 447.0 210.0C448.0 210.0 449.1 206.2 451.0 203.0C452.9 199.8 456.1 191.3 458.6 190.8C461.1 190.3 464.1 197.8 466.0 200.0C467.9 202.2 467.8 203.2 470.0 204.3C472.2 205.4 476.7 206.9 479.5 206.7C482.3 206.5 484.3 206.2 486.7 203.2C489.1 200.2 491.4 192.1 493.8 188.9C496.2 185.7 498.5 186.5 501.0 184.1C503.5 181.7 506.3 178.6 508.6 174.6C510.9 170.6 512.9 164.4 515.0 160.0C517.1 155.6 519.0 151.3 521.0 148.0C523.0 144.7 525.9 141.4 527.2 140.0C528.5 138.6 528.7 139.6 529.0 139.5" fill="none" stroke="#7a8c8c" stroke-width="0.70" stroke-linejoin="round" stroke-linecap="round" opacity="1.00" /><path d="M400.40 151.83h0M402.20 148.52h0M404.00 145.52h0M405.80 143.15h0M407.60 141.31h0M409.40 140.23h0M411.20 140.10h0M413.00 140.54h0M414.80 140.97h0M416.60 141.43h0M418.40 142.17h0M420.20 143.35h0M422.00 144.91h0M423.80 146.85h0M425.60 149.22h0M427.40 152.00h0M429.20 155.02h0M431.00 158.28h0M432.80 162.14h0M434.60 166.41h0M436.40 170.86h0M438.20 175.64h0M440.00 181.04h0M441.80 187.98h0M443.60 196.55h0M445.40 204.99h0M447.20 209.94h0M449.00 206.93h0M450.80 203.34h0M452.60 199.92h0M454.40 196.25h0M456.20 193.08h0M458.00 191.07h0M459.80 191.10h0M461.60 192.99h0M463.40 195.83h0M465.20 198.87h0M467.00 201.31h0M468.80 203.56h0M470.60 204.58h0M472.40 205.30h0M474.20 205.89h0M476.00 206.34h0M477.80 206.64h0M479.60 206.69h0M481.40 206.50h0M483.20 206.01h0M485.00 204.94h0M486.80 203.06h0M488.60 199.90h0M490.40 195.77h0M492.20 191.69h0M494.00 188.65h0M495.80 187.00h0M497.60 186.10h0M499.40 185.28h0M501.20 183.91h0M503.00 182.07h0M504.80 180.02h0M506.60 177.69h0M508.40 174.94h0M510.20 171.45h0M512.00 167.21h0M513.80 162.75h0M515.60 158.71h0M517.40 154.86h0M519.20 151.22h0M521.00 148.00h0M522.80 145.32h0M524.60 142.99h0M526.40 140.87h0M528.20 139.26h0" fill="none" stroke="#1515f0" stroke-width="2.60" stroke-linecap="round" opacity="1.00"/><path d="M479.5 206.7C480.7 206.1 484.9 205.0 486.7 203.2C488.4 201.4 488.8 198.4 490.0 196.0C491.2 193.6 492.6 190.6 493.8 188.9C495.0 187.2 496.5 186.5 497.0 186.0" fill="none" stroke="#7a8c8c" stroke-width="0.70" stroke-linejoin="round" stroke-linecap="round" opacity="1.00" /><path d="M479.60 206.65h0M481.40 205.97h0M483.20 205.27h0M485.00 204.42h0M486.80 203.09h0M488.60 199.72h0M490.40 195.19h0M492.20 191.62h0M494.00 188.63h0M495.80 186.88h0" fill="none" stroke="#f01010" stroke-width="3.00" stroke-linecap="round" opacity="1.00"/><path d="M479.60 206.65h0M481.40 205.97h0M483.20 205.27h0M485.00 204.42h0M486.80 203.09h0M488.60 199.72h0M490.40 195.19h0M492.20 191.62h0M494.00 188.63h0M495.80 186.88h0" fill="none" stroke="#1515f0" stroke-width="1.40" stroke-linecap="round" opacity="1.00"/><path d="M385.4 230.5C386.6 226.3 390.1 213.2 392.5 205.5C394.9 197.8 397.6 189.6 399.7 184.1C401.8 178.6 403.3 175.2 405.0 172.5C406.7 169.8 408.7 167.9 410.0 168.2C411.3 168.4 411.9 172.4 413.0 174.0C414.1 175.6 414.6 175.1 416.5 177.9C418.4 180.7 422.0 185.8 424.4 191.0C426.8 196.2 428.9 203.7 431.0 209.4C433.1 215.1 435.2 221.4 437.0 225.0C438.8 228.6 441.1 230.0 441.9 231.0" fill="none" stroke="#7a8c8c" stroke-width="0.70" stroke-linejoin="round" stroke-linecap="round" opacity="1.00" /><path d="M386.00 228.36h0M387.80 221.85h0M389.60 215.42h0M391.40 209.16h0M393.20 203.25h0M395.00 197.62h0M396.80 192.23h0M398.60 187.08h0M400.40 182.27h0M402.20 177.88h0M404.00 174.18h0M405.80 171.34h0M407.60 169.30h0M409.40 168.22h0M411.20 169.61h0M414.80 175.81h0M416.60 178.05h0M418.40 180.71h0M420.20 183.46h0M422.00 186.41h0M423.80 189.75h0M425.60 193.84h0M427.40 198.81h0M429.20 204.20h0M432.80 214.37h0M434.60 219.30h0M436.40 223.74h0M438.20 227.01h0M440.00 229.15h0M441.80 230.88h0" fill="none" stroke="#1515f0" stroke-width="2.60" stroke-linecap="round" opacity="1.00"/><path d="M430.0 207.9C431.0 209.6 434.0 214.8 436.0 218.0C438.0 221.2 440.6 224.8 441.9 227.0C443.2 229.2 443.6 230.3 444.0 231.0" fill="none" stroke="#7a8c8c" stroke-width="0.70" stroke-linejoin="round" stroke-linecap="round" opacity="1.00" /><path d="M431.00 209.60h0M432.80 212.67h0M434.60 215.70h0M436.40 218.64h0M438.20 221.39h0M440.00 224.08h0M441.80 226.84h0M443.60 230.16h0" fill="none" stroke="#f01010" stroke-width="3.00" stroke-linecap="round" opacity="1.00"/><path d="M431.00 209.60h0M432.80 212.67h0M434.60 215.70h0M436.40 218.64h0M438.20 221.39h0M440.00 224.08h0M441.80 226.84h0M443.60 230.16h0" fill="none" stroke="#1515f0" stroke-width="1.40" stroke-linecap="round" opacity="1.00"/><path d="M394.5 231.0C395.4 227.6 398.1 215.5 399.7 210.3C401.3 205.1 402.4 202.4 404.0 200.0C405.6 197.6 407.6 195.9 409.3 195.6C411.0 195.3 412.6 196.6 414.0 198.0C415.4 199.4 416.1 201.0 417.8 204.2C419.5 207.4 422.4 213.0 424.4 217.3C426.4 221.6 428.8 227.9 429.7 230.0" fill="none" stroke="#7a8c8c" stroke-width="0.70" stroke-linejoin="round" stroke-linecap="round" opacity="1.00" /><path d="M395.00 228.95h0M396.80 221.42h0M398.60 214.24h0M400.40 208.09h0M402.20 203.31h0M405.80 197.76h0M407.60 196.31h0M409.40 195.58h0M411.20 195.86h0M413.00 197.06h0M414.80 198.92h0M416.60 201.94h0M418.40 205.32h0M420.20 208.77h0M422.00 212.32h0M423.80 216.02h0M425.60 220.00h0M427.40 224.32h0M429.20 228.78h0" fill="none" stroke="#f01010" stroke-width="3.00" stroke-linecap="round" opacity="1.00"/><path d="M395.00 228.95h0M396.80 221.42h0M398.60 214.24h0M400.40 208.09h0M402.20 203.31h0M405.80 197.76h0M407.60 196.31h0M409.40 195.58h0M411.20 195.86h0M413.00 197.06h0M414.80 198.92h0M416.60 201.94h0M418.40 205.32h0M420.20 208.77h0M422.00 212.32h0M423.80 216.02h0M425.60 220.00h0M427.40 224.32h0M429.20 228.78h0" fill="none" stroke="#1515f0" stroke-width="1.40" stroke-linecap="round" opacity="1.00"/><path d="M493.8 200.8C494.6 200.0 496.6 198.4 498.6 196.0C500.6 193.6 502.6 190.3 505.8 186.5C509.0 182.7 513.9 176.4 517.7 173.4C521.5 170.4 526.6 169.4 528.4 168.6" fill="none" stroke="#7a8c8c" stroke-width="0.70" stroke-linejoin="round" stroke-linecap="round" opacity="1.00" /><path d="M494.00 200.61h0M495.80 198.95h0M497.60 197.13h0M499.40 195.00h0M501.20 192.55h0M503.00 190.06h0M504.80 187.72h0M506.60 185.54h0M508.40 183.37h0M510.20 181.21h0M512.00 179.12h0M513.80 177.12h0M515.60 175.28h0M517.40 173.65h0M519.20 172.35h0M521.00 171.36h0M522.80 170.56h0M524.60 169.90h0M526.40 169.30h0M528.20 168.68h0" fill="none" stroke="#1515f0" stroke-width="2.70" stroke-linecap="round" opacity="1.00"/><path d="M474.8 227.0C476.4 225.4 481.1 220.3 484.3 217.5C487.5 214.7 490.6 212.3 493.8 210.3C497.0 208.3 499.4 207.5 503.4 205.5C507.4 203.5 513.5 200.0 517.7 198.4C521.9 196.8 526.6 196.4 528.4 196.0" fill="none" stroke="#7a8c8c" stroke-width="0.70" stroke-linejoin="round" stroke-linecap="round" opacity="1.00" /><path d="M476.00 225.77h0M477.80 223.89h0M479.60 222.04h0M481.40 220.23h0M483.20 218.50h0M485.00 216.89h0M486.80 215.38h0M488.60 213.95h0M490.40 212.60h0M492.20 211.34h0M494.00 210.18h0M495.80 209.14h0M497.60 208.23h0M499.40 207.39h0M501.20 206.56h0M503.00 205.70h0M504.80 204.79h0M506.60 203.84h0M508.40 202.89h0M510.20 201.95h0M512.00 201.02h0M513.80 200.12h0M515.60 199.28h0M517.40 198.52h0M519.20 197.89h0M521.00 197.38h0M522.80 196.98h0M524.60 196.64h0M526.40 196.35h0M528.20 196.04h0" fill="none" stroke="#1515f0" stroke-width="2.60" stroke-linecap="round" opacity="1.00"/><path d="M503.4 205.5C505.8 204.3 513.5 200.0 517.7 198.4C521.9 196.8 526.6 196.4 528.4 196.0" fill="none" stroke="#7a8c8c" stroke-width="0.70" stroke-linejoin="round" stroke-linecap="round" opacity="1.00" /><path d="M504.80 204.78h0M506.60 203.82h0M508.40 202.87h0M510.20 201.94h0M512.00 201.02h0M513.80 200.13h0M515.60 199.28h0M517.40 198.52h0M519.20 197.89h0M521.00 197.38h0M522.80 196.98h0M524.60 196.64h0M526.40 196.35h0M528.20 196.04h0" fill="none" stroke="#f01010" stroke-width="3.00" stroke-linecap="round" opacity="1.00"/><path d="M504.80 204.78h0M506.60 203.82h0M508.40 202.87h0M510.20 201.94h0M512.00 201.02h0M513.80 200.13h0M515.60 199.28h0M517.40 198.52h0M519.20 197.89h0M521.00 197.38h0M522.80 196.98h0M524.60 196.64h0M526.40 196.35h0M528.20 196.04h0" fill="none" stroke="#1515f0" stroke-width="1.40" stroke-linecap="round" opacity="1.00"/><path d="M496.0 231.0C496.7 230.2 498.3 227.2 500.0 226.0C501.7 224.8 503.9 225.4 506.0 224.0C508.1 222.6 510.9 219.4 512.9 217.5C514.9 215.6 516.4 212.9 517.7 212.7C519.1 212.4 519.8 214.4 521.0 216.0C522.2 217.6 523.6 220.2 524.8 222.2C526.0 224.2 527.8 227.2 528.4 228.2" fill="none" stroke="#7a8c8c" stroke-width="0.70" stroke-linejoin="round" stroke-linecap="round" opacity="1.00" /><path d="M497.60 228.66h0M499.40 226.50h0M501.20 225.44h0M503.00 225.06h0M504.80 224.61h0M506.60 223.57h0M508.40 222.02h0M510.20 220.24h0M512.00 218.40h0M513.80 216.55h0M515.60 214.40h0M517.40 212.80h0M519.20 213.41h0M521.00 216.00h0M522.80 218.79h0M524.60 221.87h0M526.40 224.86h0M528.20 227.87h0" fill="none" stroke="#1515f0" stroke-width="2.70" stroke-linecap="round" opacity="1.00"/><path d="M503.4 230.0C504.5 229.0 507.7 226.3 510.0 224.0C512.3 221.7 514.8 219.2 517.0 216.0C519.2 212.8 521.1 207.7 523.0 205.0C524.9 202.3 527.5 200.8 528.4 200.0" fill="none" stroke="#7a8c8c" stroke-width="0.70" stroke-linejoin="round" stroke-linecap="round" opacity="1.00" /><path d="M504.80 228.78h0M506.60 227.20h0M508.40 225.56h0M510.20 223.79h0M512.00 221.95h0M513.80 220.02h0M515.60 217.90h0M517.40 215.39h0M519.20 212.13h0M521.00 208.49h0M522.80 205.29h0M524.60 203.13h0M526.40 201.55h0M528.20 200.17h0" fill="none" stroke="#f01010" stroke-width="3.00" stroke-linecap="round" opacity="1.00"/><path d="M504.80 228.78h0M506.60 227.20h0M508.40 225.56h0M510.20 223.79h0M512.00 221.95h0M513.80 220.02h0M515.60 217.90h0M517.40 215.39h0M519.20 212.13h0M521.00 208.49h0M522.80 205.29h0M524.60 203.13h0M526.40 201.55h0M528.20 200.17h0" fill="none" stroke="#1515f0" stroke-width="1.40" stroke-linecap="round" opacity="1.00"/><path d="M403.00 230.30h0M404.60 229.22h0M406.20 228.42h0M407.80 227.91h0M409.40 227.58h0M412.60 227.76h0M414.20 228.26h0M415.80 228.91h0M417.40 229.80h0M419.00 231.00h0" fill="none" stroke="#1515f0" stroke-width="3.40" stroke-linecap="round" opacity="1.00"/></g><g clip-path="url(#cd)"><path d="M37.00 339.30h0M39.90 338.63h0M42.80 337.92h0M45.70 337.03h0M48.60 335.89h0M51.50 334.61h0M54.40 333.27h0M57.30 331.88h0M60.20 330.42h0M63.10 328.86h0M66.00 327.21h0M68.90 325.48h0M71.80 323.65h0M74.70 321.64h0M77.60 319.66h0M80.50 318.04h0M83.40 316.74h0M86.30 315.64h0M89.20 314.75h0M92.10 314.84h0M95.00 315.19h0M97.90 316.80h0M100.80 319.65h0M103.70 321.72h0M106.60 323.68h0M109.50 325.50h0M112.40 327.08h0M115.30 328.29h0M118.20 329.14h0M121.10 329.71h0M124.00 330.05h0M126.90 330.23h0M129.80 330.19h0M132.70 329.94h0M135.60 329.53h0M138.50 329.00h0M141.40 328.26h0M144.30 327.34h0M147.20 326.35h0M150.10 325.43h0M153.00 325.04h0" fill="none" stroke="#ff8a10" stroke-width="3.20" stroke-linecap="round" opacity="1.00"/><path d="M37.00 337.80h0M39.90 337.13h0M42.80 336.42h0M45.70 335.53h0M48.60 334.39h0M51.50 333.11h0M54.40 331.77h0M57.30 330.38h0M60.20 328.92h0M63.10 327.36h0M66.00 325.71h0M68.90 323.98h0M71.80 322.15h0M74.70 320.14h0M77.60 318.16h0M80.50 316.54h0M83.40 315.24h0M86.30 314.14h0M89.20 313.25h0M92.10 313.34h0M95.00 313.69h0M97.90 315.30h0M100.80 318.15h0M103.70 320.22h0M106.60 322.18h0M109.50 324.00h0M112.40 325.58h0M115.30 326.79h0M118.20 327.64h0M121.10 328.21h0M124.00 328.55h0M126.90 328.73h0M129.80 328.69h0M132.70 328.44h0M135.60 328.03h0M138.50 327.50h0M141.40 326.76h0M144.30 325.84h0M147.20 324.85h0M150.10 323.93h0M153.00 323.54h0" fill="none" stroke="#1a7d1a" stroke-width="2.30" stroke-linecap="round" opacity="1.00"/><path d="M37.00 343.60h0M39.90 344.06h0M42.80 344.54h0M45.70 345.11h0M48.60 345.91h0M51.50 346.72h0M54.40 347.15h0M57.30 347.09h0M60.20 346.55h0M63.10 345.61h0M66.00 344.34h0M68.90 343.09h0M71.80 341.95h0M74.70 340.86h0M77.60 340.07h0M80.50 339.52h0M83.40 339.09h0M86.30 338.72h0M89.20 338.41h0M92.10 338.16h0M95.00 338.22h0M97.90 338.95h0M100.80 339.96h0M103.70 341.00h0M106.60 342.01h0M109.50 343.06h0M112.40 344.09h0M115.30 345.07h0M118.20 345.93h0M121.10 346.47h0M124.00 346.57h0M126.90 346.59h0M129.80 347.10h0M132.70 348.21h0M135.60 349.28h0M138.50 349.80h0M141.40 349.84h0M144.30 349.70h0M147.20 349.48h0M150.10 349.20h0M153.00 348.92h0" fill="none" stroke="#ff8a10" stroke-width="3.20" stroke-linecap="round" opacity="1.00"/><path d="M37.00 342.10h0M39.90 342.56h0M42.80 343.04h0M45.70 343.61h0M48.60 344.41h0M51.50 345.22h0M54.40 345.65h0M57.30 345.59h0M60.20 345.05h0M63.10 344.11h0M66.00 342.84h0M68.90 341.59h0M71.80 340.45h0M74.70 339.36h0M77.60 338.57h0M80.50 338.02h0M83.40 337.59h0M86.30 337.22h0M89.20 336.91h0M92.10 336.66h0M95.00 336.72h0M97.90 337.45h0M100.80 338.46h0M103.70 339.50h0M106.60 340.51h0M109.50 341.56h0M112.40 342.59h0M115.30 343.57h0M118.20 344.43h0M121.10 344.97h0M124.00 345.07h0M126.90 345.09h0M129.80 345.60h0M132.70 346.71h0M135.60 347.78h0M138.50 348.30h0M141.40 348.34h0M144.30 348.20h0M147.20 347.98h0M150.10 347.70h0M153.00 347.42h0" fill="none" stroke="#1a7d1a" stroke-width="2.30" stroke-linecap="round" opacity="1.00"/><path d="M37.00 355.70h0M39.90 355.66h0M42.80 355.62h0M45.70 355.57h0M48.60 355.52h0M51.50 355.48h0M54.40 355.43h0M57.30 355.38h0M60.20 355.34h0M63.10 355.30h0M66.00 355.25h0M68.90 355.21h0M71.80 355.18h0M74.70 355.14h0M77.60 355.11h0M80.50 355.08h0M83.40 355.05h0M86.30 355.03h0M89.20 355.01h0M92.10 355.00h0M95.00 355.00h0M97.90 355.00h0M100.80 355.02h0M103.70 355.04h0M106.60 355.06h0M109.50 355.10h0M112.40 355.13h0M115.30 355.17h0M118.20 355.22h0M121.10 355.26h0M124.00 355.31h0M126.90 355.36h0M129.80 355.42h0M132.70 355.47h0M135.60 355.53h0M138.50 355.59h0M141.40 355.65h0M144.30 355.71h0M147.20 355.76h0M150.10 355.82h0M153.00 355.88h0" fill="none" stroke="#ff8a10" stroke-width="3.20" stroke-linecap="round" opacity="1.00"/><path d="M37.00 354.20h0M39.90 354.16h0M42.80 354.12h0M45.70 354.07h0M48.60 354.02h0M51.50 353.98h0M54.40 353.93h0M57.30 353.88h0M60.20 353.84h0M63.10 353.80h0M66.00 353.75h0M68.90 353.71h0M71.80 353.68h0M74.70 353.64h0M77.60 353.61h0M80.50 353.58h0M83.40 353.55h0M86.30 353.53h0M89.20 353.51h0M92.10 353.50h0M95.00 353.50h0M97.90 353.50h0M100.80 353.52h0M103.70 353.54h0M106.60 353.56h0M109.50 353.60h0M112.40 353.63h0M115.30 353.67h0M118.20 353.72h0M121.10 353.76h0M124.00 353.81h0M126.90 353.86h0M129.80 353.92h0M132.70 353.97h0M135.60 354.03h0M138.50 354.09h0M141.40 354.15h0M144.30 354.21h0M147.20 354.26h0M150.10 354.32h0M153.00 354.38h0" fill="none" stroke="#1a7d1a" stroke-width="2.30" stroke-linecap="round" opacity="1.00"/><path d="M37.00 361.40h0M39.90 361.49h0M42.80 361.59h0M45.70 361.68h0M48.60 361.78h0M51.50 361.87h0M54.40 361.94h0M57.30 362.01h0M60.20 362.06h0M63.10 362.09h0M66.00 362.10h0M68.90 362.07h0M71.80 362.00h0M74.70 361.91h0M77.60 361.81h0M80.50 361.70h0M83.40 361.61h0M86.30 361.53h0M89.20 361.47h0M92.10 361.43h0M95.00 361.41h0M97.90 361.40h0M100.80 361.41h0M103.70 361.42h0M106.60 361.44h0M109.50 361.46h0M112.40 361.49h0M115.30 361.52h0M118.20 361.55h0M121.10 361.58h0M124.00 361.61h0M126.90 361.65h0M129.80 361.69h0M132.70 361.72h0M135.60 361.76h0M138.50 361.80h0M141.40 361.84h0M144.30 361.87h0M147.20 361.91h0M150.10 361.95h0M153.00 361.98h0" fill="none" stroke="#ff8a10" stroke-width="3.20" stroke-linecap="round" opacity="1.00"/><path d="M37.00 359.90h0M39.90 359.99h0M42.80 360.09h0M45.70 360.18h0M48.60 360.28h0M51.50 360.37h0M54.40 360.44h0M57.30 360.51h0M60.20 360.56h0M63.10 360.59h0M66.00 360.60h0M68.90 360.57h0M71.80 360.50h0M74.70 360.41h0M77.60 360.31h0M80.50 360.20h0M83.40 360.11h0M86.30 360.03h0M89.20 359.97h0M92.10 359.93h0M95.00 359.91h0M97.90 359.90h0M100.80 359.91h0M103.70 359.92h0M106.60 359.94h0M109.50 359.96h0M112.40 359.99h0M115.30 360.02h0M118.20 360.05h0M121.10 360.08h0M124.00 360.11h0M126.90 360.15h0M129.80 360.19h0M132.70 360.22h0M135.60 360.26h0M138.50 360.30h0M141.40 360.34h0M144.30 360.37h0M147.20 360.41h0M150.10 360.45h0M153.00 360.48h0" fill="none" stroke="#1a7d1a" stroke-width="2.30" stroke-linecap="round" opacity="1.00"/><path d="M37.00 436.80h0M39.90 436.58h0M42.80 435.94h0M45.70 434.96h0M48.60 433.73h0M51.50 432.41h0M54.40 431.13h0M57.30 430.03h0M60.20 429.24h0M63.10 428.84h0M66.00 428.70h0M68.90 428.09h0M71.80 426.98h0M74.70 425.49h0M77.60 423.79h0M80.50 422.07h0M83.40 420.50h0M86.30 419.27h0M89.20 418.51h0M92.10 418.30h0M95.00 418.59h0M97.90 419.28h0M100.80 420.34h0M103.70 421.67h0M106.60 423.16h0M109.50 424.67h0M112.40 426.10h0M115.30 427.31h0M118.20 428.20h0M121.10 428.70h0M124.00 428.83h0M126.90 429.18h0M129.80 429.91h0M132.70 430.98h0M135.60 432.27h0M138.50 433.70h0M141.40 435.13h0M144.30 436.46h0M147.20 437.56h0M150.10 438.34h0M153.00 438.75h0" fill="none" stroke="#ff8a10" stroke-width="2.70" stroke-linecap="round" opacity="1.00"/><path d="M37.00 435.30h0M39.90 435.08h0M42.80 434.44h0M45.70 433.46h0M48.60 432.23h0M51.50 430.91h0M54.40 429.63h0M57.30 428.53h0M60.20 427.74h0M63.10 427.34h0M66.00 427.20h0M68.90 426.59h0M71.80 425.48h0M74.70 423.99h0M77.60 422.29h0M80.50 420.57h0M83.40 419.00h0M86.30 417.77h0M89.20 417.01h0M92.10 416.80h0M95.00 417.09h0M97.90 417.78h0M100.80 418.84h0M103.70 420.17h0M106.60 421.66h0M109.50 423.17h0M112.40 424.60h0M115.30 425.81h0M118.20 426.70h0M121.10 427.20h0M124.00 427.33h0M126.90 427.68h0M129.80 428.41h0M132.70 429.48h0M135.60 430.77h0M138.50 432.20h0M141.40 433.63h0M144.30 434.96h0M147.20 436.06h0M150.10 436.84h0M153.00 437.25h0" fill="none" stroke="#1a7d1a" stroke-width="1.94" stroke-linecap="round" opacity="1.00"/><path d="M37.00 440.80h0M39.90 440.58h0M42.80 439.94h0M45.70 438.96h0M48.60 437.73h0M51.50 436.41h0M54.40 435.13h0M57.30 434.03h0M60.20 433.24h0M63.10 432.84h0M66.00 432.70h0M68.90 432.09h0M71.80 430.98h0M74.70 429.49h0M77.60 427.79h0M80.50 426.07h0M83.40 424.50h0M86.30 423.27h0M89.20 422.51h0M92.10 422.30h0M95.00 422.59h0M97.90 423.28h0M100.80 424.34h0M103.70 425.67h0M106.60 427.16h0M109.50 428.67h0M112.40 430.10h0M115.30 431.31h0M118.20 432.20h0M121.10 432.70h0M124.00 432.83h0M126.90 433.18h0M129.80 433.91h0M132.70 434.98h0M135.60 436.27h0M138.50 437.70h0M141.40 439.13h0M144.30 440.46h0M147.20 441.56h0M150.10 442.34h0M153.00 442.75h0" fill="none" stroke="#ff8a10" stroke-width="2.70" stroke-linecap="round" opacity="1.00"/><path d="M37.00 439.30h0M39.90 439.08h0M42.80 438.44h0M45.70 437.46h0M48.60 436.23h0M51.50 434.91h0M54.40 433.63h0M57.30 432.53h0M60.20 431.74h0M63.10 431.34h0M66.00 431.20h0M68.90 430.59h0M71.80 429.48h0M74.70 427.99h0M77.60 426.29h0M80.50 424.57h0M83.40 423.00h0M86.30 421.77h0M89.20 421.01h0M92.10 420.80h0M95.00 421.09h0M97.90 421.78h0M100.80 422.84h0M103.70 424.17h0M106.60 425.66h0M109.50 427.17h0M112.40 428.60h0M115.30 429.81h0M118.20 430.70h0M121.10 431.20h0M124.00 431.33h0M126.90 431.68h0M129.80 432.41h0M132.70 433.48h0M135.60 434.77h0M138.50 436.20h0M141.40 437.63h0M144.30 438.96h0M147.20 440.06h0M150.10 440.84h0M153.00 441.25h0" fill="none" stroke="#1a7d1a" stroke-width="1.94" stroke-linecap="round" opacity="1.00"/><path d="M37.00 444.80h0M39.90 444.58h0M42.80 443.94h0M45.70 442.96h0M48.60 441.73h0M51.50 440.41h0M54.40 439.13h0M57.30 438.03h0M60.20 437.24h0M63.10 436.84h0M66.00 436.70h0M68.90 436.09h0M71.80 434.98h0M74.70 433.49h0M77.60 431.79h0M80.50 430.07h0M83.40 428.50h0M86.30 427.27h0M89.20 426.51h0M92.10 426.30h0M95.00 426.59h0M97.90 427.28h0M100.80 428.34h0M103.70 429.67h0M106.60 431.16h0M109.50 432.67h0M112.40 434.10h0M115.30 435.31h0M118.20 436.20h0M121.10 436.70h0M124.00 436.83h0M126.90 437.18h0M129.80 437.91h0M132.70 438.98h0M135.60 440.27h0M138.50 441.70h0M141.40 443.13h0M144.30 444.46h0M147.20 445.56h0M150.10 446.34h0M153.00 446.75h0" fill="none" stroke="#ff8a10" stroke-width="2.70" stroke-linecap="round" opacity="1.00"/><path d="M37.00 443.30h0M39.90 443.08h0M42.80 442.44h0M45.70 441.46h0M48.60 440.23h0M51.50 438.91h0M54.40 437.63h0M57.30 436.53h0M60.20 435.74h0M63.10 435.34h0M66.00 435.20h0M68.90 434.59h0M71.80 433.48h0M74.70 431.99h0M77.60 430.29h0M80.50 428.57h0M83.40 427.00h0M86.30 425.77h0M89.20 425.01h0M92.10 424.80h0M95.00 425.09h0M97.90 425.78h0M100.80 426.84h0M103.70 428.17h0M106.60 429.66h0M109.50 431.17h0M112.40 432.60h0M115.30 433.81h0M118.20 434.70h0M121.10 435.20h0M124.00 435.33h0M126.90 435.68h0M129.80 436.41h0M132.70 437.48h0M135.60 438.77h0M138.50 440.20h0M141.40 441.63h0M144.30 442.96h0M147.20 444.06h0M150.10 444.84h0M153.00 445.25h0" fill="none" stroke="#1a7d1a" stroke-width="1.94" stroke-linecap="round" opacity="1.00"/><path d="M37.00 446.80h0M39.90 446.97h0M42.80 447.44h0M45.70 448.18h0M48.60 449.10h0M51.50 450.09h0M54.40 451.05h0M57.30 451.88h0M60.20 452.47h0M63.10 452.77h0M66.00 452.67h0M68.90 451.85h0M71.80 450.37h0M74.70 448.39h0M77.60 446.12h0M80.50 443.82h0M83.40 441.74h0M86.30 440.10h0M89.20 439.09h0M92.10 438.80h0M95.00 439.13h0M97.90 439.92h0M100.80 441.13h0M103.70 442.65h0M106.60 444.35h0M109.50 446.08h0M112.40 447.71h0M115.30 449.10h0M118.20 450.12h0M121.10 450.69h0M124.00 450.82h0M126.90 451.03h0M129.80 451.47h0M132.70 452.11h0M135.60 452.88h0M138.50 453.74h0M141.40 454.60h0M144.30 455.39h0M147.20 456.05h0M150.10 456.53h0M153.00 456.77h0" fill="none" stroke="#ff8a10" stroke-width="2.90" stroke-linecap="round" opacity="1.00"/><path d="M37.00 445.30h0M39.90 445.47h0M42.80 445.94h0M45.70 446.68h0M48.60 447.60h0M51.50 448.59h0M54.40 449.55h0M57.30 450.38h0M60.20 450.97h0M63.10 451.27h0M66.00 451.17h0M68.90 450.35h0M71.80 448.87h0M74.70 446.89h0M77.60 444.62h0M80.50 442.32h0M83.40 440.24h0M86.30 438.60h0M89.20 437.59h0M92.10 437.30h0M95.00 437.63h0M97.90 438.42h0M100.80 439.63h0M103.70 441.15h0M106.60 442.85h0M109.50 444.58h0M112.40 446.21h0M115.30 447.60h0M118.20 448.62h0M121.10 449.19h0M124.00 449.32h0M126.90 449.53h0M129.80 449.97h0M132.70 450.61h0M135.60 451.38h0M138.50 452.24h0M141.40 453.10h0M144.30 453.89h0M147.20 454.55h0M150.10 455.03h0M153.00 455.27h0" fill="none" stroke="#1a7d1a" stroke-width="2.09" stroke-linecap="round" opacity="1.00"/><path d="M37.00 452.80h0M39.90 452.97h0M42.80 453.44h0M45.70 454.18h0M48.60 455.10h0M51.50 456.09h0M54.40 457.05h0M57.30 457.88h0M60.20 458.47h0M63.10 458.77h0M66.00 458.70h0M68.90 458.10h0M71.80 457.01h0M74.70 455.55h0M77.60 453.89h0M80.50 452.19h0M83.40 450.66h0M86.30 449.46h0M89.20 448.71h0M92.10 448.50h0M95.00 448.73h0M97.90 449.28h0M100.80 450.11h0M103.70 451.16h0M106.60 452.34h0M109.50 453.54h0M112.40 454.66h0M115.30 455.62h0M118.20 456.33h0M121.10 456.72h0M124.00 456.81h0M126.90 456.95h0M129.80 457.25h0M132.70 457.67h0M135.60 458.19h0M138.50 458.76h0M141.40 459.33h0M144.30 459.86h0M147.20 460.30h0M150.10 460.62h0M153.00 460.78h0" fill="none" stroke="#ff8a10" stroke-width="2.70" stroke-linecap="round" opacity="1.00"/><path d="M37.00 451.30h0M39.90 451.47h0M42.80 451.94h0M45.70 452.68h0M48.60 453.60h0M51.50 454.59h0M54.40 455.55h0M57.30 456.38h0M60.20 456.97h0M63.10 457.27h0M66.00 457.20h0M68.90 456.60h0M71.80 455.51h0M74.70 454.05h0M77.60 452.39h0M80.50 450.69h0M83.40 449.16h0M86.30 447.96h0M89.20 447.21h0M92.10 447.00h0M95.00 447.23h0M97.90 447.78h0M100.80 448.61h0M103.70 449.66h0M106.60 450.84h0M109.50 452.04h0M112.40 453.16h0M115.30 454.12h0M118.20 454.83h0M121.10 455.22h0M124.00 455.31h0M126.90 455.45h0M129.80 455.75h0M132.70 456.17h0M135.60 456.69h0M138.50 457.26h0M141.40 457.83h0M144.30 458.36h0M147.20 458.80h0M150.10 459.12h0M153.00 459.28h0" fill="none" stroke="#1a7d1a" stroke-width="1.94" stroke-linecap="round" opacity="1.00"/><path d="M37.00 460.80h0M39.90 460.97h0M42.80 461.44h0M45.70 462.18h0M48.60 463.10h0M51.50 464.09h0M54.40 465.05h0M57.30 465.88h0M60.20 466.47h0M63.10 466.77h0M66.00 466.75h0M68.90 466.42h0M71.80 465.83h0M74.70 465.03h0M77.60 464.13h0M80.50 463.21h0M83.40 462.37h0M86.30 461.72h0M89.20 461.31h0M92.10 461.20h0M95.00 461.30h0M97.90 461.54h0M100.80 461.90h0M103.70 462.36h0M106.60 462.86h0M109.50 463.39h0M112.40 463.87h0M115.30 464.29h0M118.20 464.60h0M121.10 464.77h0M124.00 464.81h0M126.90 464.88h0M129.80 465.02h0M132.70 465.24h0M135.60 465.49h0M138.50 465.78h0M141.40 466.07h0M144.30 466.33h0M147.20 466.55h0M150.10 466.71h0M153.00 466.79h0" fill="none" stroke="#ff8a10" stroke-width="2.90" stroke-linecap="round" opacity="1.00"/><path d="M37.00 459.30h0M39.90 459.47h0M42.80 459.94h0M45.70 460.68h0M48.60 461.60h0M51.50 462.59h0M54.40 463.55h0M57.30 464.38h0M60.20 464.97h0M63.10 465.27h0M66.00 465.25h0M68.90 464.92h0M71.80 464.33h0M74.70 463.53h0M77.60 462.63h0M80.50 461.71h0M83.40 460.87h0M86.30 460.22h0M89.20 459.81h0M92.10 459.70h0M95.00 459.80h0M97.90 460.04h0M100.80 460.40h0M103.70 460.86h0M106.60 461.36h0M109.50 461.89h0M112.40 462.37h0M115.30 462.79h0M118.20 463.10h0M121.10 463.27h0M124.00 463.31h0M126.90 463.38h0M129.80 463.52h0M132.70 463.74h0M135.60 463.99h0M138.50 464.28h0M141.40 464.57h0M144.30 464.83h0M147.20 465.05h0M150.10 465.21h0M153.00 465.29h0" fill="none" stroke="#1a7d1a" stroke-width="2.09" stroke-linecap="round" opacity="1.00"/><path d="M37.00 468.80h0M39.90 468.91h0M42.80 469.23h0M45.70 469.72h0M48.60 470.33h0M51.50 471.00h0M54.40 471.64h0M57.30 472.19h0M60.20 472.58h0M63.10 472.78h0M66.00 472.78h0M68.90 472.66h0M71.80 472.45h0M74.70 472.17h0M77.60 471.85h0M80.50 471.52h0M83.40 471.22h0M86.30 470.99h0M89.20 470.84h0M92.10 470.80h0M95.00 470.85h0M97.90 470.99h0M100.80 471.19h0M103.70 471.44h0M106.60 471.72h0M109.50 472.01h0M112.40 472.29h0M115.30 472.52h0M118.20 472.69h0M121.10 472.78h0M124.00 472.80h0M126.90 472.80h0M129.80 472.80h0M132.70 472.80h0M135.60 472.80h0M138.50 472.80h0M141.40 472.80h0M144.30 472.80h0M147.20 472.80h0M150.10 472.80h0M153.00 472.80h0" fill="none" stroke="#ff8a10" stroke-width="2.90" stroke-linecap="round" opacity="1.00"/><path d="M37.00 467.30h0M39.90 467.41h0M42.80 467.73h0M45.70 468.22h0M48.60 468.83h0M51.50 469.50h0M54.40 470.14h0M57.30 470.69h0M60.20 471.08h0M63.10 471.28h0M66.00 471.28h0M68.90 471.16h0M71.80 470.95h0M74.70 470.67h0M77.60 470.35h0M80.50 470.02h0M83.40 469.72h0M86.30 469.49h0M89.20 469.34h0M92.10 469.30h0M95.00 469.35h0M97.90 469.49h0M100.80 469.69h0M103.70 469.94h0M106.60 470.22h0M109.50 470.51h0M112.40 470.79h0M115.30 471.02h0M118.20 471.19h0M121.10 471.28h0M124.00 471.30h0M126.90 471.30h0M129.80 471.30h0M132.70 471.30h0M135.60 471.30h0M138.50 471.30h0M141.40 471.30h0M144.30 471.30h0M147.20 471.30h0M150.10 471.30h0M153.00 471.30h0" fill="none" stroke="#1a7d1a" stroke-width="2.09" stroke-linecap="round" opacity="1.00"/><path d="M37.00 476.80h0M39.90 476.83h0M42.80 476.91h0M45.70 477.03h0M48.60 477.18h0M51.50 477.35h0M54.40 477.51h0M57.30 477.65h0M60.20 477.75h0M63.10 477.80h0M66.00 477.80h0M68.90 477.77h0M71.80 477.71h0M74.70 477.64h0M77.60 477.56h0M80.50 477.48h0M83.40 477.40h0M86.30 477.35h0M89.20 477.31h0M92.10 477.30h0M95.00 477.31h0M97.90 477.35h0M100.80 477.40h0M103.70 477.46h0M106.60 477.53h0M109.50 477.60h0M112.40 477.67h0M115.30 477.73h0M118.20 477.77h0M121.10 477.80h0M124.00 477.80h0M126.90 477.80h0M129.80 477.80h0M132.70 477.80h0M135.60 477.80h0M138.50 477.80h0M141.40 477.80h0M144.30 477.80h0M147.20 477.80h0M150.10 477.80h0M153.00 477.80h0" fill="none" stroke="#ff8a10" stroke-width="2.80" stroke-linecap="round" opacity="1.00"/><path d="M37.00 475.30h0M39.90 475.33h0M42.80 475.41h0M45.70 475.53h0M48.60 475.68h0M51.50 475.85h0M54.40 476.01h0M57.30 476.15h0M60.20 476.25h0M63.10 476.30h0M66.00 476.30h0M68.90 476.27h0M71.80 476.21h0M74.70 476.14h0M77.60 476.06h0M80.50 475.98h0M83.40 475.90h0M86.30 475.85h0M89.20 475.81h0M92.10 475.80h0M95.00 475.81h0M97.90 475.85h0M100.80 475.90h0M103.70 475.96h0M106.60 476.03h0M109.50 476.10h0M112.40 476.17h0M115.30 476.23h0M118.20 476.27h0M121.10 476.30h0M124.00 476.30h0M126.90 476.30h0M129.80 476.30h0M132.70 476.30h0M135.60 476.30h0M138.50 476.30h0M141.40 476.30h0M144.30 476.30h0M147.20 476.30h0M150.10 476.30h0M153.00 476.30h0" fill="none" stroke="#1a7d1a" stroke-width="2.02" stroke-linecap="round" opacity="1.00"/><path d="M37.00 428.80h0M39.90 428.52h0M42.80 427.73h0M45.70 426.50h0M48.60 424.97h0M51.50 423.31h0M54.40 421.71h0M57.30 420.34h0M60.20 419.35h0M63.10 418.85h0M66.00 418.85h0M68.90 419.14h0M71.80 419.67h0M74.70 420.38h0M77.60 421.19h0M80.50 422.01h0M83.40 422.75h0M86.30 423.34h0M89.20 423.70h0M92.10 423.81h0M95.00 423.99h0M97.90 424.46h0M100.80 425.16h0M103.70 426.05h0M106.60 427.04h0M109.50 428.05h0M112.40 429.00h0M115.30 429.81h0M118.20 430.40h0M121.10 430.74h0M124.00 430.81h0M126.90 430.95h0M129.80 431.25h0M132.70 431.67h0M135.60 432.19h0M138.50 432.76h0M141.40 433.33h0M144.30 433.86h0M147.20 434.30h0M150.10 434.62h0M153.00 434.78h0" fill="none" stroke="#ff8a10" stroke-width="2.40" stroke-linecap="round" opacity="1.00"/><path d="M37.00 427.30h0M39.90 427.02h0M42.80 426.23h0M45.70 425.00h0M48.60 423.47h0M51.50 421.81h0M54.40 420.21h0M57.30 418.84h0M60.20 417.85h0M63.10 417.35h0M66.00 417.35h0M68.90 417.64h0M71.80 418.17h0M74.70 418.88h0M77.60 419.69h0M80.50 420.51h0M83.40 421.25h0M86.30 421.84h0M89.20 422.20h0M92.10 422.31h0M95.00 422.49h0M97.90 422.96h0M100.80 423.66h0M103.70 424.55h0M106.60 425.54h0M109.50 426.55h0M112.40 427.50h0M115.30 428.31h0M118.20 428.90h0M121.10 429.24h0M124.00 429.31h0M126.90 429.45h0M129.80 429.75h0M132.70 430.17h0M135.60 430.69h0M138.50 431.26h0M141.40 431.83h0M144.30 432.36h0M147.20 432.80h0M150.10 433.12h0M153.00 433.28h0" fill="none" stroke="#1a7d1a" stroke-width="1.73" stroke-linecap="round" opacity="1.00"/><path d="M37.00 309.50h0M39.90 306.34h0M42.80 303.18h0M45.70 299.98h0M48.60 296.70h0M51.50 293.27h0M54.40 289.73h0M57.30 286.12h0M60.20 282.50h0M63.10 278.87h0M66.00 275.20h0M68.90 271.52h0M71.80 267.86h0M74.70 264.26h0M77.60 260.66h0M80.50 257.12h0M83.40 253.76h0M86.30 250.52h0M89.20 247.45h0M92.10 245.99h0M95.00 246.97h0M97.90 249.69h0M100.80 254.03h0M103.70 260.46h0M106.60 265.04h0M109.50 269.24h0M112.40 273.79h0M115.30 278.43h0M118.20 282.82h0M121.10 286.85h0M124.00 290.79h0M126.90 294.94h0M129.80 299.18h0M132.70 303.07h0M135.60 306.75h0M138.50 310.09h0M141.40 312.80h0M144.30 315.11h0M147.20 317.62h0M150.10 320.14h0M153.00 322.28h0" fill="none" stroke="#ee1111" stroke-width="3.50" stroke-linecap="round" opacity="1.00"/><path d="M37.00 309.50h0M39.90 306.34h0M42.80 303.18h0M45.70 299.98h0M48.60 296.70h0M51.50 293.27h0M54.40 289.73h0M57.30 286.12h0M60.20 282.50h0M63.10 278.87h0M66.00 275.20h0M68.90 271.52h0M71.80 267.86h0M74.70 264.26h0M77.60 260.66h0M80.50 257.12h0M83.40 253.76h0M86.30 250.52h0M89.20 247.45h0M92.10 245.99h0M95.00 246.97h0M97.90 249.69h0M100.80 254.03h0M103.70 260.46h0M106.60 265.04h0M109.50 269.24h0M112.40 273.79h0M115.30 278.43h0M118.20 282.82h0M121.10 286.85h0M124.00 290.79h0M126.90 294.94h0M129.80 299.18h0M132.70 303.07h0M135.60 306.75h0M138.50 310.09h0M141.40 312.80h0M144.30 315.11h0M147.20 317.62h0M150.10 320.14h0M153.00 322.28h0" fill="none" stroke="#6a2aa8" stroke-width="1.93" stroke-linecap="round" opacity="1.00"/><path d="M129.80 253.44h0M132.70 255.95h0M135.60 258.44h0M138.50 260.88h0M141.40 263.20h0M144.30 265.63h0M147.20 268.43h0M150.10 271.48h0M153.00 274.51h0" fill="none" stroke="#ee1111" stroke-width="3.20" stroke-linecap="round" opacity="1.00"/><path d="M92.10 261.09h0M95.00 253.53h0" fill="none" stroke="#1a1aee" stroke-width="2.80" stroke-linecap="round" opacity="1.00"/><path d="M37.00 312.00h0M39.90 314.10h0M42.80 316.23h0M45.70 318.63h0M48.60 321.48h0M51.50 324.75h0M54.40 328.36h0M57.30 331.01h0M60.20 333.14h0M63.10 333.65h0M66.00 332.00h0M68.90 328.08h0M71.80 321.60h0M74.70 313.49h0M77.60 305.43h0M80.50 298.03h0M83.40 289.49h0M86.30 281.07h0M89.20 274.86h0M92.10 272.45h0M95.00 277.00h0M97.90 286.31h0M100.80 295.44h0M103.70 306.95h0M106.60 318.01h0M109.50 328.47h0M112.40 341.46h0M115.30 355.21h0M118.20 368.18h0M121.10 379.80h0M124.00 392.69h0M126.90 401.48h0M129.80 406.76h0M132.70 411.06h0M135.60 414.79h0M138.50 416.98h0M141.40 419.68h0M144.30 422.58h0M147.20 424.72h0M150.10 427.05h0M153.00 429.27h0" fill="none" stroke="#ee1111" stroke-width="3.00" stroke-linecap="round" opacity="1.00"/><path d="M37.00 312.00h0M39.90 314.10h0M42.80 316.23h0M45.70 318.63h0M48.60 321.48h0M51.50 324.75h0M54.40 328.36h0M57.30 331.01h0M60.20 333.14h0M63.10 333.65h0M66.00 332.00h0M68.90 328.08h0M71.80 321.60h0M74.70 313.49h0M77.60 305.43h0M80.50 298.03h0M83.40 289.49h0M86.30 281.07h0M89.20 274.86h0M92.10 272.45h0M95.00 277.00h0M97.90 286.31h0M100.80 295.44h0M103.70 306.95h0M106.60 318.01h0M109.50 328.47h0M112.40 341.46h0M115.30 355.21h0M118.20 368.18h0M121.10 379.80h0M124.00 392.69h0M126.90 401.48h0M129.80 406.76h0M132.70 411.06h0M135.60 414.79h0M138.50 416.98h0M141.40 419.68h0M144.30 422.58h0M147.20 424.72h0M150.10 427.05h0M153.00 429.27h0" fill="none" stroke="#6a2aa8" stroke-width="1.65" stroke-linecap="round" opacity="1.00"/><path d="M118.20 364.65h0M121.10 359.52h0M124.00 354.85h0M126.90 350.88h0M129.80 347.18h0M132.70 342.44h0M135.60 339.15h0M138.50 335.59h0M141.40 331.14h0M144.30 326.08h0M147.20 321.33h0M150.10 317.64h0M153.00 314.50h0" fill="none" stroke="#ee1111" stroke-width="3.00" stroke-linecap="round" opacity="1.00"/><path d="M37.00 404.00h0M39.90 400.91h0M42.80 397.56h0M45.70 393.94h0M48.60 390.26h0M51.50 386.62h0M54.40 383.11h0M57.30 379.68h0M60.20 376.33h0M63.10 373.14h0M66.00 370.22h0M68.90 367.53h0M71.80 365.15h0M74.70 363.18h0M77.60 361.72h0M80.50 360.69h0M83.40 359.90h0M86.30 359.18h0M89.20 358.61h0M92.10 358.39h0M95.00 358.49h0M97.90 358.78h0M100.80 359.19h0M103.70 359.72h0M106.60 360.42h0M109.50 361.42h0M112.40 362.70h0M115.30 364.52h0" fill="none" stroke="#ee1111" stroke-width="2.90" stroke-linecap="round" opacity="1.00"/><path d="M37.00 404.00h0M39.90 400.91h0M42.80 397.56h0M45.70 393.94h0M48.60 390.26h0M51.50 386.62h0M54.40 383.11h0M57.30 379.68h0M60.20 376.33h0M63.10 373.14h0M66.00 370.22h0M68.90 367.53h0M71.80 365.15h0M74.70 363.18h0M77.60 361.72h0M80.50 360.69h0M83.40 359.90h0M86.30 359.18h0M89.20 358.61h0M92.10 358.39h0M95.00 358.49h0M97.90 358.78h0M100.80 359.19h0M103.70 359.72h0M106.60 360.42h0M109.50 361.42h0M112.40 362.70h0M115.30 364.52h0" fill="none" stroke="#6a2aa8" stroke-width="1.59" stroke-linecap="round" opacity="1.00"/><path d="M37.00 418.00h0M39.90 417.20h0M42.80 412.42h0M45.70 406.36h0M48.60 401.52h0M51.50 397.50h0M54.40 393.45h0M57.30 388.55h0M60.20 383.44h0M63.10 379.81h0M66.00 377.20h0M68.90 375.15h0M71.80 373.63h0M74.70 372.96h0M77.60 372.93h0M80.50 372.87h0M83.40 372.75h0M86.30 372.67h0M89.20 372.62h0M92.10 372.60h0M95.00 372.53h0M97.90 372.53h0M100.80 372.87h0M103.70 373.43h0M106.60 374.11h0M109.50 374.92h0M112.40 375.97h0M115.30 377.48h0M118.20 379.89h0M121.10 382.53h0M124.00 384.49h0M126.90 385.95h0M129.80 387.27h0M132.70 388.62h0M135.60 390.18h0M138.50 392.22h0M141.40 394.65h0M144.30 397.15h0M147.20 399.30h0M150.10 401.10h0M153.00 402.01h0" fill="none" stroke="#6a2aa8" stroke-width="2.90" stroke-linecap="round" opacity="1.00"/><path d="M37.00 418.00h0M39.90 417.20h0M42.80 412.42h0M45.70 406.36h0M48.60 401.52h0M51.50 397.50h0M54.40 393.45h0M57.30 388.55h0M60.20 383.44h0M63.10 379.81h0M66.00 377.20h0M68.90 375.15h0M71.80 373.63h0M74.70 372.96h0M77.60 372.93h0M80.50 372.87h0M83.40 372.75h0M86.30 372.67h0M89.20 372.62h0M92.10 372.60h0M95.00 372.53h0M97.90 372.53h0M100.80 372.87h0M103.70 373.43h0M106.60 374.11h0M109.50 374.92h0M112.40 375.97h0M115.30 377.48h0M118.20 379.89h0M121.10 382.53h0M124.00 384.49h0M126.90 385.95h0M129.80 387.27h0M132.70 388.62h0M135.60 390.18h0M138.50 392.22h0M141.40 394.65h0M144.30 397.15h0M147.20 399.30h0M150.10 401.10h0M153.00 402.01h0" fill="none" stroke="#1a1aee" stroke-width="1.59" stroke-linecap="round" opacity="1.00"/><path d="M106.60 374.21h0M109.50 375.48h0M112.40 376.78h0M115.30 378.15h0M118.20 379.70h0M121.10 381.56h0M124.00 383.68h0M126.90 385.85h0M129.80 388.02h0M132.70 390.24h0M135.60 392.48h0M138.50 394.69h0M141.40 396.99h0M144.30 399.07h0M147.20 400.69h0M150.10 402.07h0M153.00 403.36h0" fill="none" stroke="#6a2aa8" stroke-width="2.60" stroke-linecap="round" opacity="1.00"/><path d="M106.60 374.21h0M109.50 375.48h0M112.40 376.78h0M115.30 378.15h0M118.20 379.70h0M121.10 381.56h0M124.00 383.68h0M126.90 385.85h0M129.80 388.02h0M132.70 390.24h0M135.60 392.48h0M138.50 394.69h0M141.40 396.99h0M144.30 399.07h0M147.20 400.69h0M150.10 402.07h0M153.00 403.36h0" fill="none" stroke="#1a1aee" stroke-width="1.43" stroke-linecap="round" opacity="1.00"/><path d="M37.00 430.00h0M39.90 426.98h0M42.80 427.11h0M45.70 427.48h0M48.60 427.49h0M51.50 426.45h0M54.40 423.92h0M57.30 420.69h0M60.20 417.84h0M63.10 415.75h0M66.00 413.96h0M68.90 412.14h0M71.80 410.12h0M74.70 408.10h0M77.60 406.25h0M80.50 404.78h0M83.40 403.67h0M86.30 402.87h0M89.20 402.40h0M92.10 402.33h0M95.00 402.79h0M97.90 403.70h0M100.80 404.91h0M103.70 406.36h0M106.60 408.10h0M109.50 410.04h0M112.40 412.11h0M115.30 414.45h0M118.20 416.88h0M121.10 419.23h0M124.00 421.12h0M126.90 422.20h0M129.80 422.05h0M132.70 419.97h0M135.60 417.97h0M138.50 415.20h0M141.40 412.20h0M144.30 409.17h0M147.20 406.48h0M150.10 404.49h0M153.00 402.85h0" fill="none" stroke="#6a2aa8" stroke-width="2.90" stroke-linecap="round" opacity="1.00"/><path d="M37.00 430.00h0M39.90 426.98h0M42.80 427.11h0M45.70 427.48h0M48.60 427.49h0M51.50 426.45h0M54.40 423.92h0M57.30 420.69h0M60.20 417.84h0M63.10 415.75h0M66.00 413.96h0M68.90 412.14h0M71.80 410.12h0M74.70 408.10h0M77.60 406.25h0M80.50 404.78h0M83.40 403.67h0M86.30 402.87h0M89.20 402.40h0M92.10 402.33h0M95.00 402.79h0M97.90 403.70h0M100.80 404.91h0M103.70 406.36h0M106.60 408.10h0M109.50 410.04h0M112.40 412.11h0M115.30 414.45h0M118.20 416.88h0M121.10 419.23h0M124.00 421.12h0M126.90 422.20h0M129.80 422.05h0M132.70 419.97h0M135.60 417.97h0M138.50 415.20h0M141.40 412.20h0M144.30 409.17h0M147.20 406.48h0M150.10 404.49h0M153.00 402.85h0" fill="none" stroke="#1a1aee" stroke-width="1.59" stroke-linecap="round" opacity="1.00"/><path d="M37.00 401.00h0M39.90 406.23h0M42.80 411.45h0M45.70 416.64h0M48.60 422.03h0M51.50 425.27h0M54.40 426.71h0" fill="none" stroke="#6a2aa8" stroke-width="2.60" stroke-linecap="round" opacity="1.00"/><path d="M37.00 401.00h0M39.90 406.23h0M42.80 411.45h0M45.70 416.64h0M48.60 422.03h0M51.50 425.27h0M54.40 426.71h0" fill="none" stroke="#1a1aee" stroke-width="1.43" stroke-linecap="round" opacity="1.00"/><path d="M37.00 432.60h0M39.90 433.69h0M42.80 434.56h0M45.70 434.50h0M48.60 432.27h0M51.50 428.59h0M54.40 425.77h0M57.30 424.35h0M60.20 423.50h0M63.10 422.94h0M66.00 422.45h0M68.90 421.92h0M71.80 421.34h0M74.70 420.75h0M77.60 420.18h0M80.50 419.66h0M83.40 419.21h0M86.30 418.86h0M89.20 418.65h0M92.10 418.61h0M95.00 418.72h0M97.90 418.93h0M100.80 419.25h0M103.70 419.67h0M106.60 420.20h0M109.50 420.83h0M112.40 421.62h0M115.30 422.64h0M118.20 424.10h0M121.10 426.04h0M124.00 428.32h0M126.90 430.53h0M129.80 432.77h0M132.70 435.25h0M135.60 437.67h0M138.50 439.74h0M141.40 441.24h0M144.30 442.25h0M147.20 443.03h0M150.10 443.68h0M153.00 444.27h0" fill="none" stroke="#ff8a10" stroke-width="2.60" stroke-linecap="round" opacity="1.00"/><path d="M37.00 431.40h0M39.90 432.49h0M42.80 433.36h0M45.70 433.30h0M48.60 431.07h0M51.50 427.39h0M54.40 424.57h0M57.30 423.15h0M60.20 422.30h0M63.10 421.74h0M66.00 421.25h0M68.90 420.72h0M71.80 420.14h0M74.70 419.55h0M77.60 418.98h0M80.50 418.46h0M83.40 418.01h0M86.30 417.66h0M89.20 417.45h0M92.10 417.41h0M95.00 417.52h0M97.90 417.73h0M100.80 418.05h0M103.70 418.47h0M106.60 419.00h0M109.50 419.63h0M112.40 420.42h0M115.30 421.44h0M118.20 422.90h0M121.10 424.84h0M124.00 427.12h0M126.90 429.33h0M129.80 431.57h0M132.70 434.05h0M135.60 436.47h0M138.50 438.54h0M141.40 440.04h0M144.30 441.05h0M147.20 441.83h0M150.10 442.48h0M153.00 443.07h0" fill="none" stroke="#ee1111" stroke-width="1.82" stroke-linecap="round" opacity="1.00"/><path d="M37.00 458.60h0M39.90 459.50h0M42.80 460.40h0M45.70 461.30h0M48.60 462.18h0M51.50 463.06h0M54.40 463.93h0M57.30 464.78h0M60.20 465.59h0M63.10 466.33h0M66.00 467.04h0M68.90 467.73h0" fill="none" stroke="#ee1111" stroke-width="2.40" stroke-linecap="round" opacity="1.00"/><path d="M154.4 278.0C157.0 275.9 164.9 269.4 170.0 265.5C175.1 261.6 182.7 256.3 185.2 254.5" fill="none" stroke="#ff8a10" stroke-width="1.00" stroke-linejoin="round" stroke-linecap="round" opacity="1.00" /><path d="M154.4 277.1C157.0 275.0 164.9 268.5 170.0 264.6C175.1 260.7 182.7 255.4 185.2 253.6" fill="none" stroke="#ee1111" stroke-width="0.90" stroke-linejoin="round" stroke-linecap="round" opacity="1.00" /><path d="M154.4 276.5C157.0 274.4 164.9 267.9 170.0 264.0C175.1 260.1 182.7 254.8 185.2 253.0" fill="none" stroke="#1a1aee" stroke-width="0.70" stroke-linejoin="round" stroke-linecap="round" opacity="1.00" /><path d="M160.0 253.5C162.0 253.8 167.8 254.6 172.0 255.0C176.2 255.4 183.0 255.8 185.2 256.0" fill="none" stroke="#ff8a10" stroke-width="1.00" stroke-linejoin="round" stroke-linecap="round" opacity="1.00" /><path d="M160.0 252.6C162.0 252.8 167.8 253.7 172.0 254.1C176.2 254.5 183.0 254.9 185.2 255.1" fill="none" stroke="#ee1111" stroke-width="0.90" stroke-linejoin="round" stroke-linecap="round" opacity="1.00" /><path d="M160.0 252.0C162.0 252.2 167.8 253.1 172.0 253.5C176.2 253.9 183.0 254.3 185.2 254.5" fill="none" stroke="#1a1aee" stroke-width="0.70" stroke-linejoin="round" stroke-linecap="round" opacity="1.00" /><path d="M154.4 303.3C155.8 304.3 159.6 308.2 163.0 309.5C166.4 310.8 171.3 310.8 175.0 310.8C178.7 310.9 183.5 310.0 185.2 309.8" fill="none" stroke="#ee1111" stroke-width="1.30" stroke-linejoin="round" stroke-linecap="round" opacity="1.00" /><path d="M154.4 301.7C155.8 302.7 159.6 306.6 163.0 307.9C166.4 309.1 171.3 309.1 175.0 309.2C178.7 309.2 183.5 308.4 185.2 308.2" fill="none" stroke="#1a1aee" stroke-width="1.10" stroke-linejoin="round" stroke-linecap="round" opacity="1.00" /><path d="M154.4 306.4C155.8 307.1 159.6 309.6 163.0 310.9C166.4 312.1 171.3 313.4 175.0 313.9C178.7 314.4 183.5 313.9 185.2 313.9" fill="none" stroke="#ff8a10" stroke-width="1.20" stroke-linejoin="round" stroke-linecap="round" opacity="1.00" /><path d="M154.4 305.0C155.8 305.8 159.6 308.2 163.0 309.5C166.4 310.8 171.3 312.0 175.0 312.5C178.7 313.0 183.5 312.5 185.2 312.5" fill="none" stroke="#1a7d1a" stroke-width="0.66" stroke-linejoin="round" stroke-linecap="round" opacity="1.00" /><path d="M154.4 313.8C157.0 313.6 164.9 313.3 170.0 312.8C175.1 312.3 182.7 311.1 185.2 310.8" fill="none" stroke="#ee1111" stroke-width="1.30" stroke-linejoin="round" stroke-linecap="round" opacity="1.00" /><path d="M154.4 312.2C157.0 312.0 164.9 311.7 170.0 311.2C175.1 310.7 182.7 309.5 185.2 309.2" fill="none" stroke="#1a1aee" stroke-width="1.10" stroke-linejoin="round" stroke-linecap="round" opacity="1.00" /><path d="M154.4 320.5C157.0 319.9 164.9 317.9 170.0 316.9C175.1 315.9 182.7 314.8 185.2 314.4" fill="none" stroke="#ff8a10" stroke-width="1.60" stroke-linejoin="round" stroke-linecap="round" opacity="1.00" /><path d="M154.4 319.1C157.0 318.5 164.9 316.5 170.0 315.5C175.1 314.5 182.7 313.4 185.2 313.0" fill="none" stroke="#1a7d1a" stroke-width="0.88" stroke-linejoin="round" stroke-linecap="round" opacity="1.00" /><path d="M154.4 325.4C156.2 326.3 161.6 328.8 165.0 330.9C168.4 333.0 171.6 336.0 175.0 337.9C178.4 339.8 183.5 341.7 185.2 342.5" fill="none" stroke="#ff8a10" stroke-width="2.60" stroke-linejoin="round" stroke-linecap="round" opacity="1.00" /><path d="M154.4 324.0C156.2 324.9 161.6 327.4 165.0 329.5C168.4 331.6 171.6 334.6 175.0 336.5C178.4 338.4 183.5 340.3 185.2 341.1" fill="none" stroke="#1a7d1a" stroke-width="1.43" stroke-linejoin="round" stroke-linecap="round" opacity="1.00" /><path d="M154.4 348.9C157.0 348.4 164.9 346.8 170.0 345.9C175.1 345.0 182.7 344.1 185.2 343.8" fill="none" stroke="#ff8a10" stroke-width="2.60" stroke-linejoin="round" stroke-linecap="round" opacity="1.00" /><path d="M154.4 347.5C157.0 347.0 164.9 345.4 170.0 344.5C175.1 343.6 182.7 342.8 185.2 342.4" fill="none" stroke="#1a7d1a" stroke-width="1.43" stroke-linejoin="round" stroke-linecap="round" opacity="1.00" /><path d="M154.4 356.0C159.5 356.2 180.1 357.0 185.2 357.2" fill="none" stroke="#ff8a10" stroke-width="2.40" stroke-linejoin="round" stroke-linecap="round" opacity="1.00" /><path d="M154.4 354.6C159.5 354.8 180.1 355.6 185.2 355.8" fill="none" stroke="#1a7d1a" stroke-width="1.32" stroke-linejoin="round" stroke-linecap="round" opacity="1.00" /><path d="M154.4 362.1C159.5 362.1 180.1 362.3 185.2 362.4" fill="none" stroke="#ff8a10" stroke-width="2.40" stroke-linejoin="round" stroke-linecap="round" opacity="1.00" /><path d="M154.4 360.7C159.5 360.8 180.1 360.9 185.2 361.0" fill="none" stroke="#1a7d1a" stroke-width="1.32" stroke-linejoin="round" stroke-linecap="round" opacity="1.00" /><path d="M154.4 400.8C157.0 401.0 164.9 401.1 170.0 401.8C175.1 402.5 182.7 404.3 185.2 404.8" fill="none" stroke="#ee1111" stroke-width="1.30" stroke-linejoin="round" stroke-linecap="round" opacity="1.00" /><path d="M154.4 399.2C157.0 399.4 164.9 399.5 170.0 400.2C175.1 400.9 182.7 402.7 185.2 403.2" fill="none" stroke="#1a1aee" stroke-width="1.10" stroke-linejoin="round" stroke-linecap="round" opacity="1.00" /><path d="M154.4 403.9C157.0 403.9 164.9 403.4 170.0 403.9C175.1 404.4 182.7 406.4 185.2 406.9" fill="none" stroke="#ff8a10" stroke-width="1.60" stroke-linejoin="round" stroke-linecap="round" opacity="1.00" /><path d="M154.4 402.5C157.0 402.5 164.9 402.0 170.0 402.5C175.1 403.0 182.7 405.0 185.2 405.5" fill="none" stroke="#1a7d1a" stroke-width="0.88" stroke-linejoin="round" stroke-linecap="round" opacity="1.00" /><path d="M154.4 401.5C157.0 401.5 164.9 401.0 170.0 401.5C175.1 402.0 182.7 404.0 185.2 404.5" fill="none" stroke="#1a1aee" stroke-width="0.90" stroke-linejoin="round" stroke-linecap="round" opacity="1.00" /><path d="M154.4 406.8C156.2 406.5 161.6 405.1 165.0 404.8C168.4 404.5 171.6 404.3 175.0 404.8C178.4 405.3 183.5 407.3 185.2 407.8" fill="none" stroke="#ee1111" stroke-width="1.30" stroke-linejoin="round" stroke-linecap="round" opacity="1.00" /><path d="M154.4 405.2C156.2 404.9 161.6 403.5 165.0 403.2C168.4 402.9 171.6 402.7 175.0 403.2C178.4 403.7 183.5 405.7 185.2 406.2" fill="none" stroke="#1a1aee" stroke-width="1.10" stroke-linejoin="round" stroke-linecap="round" opacity="1.00" /><path d="M154.4 410.9C156.2 410.2 161.6 407.6 165.0 406.9C168.4 406.2 171.6 406.4 175.0 406.9C178.4 407.4 183.5 409.4 185.2 409.9" fill="none" stroke="#ff8a10" stroke-width="1.60" stroke-linejoin="round" stroke-linecap="round" opacity="1.00" /><path d="M154.4 409.5C156.2 408.8 161.6 406.2 165.0 405.5C168.4 404.8 171.6 405.0 175.0 405.5C178.4 406.0 183.5 408.0 185.2 408.5" fill="none" stroke="#1a7d1a" stroke-width="0.88" stroke-linejoin="round" stroke-linecap="round" opacity="1.00" /><path d="M154.4 408.5C156.2 407.8 161.6 405.2 165.0 404.5C168.4 403.8 171.6 404.0 175.0 404.5C178.4 405.0 183.5 407.0 185.2 407.5" fill="none" stroke="#1a1aee" stroke-width="0.90" stroke-linejoin="round" stroke-linecap="round" opacity="1.00" /><path d="M154.4 421.8C157.0 421.6 164.9 419.8 170.0 420.8C175.1 421.8 182.7 426.6 185.2 427.8" fill="none" stroke="#ee1111" stroke-width="1.30" stroke-linejoin="round" stroke-linecap="round" opacity="1.00" /><path d="M154.4 420.2C157.0 420.0 164.9 418.2 170.0 419.2C175.1 420.2 182.7 425.0 185.2 426.2" fill="none" stroke="#1a1aee" stroke-width="1.10" stroke-linejoin="round" stroke-linecap="round" opacity="1.00" /><path d="M154.4 426.9C157.0 426.5 164.9 424.1 170.0 424.4C175.1 424.6 182.7 427.7 185.2 428.4" fill="none" stroke="#ff8a10" stroke-width="1.80" stroke-linejoin="round" stroke-linecap="round" opacity="1.00" /><path d="M154.4 425.5C157.0 425.1 164.9 422.8 170.0 423.0C175.1 423.2 182.7 426.3 185.2 427.0" fill="none" stroke="#1a7d1a" stroke-width="0.99" stroke-linejoin="round" stroke-linecap="round" opacity="1.00" /><path d="M154.4 435.8C157.0 434.8 164.9 431.1 170.0 429.8C175.1 428.5 182.7 428.1 185.2 427.8" fill="none" stroke="#ee1111" stroke-width="1.30" stroke-linejoin="round" stroke-linecap="round" opacity="1.00" /><path d="M154.4 434.2C157.0 433.2 164.9 429.5 170.0 428.2C175.1 426.9 182.7 426.5 185.2 426.2" fill="none" stroke="#1a1aee" stroke-width="1.10" stroke-linejoin="round" stroke-linecap="round" opacity="1.00" /><path d="M154.4 430.9C157.0 430.2 164.9 427.4 170.0 426.9C175.1 426.4 182.7 427.7 185.2 427.9" fill="none" stroke="#ff8a10" stroke-width="1.60" stroke-linejoin="round" stroke-linecap="round" opacity="1.00" /><path d="M154.4 429.5C157.0 428.8 164.9 426.0 170.0 425.5C175.1 425.0 182.7 426.3 185.2 426.5" fill="none" stroke="#1a7d1a" stroke-width="0.88" stroke-linejoin="round" stroke-linecap="round" opacity="1.00" /><path d="M154.4 428.5C157.0 427.8 164.9 425.0 170.0 424.5C175.1 424.0 182.7 425.3 185.2 425.5" fill="none" stroke="#1a1aee" stroke-width="0.90" stroke-linejoin="round" stroke-linecap="round" opacity="1.00" /><path d="M154.4 438.9C157.0 439.1 164.9 439.6 170.0 439.9C175.1 440.2 182.7 440.7 185.2 440.9" fill="none" stroke="#ff8a10" stroke-width="2.20" stroke-linejoin="round" stroke-linecap="round" opacity="1.00" /><path d="M154.4 437.5C157.0 437.7 164.9 438.2 170.0 438.5C175.1 438.8 182.7 439.3 185.2 439.5" fill="none" stroke="#1a7d1a" stroke-width="1.21" stroke-linejoin="round" stroke-linecap="round" opacity="1.00" /><path d="M154.4 444.9C157.0 445.1 164.9 445.6 170.0 445.9C175.1 446.2 182.7 446.7 185.2 446.9" fill="none" stroke="#ff8a10" stroke-width="2.20" stroke-linejoin="round" stroke-linecap="round" opacity="1.00" /><path d="M154.4 443.5C157.0 443.7 164.9 444.2 170.0 444.5C175.1 444.8 182.7 445.3 185.2 445.5" fill="none" stroke="#1a7d1a" stroke-width="1.21" stroke-linejoin="round" stroke-linecap="round" opacity="1.00" /><path d="M154.4 450.9C157.0 451.1 164.9 451.6 170.0 451.9C175.1 452.2 182.7 452.7 185.2 452.9" fill="none" stroke="#ff8a10" stroke-width="2.20" stroke-linejoin="round" stroke-linecap="round" opacity="1.00" /><path d="M154.4 449.5C157.0 449.7 164.9 450.2 170.0 450.5C175.1 450.8 182.7 451.3 185.2 451.5" fill="none" stroke="#1a7d1a" stroke-width="1.21" stroke-linejoin="round" stroke-linecap="round" opacity="1.00" /><path d="M154.4 458.9C157.0 458.6 164.9 457.6 170.0 456.9C175.1 456.2 182.7 455.2 185.2 454.9" fill="none" stroke="#ff8a10" stroke-width="2.20" stroke-linejoin="round" stroke-linecap="round" opacity="1.00" /><path d="M154.4 457.5C157.0 457.2 164.9 456.2 170.0 455.5C175.1 454.8 182.7 453.8 185.2 453.5" fill="none" stroke="#1a7d1a" stroke-width="1.21" stroke-linejoin="round" stroke-linecap="round" opacity="1.00" /><path d="M154.4 464.9C157.0 464.6 164.9 463.6 170.0 462.9C175.1 462.2 182.7 461.2 185.2 460.9" fill="none" stroke="#ff8a10" stroke-width="2.20" stroke-linejoin="round" stroke-linecap="round" opacity="1.00" /><path d="M154.4 463.5C157.0 463.2 164.9 462.2 170.0 461.5C175.1 460.8 182.7 459.8 185.2 459.5" fill="none" stroke="#1a7d1a" stroke-width="1.21" stroke-linejoin="round" stroke-linecap="round" opacity="1.00" /><path d="M154.4 469.9C157.0 469.6 164.9 468.9 170.0 468.4C175.1 467.9 182.7 467.1 185.2 466.9" fill="none" stroke="#ff8a10" stroke-width="2.20" stroke-linejoin="round" stroke-linecap="round" opacity="1.00" /><path d="M154.4 468.5C157.0 468.2 164.9 467.5 170.0 467.0C175.1 466.5 182.7 465.8 185.2 465.5" fill="none" stroke="#1a7d1a" stroke-width="1.21" stroke-linejoin="round" stroke-linecap="round" opacity="1.00" /><path d="M154.4 474.9C157.0 474.7 164.9 474.2 170.0 473.9C175.1 473.6 182.7 473.1 185.2 472.9" fill="none" stroke="#ff8a10" stroke-width="2.20" stroke-linejoin="round" stroke-linecap="round" opacity="1.00" /><path d="M154.4 473.5C157.0 473.3 164.9 472.8 170.0 472.5C175.1 472.2 182.7 471.7 185.2 471.5" fill="none" stroke="#1a7d1a" stroke-width="1.21" stroke-linejoin="round" stroke-linecap="round" opacity="1.00" /></g><g clip-path="url(#ce)"><path d="M197.40 339.30h0M200.30 338.63h0M203.20 337.92h0M206.10 337.03h0M209.00 335.89h0M211.90 334.61h0M214.80 333.27h0M217.70 331.88h0M220.60 330.42h0M223.50 328.86h0M226.40 327.21h0M229.30 325.48h0M232.20 323.65h0M235.10 321.64h0M238.00 319.66h0M240.90 318.04h0M243.80 316.74h0M246.70 315.64h0M249.60 314.75h0M252.50 314.84h0M255.40 315.19h0M258.30 316.80h0M261.20 319.65h0M264.10 321.72h0M267.00 323.68h0M269.90 325.50h0M272.80 327.08h0M275.70 328.29h0M278.60 329.14h0M281.50 329.71h0M284.40 330.05h0M287.30 330.23h0M290.20 330.19h0M293.10 329.94h0M296.00 329.53h0M298.90 329.00h0M301.80 328.26h0M304.70 327.34h0M307.60 326.35h0M310.50 325.43h0M313.40 325.04h0" fill="none" stroke="#ff8a10" stroke-width="3.20" stroke-linecap="round" opacity="1.00"/><path d="M197.40 337.80h0M200.30 337.13h0M203.20 336.42h0M206.10 335.53h0M209.00 334.39h0M211.90 333.11h0M214.80 331.77h0M217.70 330.38h0M220.60 328.92h0M223.50 327.36h0M226.40 325.71h0M229.30 323.98h0M232.20 322.15h0M235.10 320.14h0M238.00 318.16h0M240.90 316.54h0M243.80 315.24h0M246.70 314.14h0M249.60 313.25h0M252.50 313.34h0M255.40 313.69h0M258.30 315.30h0M261.20 318.15h0M264.10 320.22h0M267.00 322.18h0M269.90 324.00h0M272.80 325.58h0M275.70 326.79h0M278.60 327.64h0M281.50 328.21h0M284.40 328.55h0M287.30 328.73h0M290.20 328.69h0M293.10 328.44h0M296.00 328.03h0M298.90 327.50h0M301.80 326.76h0M304.70 325.84h0M307.60 324.85h0M310.50 323.93h0M313.40 323.54h0" fill="none" stroke="#1a7d1a" stroke-width="2.24" stroke-linecap="round" opacity="1.00"/><path d="M197.40 343.60h0M200.30 344.06h0M203.20 344.54h0M206.10 345.11h0M209.00 345.91h0M211.90 346.72h0M214.80 347.15h0M217.70 347.09h0M220.60 346.55h0M223.50 345.61h0M226.40 344.34h0M229.30 343.09h0M232.20 341.95h0M235.10 340.86h0M238.00 340.07h0M240.90 339.52h0M243.80 339.09h0M246.70 338.72h0M249.60 338.41h0M252.50 338.16h0M255.40 338.22h0M258.30 338.95h0M261.20 339.96h0M264.10 341.00h0M267.00 342.01h0M269.90 343.06h0M272.80 344.09h0M275.70 345.07h0M278.60 345.93h0M281.50 346.47h0M284.40 346.57h0M287.30 346.59h0M290.20 347.10h0M293.10 348.21h0M296.00 349.28h0M298.90 349.80h0M301.80 349.84h0M304.70 349.70h0M307.60 349.48h0M310.50 349.20h0M313.40 348.92h0" fill="none" stroke="#ff8a10" stroke-width="3.20" stroke-linecap="round" opacity="1.00"/><path d="M197.40 342.10h0M200.30 342.56h0M203.20 343.04h0M206.10 343.61h0M209.00 344.41h0M211.90 345.22h0M214.80 345.65h0M217.70 345.59h0M220.60 345.05h0M223.50 344.11h0M226.40 342.84h0M229.30 341.59h0M232.20 340.45h0M235.10 339.36h0M238.00 338.57h0M240.90 338.02h0M243.80 337.59h0M246.70 337.22h0M249.60 336.91h0M252.50 336.66h0M255.40 336.72h0M258.30 337.45h0M261.20 338.46h0M264.10 339.50h0M267.00 340.51h0M269.90 341.56h0M272.80 342.59h0M275.70 343.57h0M278.60 344.43h0M281.50 344.97h0M284.40 345.07h0M287.30 345.09h0M290.20 345.60h0M293.10 346.71h0M296.00 347.78h0M298.90 348.30h0M301.80 348.34h0M304.70 348.20h0M307.60 347.98h0M310.50 347.70h0M313.40 347.42h0" fill="none" stroke="#1a7d1a" stroke-width="2.24" stroke-linecap="round" opacity="1.00"/><path d="M197.40 355.70h0M200.30 355.66h0M203.20 355.62h0M206.10 355.57h0M209.00 355.52h0M211.90 355.48h0M214.80 355.43h0M217.70 355.38h0M220.60 355.34h0M223.50 355.30h0M226.40 355.25h0M229.30 355.21h0M232.20 355.18h0M235.10 355.14h0M238.00 355.11h0M240.90 355.08h0M243.80 355.05h0M246.70 355.03h0M249.60 355.01h0M252.50 355.00h0M255.40 355.00h0M258.30 355.00h0M261.20 355.02h0M264.10 355.04h0M267.00 355.06h0M269.90 355.10h0M272.80 355.13h0M275.70 355.17h0M278.60 355.22h0M281.50 355.26h0M284.40 355.31h0M287.30 355.36h0M290.20 355.42h0M293.10 355.47h0M296.00 355.53h0M298.90 355.59h0M301.80 355.65h0M304.70 355.71h0M307.60 355.76h0M310.50 355.82h0M313.40 355.88h0" fill="none" stroke="#ff8a10" stroke-width="3.20" stroke-linecap="round" opacity="1.00"/><path d="M197.40 354.20h0M200.30 354.16h0M203.20 354.12h0M206.10 354.07h0M209.00 354.02h0M211.90 353.98h0M214.80 353.93h0M217.70 353.88h0M220.60 353.84h0M223.50 353.80h0M226.40 353.75h0M229.30 353.71h0M232.20 353.68h0M235.10 353.64h0M238.00 353.61h0M240.90 353.58h0M243.80 353.55h0M246.70 353.53h0M249.60 353.51h0M252.50 353.50h0M255.40 353.50h0M258.30 353.50h0M261.20 353.52h0M264.10 353.54h0M267.00 353.56h0M269.90 353.60h0M272.80 353.63h0M275.70 353.67h0M278.60 353.72h0M281.50 353.76h0M284.40 353.81h0M287.30 353.86h0M290.20 353.92h0M293.10 353.97h0M296.00 354.03h0M298.90 354.09h0M301.80 354.15h0M304.70 354.21h0M307.60 354.26h0M310.50 354.32h0M313.40 354.38h0" fill="none" stroke="#1a7d1a" stroke-width="2.24" stroke-linecap="round" opacity="1.00"/><path d="M197.40 361.40h0M200.30 361.49h0M203.20 361.59h0M206.10 361.68h0M209.00 361.78h0M211.90 361.87h0M214.80 361.94h0M217.70 362.01h0M220.60 362.06h0M223.50 362.09h0M226.40 362.10h0M229.30 362.07h0M232.20 362.00h0M235.10 361.91h0M238.00 361.81h0M240.90 361.70h0M243.80 361.61h0M246.70 361.53h0M249.60 361.47h0M252.50 361.43h0M255.40 361.41h0M258.30 361.40h0M261.20 361.41h0M264.10 361.42h0M267.00 361.44h0M269.90 361.46h0M272.80 361.49h0M275.70 361.52h0M278.60 361.55h0M281.50 361.58h0M284.40 361.61h0M287.30 361.65h0M290.20 361.69h0M293.10 361.72h0M296.00 361.76h0M298.90 361.80h0M301.80 361.84h0M304.70 361.87h0M307.60 361.91h0M310.50 361.95h0M313.40 361.98h0" fill="none" stroke="#ff8a10" stroke-width="3.20" stroke-linecap="round" opacity="1.00"/><path d="M197.40 359.90h0M200.30 359.99h0M203.20 360.09h0M206.10 360.18h0M209.00 360.28h0M211.90 360.37h0M214.80 360.44h0M217.70 360.51h0M220.60 360.56h0M223.50 360.59h0M226.40 360.60h0M229.30 360.57h0M232.20 360.50h0M235.10 360.41h0M238.00 360.31h0M240.90 360.20h0M243.80 360.11h0M246.70 360.03h0M249.60 359.97h0M252.50 359.93h0M255.40 359.91h0M258.30 359.90h0M261.20 359.91h0M264.10 359.92h0M267.00 359.94h0M269.90 359.96h0M272.80 359.99h0M275.70 360.02h0M278.60 360.05h0M281.50 360.08h0M284.40 360.11h0M287.30 360.15h0M290.20 360.19h0M293.10 360.22h0M296.00 360.26h0M298.90 360.30h0M301.80 360.34h0M304.70 360.37h0M307.60 360.41h0M310.50 360.45h0M313.40 360.48h0" fill="none" stroke="#1a7d1a" stroke-width="2.24" stroke-linecap="round" opacity="1.00"/><path d="M197.40 436.80h0M200.30 436.58h0M203.20 435.94h0M206.10 434.96h0M209.00 433.73h0M211.90 432.41h0M214.80 431.13h0M217.70 430.03h0M220.60 429.24h0M223.50 428.84h0M226.40 428.70h0M229.30 428.09h0M232.20 426.98h0M235.10 425.49h0M238.00 423.79h0M240.90 422.07h0M243.80 420.50h0M246.70 419.27h0M249.60 418.51h0M252.50 418.30h0M255.40 418.59h0M258.30 419.28h0M261.20 420.34h0M264.10 421.67h0M267.00 423.16h0M269.90 424.67h0M272.80 426.10h0M275.70 427.31h0M278.60 428.20h0M281.50 428.70h0M284.40 428.83h0M287.30 429.18h0M290.20 429.91h0M293.10 430.98h0M296.00 432.27h0M298.90 433.70h0M301.80 435.13h0M304.70 436.46h0M307.60 437.56h0M310.50 438.34h0M313.40 438.75h0" fill="none" stroke="#ff8a10" stroke-width="2.70" stroke-linecap="round" opacity="1.00"/><path d="M197.40 435.30h0M200.30 435.08h0M203.20 434.44h0M206.10 433.46h0M209.00 432.23h0M211.90 430.91h0M214.80 429.63h0M217.70 428.53h0M220.60 427.74h0M223.50 427.34h0M226.40 427.20h0M229.30 426.59h0M232.20 425.48h0M235.10 423.99h0M238.00 422.29h0M240.90 420.57h0M243.80 419.00h0M246.70 417.77h0M249.60 417.01h0M252.50 416.80h0M255.40 417.09h0M258.30 417.78h0M261.20 418.84h0M264.10 420.17h0M267.00 421.66h0M269.90 423.17h0M272.80 424.60h0M275.70 425.81h0M278.60 426.70h0M281.50 427.20h0M284.40 427.33h0M287.30 427.68h0M290.20 428.41h0M293.10 429.48h0M296.00 430.77h0M298.90 432.20h0M301.80 433.63h0M304.70 434.96h0M307.60 436.06h0M310.50 436.84h0M313.40 437.25h0" fill="none" stroke="#1a7d1a" stroke-width="1.89" stroke-linecap="round" opacity="1.00"/><path d="M197.40 440.80h0M200.30 440.58h0M203.20 439.94h0M206.10 438.96h0M209.00 437.73h0M211.90 436.41h0M214.80 435.13h0M217.70 434.03h0M220.60 433.24h0M223.50 432.84h0M226.40 432.70h0M229.30 432.09h0M232.20 430.98h0M235.10 429.49h0M238.00 427.79h0M240.90 426.07h0M243.80 424.50h0M246.70 423.27h0M249.60 422.51h0M252.50 422.30h0M255.40 422.59h0M258.30 423.28h0M261.20 424.34h0M264.10 425.67h0M267.00 427.16h0M269.90 428.67h0M272.80 430.10h0M275.70 431.31h0M278.60 432.20h0M281.50 432.70h0M284.40 432.83h0M287.30 433.18h0M290.20 433.91h0M293.10 434.98h0M296.00 436.27h0M298.90 437.70h0M301.80 439.13h0M304.70 440.46h0M307.60 441.56h0M310.50 442.34h0M313.40 442.75h0" fill="none" stroke="#ff8a10" stroke-width="2.70" stroke-linecap="round" opacity="1.00"/><path d="M197.40 439.30h0M200.30 439.08h0M203.20 438.44h0M206.10 437.46h0M209.00 436.23h0M211.90 434.91h0M214.80 433.63h0M217.70 432.53h0M220.60 431.74h0M223.50 431.34h0M226.40 431.20h0M229.30 430.59h0M232.20 429.48h0M235.10 427.99h0M238.00 426.29h0M240.90 424.57h0M243.80 423.00h0M246.70 421.77h0M249.60 421.01h0M252.50 420.80h0M255.40 421.09h0M258.30 421.78h0M261.20 422.84h0M264.10 424.17h0M267.00 425.66h0M269.90 427.17h0M272.80 428.60h0M275.70 429.81h0M278.60 430.70h0M281.50 431.20h0M284.40 431.33h0M287.30 431.68h0M290.20 432.41h0M293.10 433.48h0M296.00 434.77h0M298.90 436.20h0M301.80 437.63h0M304.70 438.96h0M307.60 440.06h0M310.50 440.84h0M313.40 441.25h0" fill="none" stroke="#1a7d1a" stroke-width="1.89" stroke-linecap="round" opacity="1.00"/><path d="M197.40 444.80h0M200.30 444.58h0M203.20 443.94h0M206.10 442.96h0M209.00 441.73h0M211.90 440.41h0M214.80 439.13h0M217.70 438.03h0M220.60 437.24h0M223.50 436.84h0M226.40 436.70h0M229.30 436.09h0M232.20 434.98h0M235.10 433.49h0M238.00 431.79h0M240.90 430.07h0M243.80 428.50h0M246.70 427.27h0M249.60 426.51h0M252.50 426.30h0M255.40 426.59h0M258.30 427.28h0M261.20 428.34h0M264.10 429.67h0M267.00 431.16h0M269.90 432.67h0M272.80 434.10h0M275.70 435.31h0M278.60 436.20h0M281.50 436.70h0M284.40 436.83h0M287.30 437.18h0M290.20 437.91h0M293.10 438.98h0M296.00 440.27h0M298.90 441.70h0M301.80 443.13h0M304.70 444.46h0M307.60 445.56h0M310.50 446.34h0M313.40 446.75h0" fill="none" stroke="#ff8a10" stroke-width="2.70" stroke-linecap="round" opacity="1.00"/><path d="M197.40 443.30h0M200.30 443.08h0M203.20 442.44h0M206.10 441.46h0M209.00 440.23h0M211.90 438.91h0M214.80 437.63h0M217.70 436.53h0M220.60 435.74h0M223.50 435.34h0M226.40 435.20h0M229.30 434.59h0M232.20 433.48h0M235.10 431.99h0M238.00 430.29h0M240.90 428.57h0M243.80 427.00h0M246.70 425.77h0M249.60 425.01h0M252.50 424.80h0M255.40 425.09h0M258.30 425.78h0M261.20 426.84h0M264.10 428.17h0M267.00 429.66h0M269.90 431.17h0M272.80 432.60h0M275.70 433.81h0M278.60 434.70h0M281.50 435.20h0M284.40 435.33h0M287.30 435.68h0M290.20 436.41h0M293.10 437.48h0M296.00 438.77h0M298.90 440.20h0M301.80 441.63h0M304.70 442.96h0M307.60 444.06h0M310.50 444.84h0M313.40 445.25h0" fill="none" stroke="#1a7d1a" stroke-width="1.89" stroke-linecap="round" opacity="1.00"/><path d="M197.40 446.80h0M200.30 446.97h0M203.20 447.44h0M206.10 448.18h0M209.00 449.10h0M211.90 450.09h0M214.80 451.05h0M217.70 451.88h0M220.60 452.47h0M223.50 452.77h0M226.40 452.67h0M229.30 451.85h0M232.20 450.37h0M235.10 448.39h0M238.00 446.12h0M240.90 443.82h0M243.80 441.74h0M246.70 440.10h0M249.60 439.09h0M252.50 438.80h0M255.40 439.13h0M258.30 439.92h0M261.20 441.13h0M264.10 442.65h0M267.00 444.35h0M269.90 446.08h0M272.80 447.71h0M275.70 449.10h0M278.60 450.12h0M281.50 450.69h0M284.40 450.82h0M287.30 451.03h0M290.20 451.47h0M293.10 452.11h0M296.00 452.88h0M298.90 453.74h0M301.80 454.60h0M304.70 455.39h0M307.60 456.05h0M310.50 456.53h0M313.40 456.77h0" fill="none" stroke="#ff8a10" stroke-width="2.90" stroke-linecap="round" opacity="1.00"/><path d="M197.40 445.30h0M200.30 445.47h0M203.20 445.94h0M206.10 446.68h0M209.00 447.60h0M211.90 448.59h0M214.80 449.55h0M217.70 450.38h0M220.60 450.97h0M223.50 451.27h0M226.40 451.17h0M229.30 450.35h0M232.20 448.87h0M235.10 446.89h0M238.00 444.62h0M240.90 442.32h0M243.80 440.24h0M246.70 438.60h0M249.60 437.59h0M252.50 437.30h0M255.40 437.63h0M258.30 438.42h0M261.20 439.63h0M264.10 441.15h0M267.00 442.85h0M269.90 444.58h0M272.80 446.21h0M275.70 447.60h0M278.60 448.62h0M281.50 449.19h0M284.40 449.32h0M287.30 449.53h0M290.20 449.97h0M293.10 450.61h0M296.00 451.38h0M298.90 452.24h0M301.80 453.10h0M304.70 453.89h0M307.60 454.55h0M310.50 455.03h0M313.40 455.27h0" fill="none" stroke="#1a7d1a" stroke-width="2.03" stroke-linecap="round" opacity="1.00"/><path d="M197.40 452.80h0M200.30 452.97h0M203.20 453.44h0M206.10 454.18h0M209.00 455.10h0M211.90 456.09h0M214.80 457.05h0M217.70 457.88h0M220.60 458.47h0M223.50 458.77h0M226.40 458.70h0M229.30 458.10h0M232.20 457.01h0M235.10 455.55h0M238.00 453.89h0M240.90 452.19h0M243.80 450.66h0M246.70 449.46h0M249.60 448.71h0M252.50 448.50h0M255.40 448.73h0M258.30 449.28h0M261.20 450.11h0M264.10 451.16h0M267.00 452.34h0M269.90 453.54h0M272.80 454.66h0M275.70 455.62h0M278.60 456.33h0M281.50 456.72h0M284.40 456.81h0M287.30 456.95h0M290.20 457.25h0M293.10 457.67h0M296.00 458.19h0M298.90 458.76h0M301.80 459.33h0M304.70 459.86h0M307.60 460.30h0M310.50 460.62h0M313.40 460.78h0" fill="none" stroke="#ff8a10" stroke-width="2.70" stroke-linecap="round" opacity="1.00"/><path d="M197.40 451.30h0M200.30 451.47h0M203.20 451.94h0M206.10 452.68h0M209.00 453.60h0M211.90 454.59h0M214.80 455.55h0M217.70 456.38h0M220.60 456.97h0M223.50 457.27h0M226.40 457.20h0M229.30 456.60h0M232.20 455.51h0M235.10 454.05h0M238.00 452.39h0M240.90 450.69h0M243.80 449.16h0M246.70 447.96h0M249.60 447.21h0M252.50 447.00h0M255.40 447.23h0M258.30 447.78h0M261.20 448.61h0M264.10 449.66h0M267.00 450.84h0M269.90 452.04h0M272.80 453.16h0M275.70 454.12h0M278.60 454.83h0M281.50 455.22h0M284.40 455.31h0M287.30 455.45h0M290.20 455.75h0M293.10 456.17h0M296.00 456.69h0M298.90 457.26h0M301.80 457.83h0M304.70 458.36h0M307.60 458.80h0M310.50 459.12h0M313.40 459.28h0" fill="none" stroke="#1a7d1a" stroke-width="1.89" stroke-linecap="round" opacity="1.00"/><path d="M197.40 460.80h0M200.30 460.97h0M203.20 461.44h0M206.10 462.18h0M209.00 463.10h0M211.90 464.09h0M214.80 465.05h0M217.70 465.88h0M220.60 466.47h0M223.50 466.77h0M226.40 466.75h0M229.30 466.42h0M232.20 465.83h0M235.10 465.03h0M238.00 464.13h0M240.90 463.21h0M243.80 462.37h0M246.70 461.72h0M249.60 461.31h0M252.50 461.20h0M255.40 461.30h0M258.30 461.54h0M261.20 461.90h0M264.10 462.36h0M267.00 462.86h0M269.90 463.39h0M272.80 463.87h0M275.70 464.29h0M278.60 464.60h0M281.50 464.77h0M284.40 464.81h0M287.30 464.88h0M290.20 465.02h0M293.10 465.24h0M296.00 465.49h0M298.90 465.78h0M301.80 466.07h0M304.70 466.33h0M307.60 466.55h0M310.50 466.71h0M313.40 466.79h0" fill="none" stroke="#ff8a10" stroke-width="2.90" stroke-linecap="round" opacity="1.00"/><path d="M197.40 459.30h0M200.30 459.47h0M203.20 459.94h0M206.10 460.68h0M209.00 461.60h0M211.90 462.59h0M214.80 463.55h0M217.70 464.38h0M220.60 464.97h0M223.50 465.27h0M226.40 465.25h0M229.30 464.92h0M232.20 464.33h0M235.10 463.53h0M238.00 462.63h0M240.90 461.71h0M243.80 460.87h0M246.70 460.22h0M249.60 459.81h0M252.50 459.70h0M255.40 459.80h0M258.30 460.04h0M261.20 460.40h0M264.10 460.86h0M267.00 461.36h0M269.90 461.89h0M272.80 462.37h0M275.70 462.79h0M278.60 463.10h0M281.50 463.27h0M284.40 463.31h0M287.30 463.38h0M290.20 463.52h0M293.10 463.74h0M296.00 463.99h0M298.90 464.28h0M301.80 464.57h0M304.70 464.83h0M307.60 465.05h0M310.50 465.21h0M313.40 465.29h0" fill="none" stroke="#1a7d1a" stroke-width="2.03" stroke-linecap="round" opacity="1.00"/><path d="M197.40 468.80h0M200.30 468.91h0M203.20 469.23h0M206.10 469.72h0M209.00 470.33h0M211.90 471.00h0M214.80 471.64h0M217.70 472.19h0M220.60 472.58h0M223.50 472.78h0M226.40 472.78h0M229.30 472.66h0M232.20 472.45h0M235.10 472.17h0M238.00 471.85h0M240.90 471.52h0M243.80 471.22h0M246.70 470.99h0M249.60 470.84h0M252.50 470.80h0M255.40 470.85h0M258.30 470.99h0M261.20 471.19h0M264.10 471.44h0M267.00 471.72h0M269.90 472.01h0M272.80 472.29h0M275.70 472.52h0M278.60 472.69h0M281.50 472.78h0M284.40 472.80h0M287.30 472.80h0M290.20 472.80h0M293.10 472.80h0M296.00 472.80h0M298.90 472.80h0M301.80 472.80h0M304.70 472.80h0M307.60 472.80h0M310.50 472.80h0M313.40 472.80h0" fill="none" stroke="#ff8a10" stroke-width="2.90" stroke-linecap="round" opacity="1.00"/><path d="M197.40 467.30h0M200.30 467.41h0M203.20 467.73h0M206.10 468.22h0M209.00 468.83h0M211.90 469.50h0M214.80 470.14h0M217.70 470.69h0M220.60 471.08h0M223.50 471.28h0M226.40 471.28h0M229.30 471.16h0M232.20 470.95h0M235.10 470.67h0M238.00 470.35h0M240.90 470.02h0M243.80 469.72h0M246.70 469.49h0M249.60 469.34h0M252.50 469.30h0M255.40 469.35h0M258.30 469.49h0M261.20 469.69h0M264.10 469.94h0M267.00 470.22h0M269.90 470.51h0M272.80 470.79h0M275.70 471.02h0M278.60 471.19h0M281.50 471.28h0M284.40 471.30h0M287.30 471.30h0M290.20 471.30h0M293.10 471.30h0M296.00 471.30h0M298.90 471.30h0M301.80 471.30h0M304.70 471.30h0M307.60 471.30h0M310.50 471.30h0M313.40 471.30h0" fill="none" stroke="#1a7d1a" stroke-width="2.03" stroke-linecap="round" opacity="1.00"/><path d="M197.40 476.80h0M200.30 476.83h0M203.20 476.91h0M206.10 477.03h0M209.00 477.18h0M211.90 477.35h0M214.80 477.51h0M217.70 477.65h0M220.60 477.75h0M223.50 477.80h0M226.40 477.80h0M229.30 477.77h0M232.20 477.71h0M235.10 477.64h0M238.00 477.56h0M240.90 477.48h0M243.80 477.40h0M246.70 477.35h0M249.60 477.31h0M252.50 477.30h0M255.40 477.31h0M258.30 477.35h0M261.20 477.40h0M264.10 477.46h0M267.00 477.53h0M269.90 477.60h0M272.80 477.67h0M275.70 477.73h0M278.60 477.77h0M281.50 477.80h0M284.40 477.80h0M287.30 477.80h0M290.20 477.80h0M293.10 477.80h0M296.00 477.80h0M298.90 477.80h0M301.80 477.80h0M304.70 477.80h0M307.60 477.80h0M310.50 477.80h0M313.40 477.80h0" fill="none" stroke="#ff8a10" stroke-width="2.80" stroke-linecap="round" opacity="1.00"/><path d="M197.40 475.30h0M200.30 475.33h0M203.20 475.41h0M206.10 475.53h0M209.00 475.68h0M211.90 475.85h0M214.80 476.01h0M217.70 476.15h0M220.60 476.25h0M223.50 476.30h0M226.40 476.30h0M229.30 476.27h0M232.20 476.21h0M235.10 476.14h0M238.00 476.06h0M240.90 475.98h0M243.80 475.90h0M246.70 475.85h0M249.60 475.81h0M252.50 475.80h0M255.40 475.81h0M258.30 475.85h0M261.20 475.90h0M264.10 475.96h0M267.00 476.03h0M269.90 476.10h0M272.80 476.17h0M275.70 476.23h0M278.60 476.27h0M281.50 476.30h0M284.40 476.30h0M287.30 476.30h0M290.20 476.30h0M293.10 476.30h0M296.00 476.30h0M298.90 476.30h0M301.80 476.30h0M304.70 476.30h0M307.60 476.30h0M310.50 476.30h0M313.40 476.30h0" fill="none" stroke="#1a7d1a" stroke-width="1.96" stroke-linecap="round" opacity="1.00"/><path d="M197.40 428.80h0M200.30 428.52h0M203.20 427.73h0M206.10 426.50h0M209.00 424.97h0M211.90 423.31h0M214.80 421.71h0M217.70 420.34h0M220.60 419.35h0M223.50 418.85h0M226.40 418.85h0M229.30 419.14h0M232.20 419.67h0M235.10 420.38h0M238.00 421.19h0M240.90 422.01h0M243.80 422.75h0M246.70 423.34h0M249.60 423.70h0M252.50 423.81h0M255.40 423.99h0M258.30 424.46h0M261.20 425.16h0M264.10 426.05h0M267.00 427.04h0M269.90 428.05h0M272.80 429.00h0M275.70 429.81h0M278.60 430.40h0M281.50 430.74h0M284.40 430.81h0M287.30 430.95h0M290.20 431.25h0M293.10 431.67h0M296.00 432.19h0M298.90 432.76h0M301.80 433.33h0M304.70 433.86h0M307.60 434.30h0M310.50 434.62h0M313.40 434.78h0" fill="none" stroke="#ff8a10" stroke-width="2.40" stroke-linecap="round" opacity="1.00"/><path d="M197.40 427.30h0M200.30 427.02h0M203.20 426.23h0M206.10 425.00h0M209.00 423.47h0M211.90 421.81h0M214.80 420.21h0M217.70 418.84h0M220.60 417.85h0M223.50 417.35h0M226.40 417.35h0M229.30 417.64h0M232.20 418.17h0M235.10 418.88h0M238.00 419.69h0M240.90 420.51h0M243.80 421.25h0M246.70 421.84h0M249.60 422.20h0M252.50 422.31h0M255.40 422.49h0M258.30 422.96h0M261.20 423.66h0M264.10 424.55h0M267.00 425.54h0M269.90 426.55h0M272.80 427.50h0M275.70 428.31h0M278.60 428.90h0M281.50 429.24h0M284.40 429.31h0M287.30 429.45h0M290.20 429.75h0M293.10 430.17h0M296.00 430.69h0M298.90 431.26h0M301.80 431.83h0M304.70 432.36h0M307.60 432.80h0M310.50 433.12h0M313.40 433.28h0" fill="none" stroke="#1a7d1a" stroke-width="1.68" stroke-linecap="round" opacity="1.00"/><path d="M197.40 309.90h0M200.30 306.74h0M203.20 303.58h0M206.10 300.38h0M209.00 297.10h0M211.90 293.67h0M214.80 290.13h0M217.70 286.52h0M220.60 282.90h0M223.50 279.27h0M226.40 275.60h0M229.30 271.92h0M232.20 268.26h0M235.10 264.66h0M238.00 261.06h0M240.90 257.52h0M243.80 254.16h0M246.70 250.92h0M249.60 247.85h0M252.50 246.39h0M255.40 247.37h0M258.30 250.09h0M261.20 254.43h0M264.10 260.86h0M267.00 265.44h0M269.90 269.64h0M272.80 274.19h0M275.70 278.83h0M278.60 283.22h0M281.50 287.25h0M284.40 291.19h0M287.30 295.34h0M290.20 299.58h0M293.10 303.47h0M296.00 307.15h0M298.90 310.49h0M301.80 313.20h0M304.70 315.51h0M307.60 318.02h0M310.50 320.54h0M313.40 322.68h0" fill="none" stroke="#ff8a10" stroke-width="2.00" stroke-linecap="round" opacity="1.00"/><path d="M197.40 309.00h0M200.30 305.84h0M203.20 302.68h0M206.10 299.48h0M209.00 296.20h0M211.90 292.77h0M214.80 289.23h0M217.70 285.62h0M220.60 282.00h0M223.50 278.37h0M226.40 274.70h0M229.30 271.02h0M232.20 267.36h0M235.10 263.76h0M238.00 260.16h0M240.90 256.62h0M243.80 253.26h0M246.70 250.02h0M249.60 246.95h0M252.50 245.49h0M255.40 246.47h0M258.30 249.19h0M261.20 253.53h0M264.10 259.96h0M267.00 264.54h0M269.90 268.74h0M272.80 273.29h0M275.70 277.93h0M278.60 282.32h0M281.50 286.35h0M284.40 290.29h0M287.30 294.44h0M290.20 298.68h0M293.10 302.57h0M296.00 306.25h0M298.90 309.59h0M301.80 312.30h0M304.70 314.61h0M307.60 317.12h0M310.50 319.64h0M313.40 321.78h0" fill="none" stroke="#1a7d1a" stroke-width="1.20" stroke-linecap="round" opacity="1.00"/><path d="M290.20 253.84h0M293.10 256.35h0M296.00 258.84h0M298.90 261.28h0M301.80 263.60h0M304.70 266.03h0M307.60 268.83h0M310.50 271.88h0M313.40 274.91h0" fill="none" stroke="#ff8a10" stroke-width="2.00" stroke-linecap="round" opacity="1.00"/><path d="M290.20 252.94h0M293.10 255.45h0M296.00 257.94h0M298.90 260.38h0M301.80 262.70h0M304.70 265.13h0M307.60 267.93h0M310.50 270.98h0M313.40 274.01h0" fill="none" stroke="#1a7d1a" stroke-width="1.20" stroke-linecap="round" opacity="1.00"/><path d="M252.50 261.49h0M255.40 253.93h0" fill="none" stroke="#ff8a10" stroke-width="2.00" stroke-linecap="round" opacity="1.00"/><path d="M252.50 260.59h0M255.40 253.03h0" fill="none" stroke="#1a7d1a" stroke-width="1.20" stroke-linecap="round" opacity="1.00"/><path d="M197.40 312.40h0M200.30 314.50h0M203.20 316.63h0M206.10 319.03h0M209.00 321.88h0M211.90 325.15h0M214.80 328.76h0M217.70 331.41h0M220.60 333.54h0M223.50 334.05h0M226.40 332.40h0M229.30 328.48h0M232.20 322.00h0M235.10 313.89h0M238.00 305.83h0M240.90 298.43h0M243.80 289.89h0M246.70 281.47h0M249.60 275.26h0M252.50 272.85h0M255.40 277.40h0M258.30 286.71h0M261.20 295.84h0M264.10 307.35h0M267.00 318.41h0M269.90 328.87h0M272.80 341.86h0M275.70 355.61h0M278.60 368.58h0M281.50 380.20h0M284.40 393.09h0M287.30 401.88h0M290.20 407.16h0M293.10 411.46h0M296.00 415.19h0M298.90 417.38h0M301.80 420.08h0M304.70 422.98h0M307.60 425.12h0M310.50 427.45h0M313.40 429.67h0" fill="none" stroke="#ff8a10" stroke-width="2.00" stroke-linecap="round" opacity="1.00"/><path d="M197.40 311.50h0M200.30 313.60h0M203.20 315.73h0M206.10 318.13h0M209.00 320.98h0M211.90 324.25h0M214.80 327.86h0M217.70 330.51h0M220.60 332.64h0M223.50 333.15h0M226.40 331.50h0M229.30 327.58h0M232.20 321.10h0M235.10 312.99h0M238.00 304.93h0M240.90 297.53h0M243.80 288.99h0M246.70 280.57h0M249.60 274.36h0M252.50 271.95h0M255.40 276.50h0M258.30 285.81h0M261.20 294.94h0M264.10 306.45h0M267.00 317.51h0M269.90 327.97h0M272.80 340.96h0M275.70 354.71h0M278.60 367.68h0M281.50 379.30h0M284.40 392.19h0M287.30 400.98h0M290.20 406.26h0M293.10 410.56h0M296.00 414.29h0M298.90 416.48h0M301.80 419.18h0M304.70 422.08h0M307.60 424.22h0M310.50 426.55h0M313.40 428.77h0" fill="none" stroke="#1a7d1a" stroke-width="1.20" stroke-linecap="round" opacity="1.00"/><path d="M278.60 365.05h0M281.50 359.92h0M284.40 355.25h0M287.30 351.28h0M290.20 347.58h0M293.10 342.84h0M296.00 339.55h0M298.90 335.99h0M301.80 331.54h0M304.70 326.48h0M307.60 321.73h0M310.50 318.04h0M313.40 314.90h0" fill="none" stroke="#ff8a10" stroke-width="2.00" stroke-linecap="round" opacity="1.00"/><path d="M278.60 364.15h0M281.50 359.02h0M284.40 354.35h0M287.30 350.38h0M290.20 346.68h0M293.10 341.94h0M296.00 338.65h0M298.90 335.09h0M301.80 330.64h0M304.70 325.58h0M307.60 320.83h0M310.50 317.14h0M313.40 314.00h0" fill="none" stroke="#1a7d1a" stroke-width="1.20" stroke-linecap="round" opacity="1.00"/><path d="M197.40 404.40h0M200.30 401.31h0M203.20 397.96h0M206.10 394.34h0M209.00 390.66h0M211.90 387.02h0M214.80 383.51h0M217.70 380.08h0M220.60 376.73h0M223.50 373.54h0M226.40 370.62h0M229.30 367.93h0M232.20 365.55h0M235.10 363.58h0M238.00 362.12h0M240.90 361.09h0M243.80 360.30h0M246.70 359.58h0M249.60 359.01h0M252.50 358.79h0M255.40 358.89h0M258.30 359.18h0M261.20 359.59h0M264.10 360.12h0M267.00 360.82h0M269.90 361.82h0M272.80 363.10h0M275.70 364.92h0" fill="none" stroke="#ff8a10" stroke-width="2.00" stroke-linecap="round" opacity="1.00"/><path d="M197.40 403.50h0M200.30 400.41h0M203.20 397.06h0M206.10 393.44h0M209.00 389.76h0M211.90 386.12h0M214.80 382.61h0M217.70 379.18h0M220.60 375.83h0M223.50 372.64h0M226.40 369.72h0M229.30 367.03h0M232.20 364.65h0M235.10 362.68h0M238.00 361.22h0M240.90 360.19h0M243.80 359.40h0M246.70 358.68h0M249.60 358.11h0M252.50 357.89h0M255.40 357.99h0M258.30 358.28h0M261.20 358.69h0M264.10 359.22h0M267.00 359.92h0M269.90 360.92h0M272.80 362.20h0M275.70 364.02h0" fill="none" stroke="#1a7d1a" stroke-width="1.20" stroke-linecap="round" opacity="1.00"/><path d="M197.40 418.40h0M200.30 417.60h0M203.20 412.82h0M206.10 406.76h0M209.00 401.92h0M211.90 397.90h0M214.80 393.85h0M217.70 388.95h0M220.60 383.84h0M223.50 380.21h0M226.40 377.60h0M229.30 375.55h0M232.20 374.03h0M235.10 373.36h0M238.00 373.33h0M240.90 373.27h0M243.80 373.15h0M246.70 373.07h0M249.60 373.02h0M252.50 373.00h0M255.40 372.93h0M258.30 372.93h0M261.20 373.27h0M264.10 373.83h0M267.00 374.51h0M269.90 375.32h0M272.80 376.37h0M275.70 377.88h0M278.60 380.29h0M281.50 382.93h0M284.40 384.89h0M287.30 386.35h0M290.20 387.67h0M293.10 389.02h0M296.00 390.58h0M298.90 392.62h0M301.80 395.05h0M304.70 397.55h0M307.60 399.70h0M310.50 401.50h0M313.40 402.41h0" fill="none" stroke="#ff8a10" stroke-width="2.00" stroke-linecap="round" opacity="1.00"/><path d="M197.40 417.50h0M200.30 416.70h0M203.20 411.92h0M206.10 405.86h0M209.00 401.02h0M211.90 397.00h0M214.80 392.95h0M217.70 388.05h0M220.60 382.94h0M223.50 379.31h0M226.40 376.70h0M229.30 374.65h0M232.20 373.13h0M235.10 372.46h0M238.00 372.43h0M240.90 372.37h0M243.80 372.25h0M246.70 372.17h0M249.60 372.12h0M252.50 372.10h0M255.40 372.03h0M258.30 372.03h0M261.20 372.37h0M264.10 372.93h0M267.00 373.61h0M269.90 374.42h0M272.80 375.47h0M275.70 376.98h0M278.60 379.39h0M281.50 382.03h0M284.40 383.99h0M287.30 385.45h0M290.20 386.77h0M293.10 388.12h0M296.00 389.68h0M298.90 391.72h0M301.80 394.15h0M304.70 396.65h0M307.60 398.80h0M310.50 400.60h0M313.40 401.51h0" fill="none" stroke="#1a7d1a" stroke-width="1.20" stroke-linecap="round" opacity="1.00"/><path d="M267.00 374.61h0M269.90 375.88h0M272.80 377.18h0M275.70 378.55h0M278.60 380.10h0M281.50 381.96h0M284.40 384.08h0M287.30 386.25h0M290.20 388.42h0M293.10 390.64h0M296.00 392.88h0M298.90 395.09h0M301.80 397.39h0M304.70 399.47h0M307.60 401.09h0M310.50 402.47h0M313.40 403.76h0" fill="none" stroke="#ff8a10" stroke-width="2.00" stroke-linecap="round" opacity="1.00"/><path d="M267.00 373.71h0M269.90 374.98h0M272.80 376.28h0M275.70 377.65h0M278.60 379.20h0M281.50 381.06h0M284.40 383.18h0M287.30 385.35h0M290.20 387.52h0M293.10 389.74h0M296.00 391.98h0M298.90 394.19h0M301.80 396.49h0M304.70 398.57h0M307.60 400.19h0M310.50 401.57h0M313.40 402.86h0" fill="none" stroke="#1a7d1a" stroke-width="1.20" stroke-linecap="round" opacity="1.00"/><path d="M197.40 430.40h0M200.30 427.38h0M203.20 427.51h0M206.10 427.88h0M209.00 427.89h0M211.90 426.85h0M214.80 424.32h0M217.70 421.09h0M220.60 418.24h0M223.50 416.15h0M226.40 414.36h0M229.30 412.54h0M232.20 410.52h0M235.10 408.50h0M238.00 406.65h0M240.90 405.18h0M243.80 404.07h0M246.70 403.27h0M249.60 402.80h0M252.50 402.73h0M255.40 403.19h0M258.30 404.10h0M261.20 405.31h0M264.10 406.76h0M267.00 408.50h0M269.90 410.44h0M272.80 412.51h0M275.70 414.85h0M278.60 417.28h0M281.50 419.63h0M284.40 421.52h0M287.30 422.60h0M290.20 422.45h0M293.10 420.37h0M296.00 418.37h0M298.90 415.60h0M301.80 412.60h0M304.70 409.57h0M307.60 406.88h0M310.50 404.89h0M313.40 403.25h0" fill="none" stroke="#ff8a10" stroke-width="2.00" stroke-linecap="round" opacity="1.00"/><path d="M197.40 429.50h0M200.30 426.48h0M203.20 426.61h0M206.10 426.98h0M209.00 426.99h0M211.90 425.95h0M214.80 423.42h0M217.70 420.19h0M220.60 417.34h0M223.50 415.25h0M226.40 413.46h0M229.30 411.64h0M232.20 409.62h0M235.10 407.60h0M238.00 405.75h0M240.90 404.28h0M243.80 403.17h0M246.70 402.37h0M249.60 401.90h0M252.50 401.83h0M255.40 402.29h0M258.30 403.20h0M261.20 404.41h0M264.10 405.86h0M267.00 407.60h0M269.90 409.54h0M272.80 411.61h0M275.70 413.95h0M278.60 416.38h0M281.50 418.73h0M284.40 420.62h0M287.30 421.70h0M290.20 421.55h0M293.10 419.47h0M296.00 417.47h0M298.90 414.70h0M301.80 411.70h0M304.70 408.67h0M307.60 405.98h0M310.50 403.99h0M313.40 402.35h0" fill="none" stroke="#1a7d1a" stroke-width="1.20" stroke-linecap="round" opacity="1.00"/><path d="M197.40 401.40h0M200.30 406.63h0M203.20 411.85h0M206.10 417.04h0M209.00 422.43h0M211.90 425.67h0M214.80 427.11h0" fill="none" stroke="#ff8a10" stroke-width="2.00" stroke-linecap="round" opacity="1.00"/><path d="M197.40 400.50h0M200.30 405.73h0M203.20 410.95h0M206.10 416.14h0M209.00 421.53h0M211.90 424.77h0M214.80 426.21h0" fill="none" stroke="#1a7d1a" stroke-width="1.20" stroke-linecap="round" opacity="1.00"/><path d="M197.40 432.40h0M200.30 433.49h0M203.20 434.36h0M206.10 434.30h0M209.00 432.07h0M211.90 428.39h0M214.80 425.57h0M217.70 424.15h0M220.60 423.30h0M223.50 422.74h0M226.40 422.25h0M229.30 421.72h0M232.20 421.14h0M235.10 420.55h0M238.00 419.98h0M240.90 419.46h0M243.80 419.01h0M246.70 418.66h0M249.60 418.45h0M252.50 418.41h0M255.40 418.52h0M258.30 418.73h0M261.20 419.05h0M264.10 419.47h0M267.00 420.00h0M269.90 420.63h0M272.80 421.42h0M275.70 422.44h0M278.60 423.90h0M281.50 425.84h0M284.40 428.12h0M287.30 430.33h0M290.20 432.57h0M293.10 435.05h0M296.00 437.47h0M298.90 439.54h0M301.80 441.04h0M304.70 442.05h0M307.60 442.83h0M310.50 443.48h0M313.40 444.07h0" fill="none" stroke="#ff8a10" stroke-width="2.00" stroke-linecap="round" opacity="1.00"/><path d="M197.40 431.50h0M200.30 432.59h0M203.20 433.46h0M206.10 433.40h0M209.00 431.17h0M211.90 427.49h0M214.80 424.67h0M217.70 423.25h0M220.60 422.40h0M223.50 421.84h0M226.40 421.35h0M229.30 420.82h0M232.20 420.24h0M235.10 419.65h0M238.00 419.08h0M240.90 418.56h0M243.80 418.11h0M246.70 417.76h0M249.60 417.55h0M252.50 417.51h0M255.40 417.62h0M258.30 417.83h0M261.20 418.15h0M264.10 418.57h0M267.00 419.10h0M269.90 419.73h0M272.80 420.52h0M275.70 421.54h0M278.60 423.00h0M281.50 424.94h0M284.40 427.22h0M287.30 429.43h0M290.20 431.67h0M293.10 434.15h0M296.00 436.57h0M298.90 438.64h0M301.80 440.14h0M304.70 441.15h0M307.60 441.93h0M310.50 442.58h0M313.40 443.17h0" fill="none" stroke="#1a7d1a" stroke-width="1.20" stroke-linecap="round" opacity="1.00"/><path d="M197.40 459.00h0M200.30 459.90h0M203.20 460.80h0M206.10 461.70h0M209.00 462.58h0M211.90 463.46h0M214.80 464.33h0M217.70 465.18h0M220.60 465.99h0M223.50 466.73h0M226.40 467.44h0M229.30 468.13h0" fill="none" stroke="#ff8a10" stroke-width="2.00" stroke-linecap="round" opacity="1.00"/><path d="M197.40 458.10h0M200.30 459.00h0M203.20 459.90h0M206.10 460.80h0M209.00 461.68h0M211.90 462.56h0M214.80 463.43h0M217.70 464.28h0M220.60 465.09h0M223.50 465.83h0M226.40 466.54h0M229.30 467.23h0" fill="none" stroke="#1a7d1a" stroke-width="1.20" stroke-linecap="round" opacity="1.00"/><path d="M314.8 278.4C317.4 276.3 325.3 269.8 330.4 265.9C335.5 262.0 343.1 256.7 345.6 254.9" fill="none" stroke="#ff8a10" stroke-width="1.10" stroke-linejoin="round" stroke-linecap="round" opacity="1.00" /><path d="M314.8 277.0C317.4 274.9 325.3 268.4 330.4 264.5C335.5 260.6 343.1 255.3 345.6 253.5" fill="none" stroke="#1a7d1a" stroke-width="0.61" stroke-linejoin="round" stroke-linecap="round" opacity="1.00" /><path d="M320.4 253.9C322.4 254.2 328.2 255.0 332.4 255.4C336.6 255.8 343.4 256.2 345.6 256.4" fill="none" stroke="#ff8a10" stroke-width="1.10" stroke-linejoin="round" stroke-linecap="round" opacity="1.00" /><path d="M320.4 252.5C322.4 252.8 328.2 253.6 332.4 254.0C336.6 254.4 343.4 254.8 345.6 255.0" fill="none" stroke="#1a7d1a" stroke-width="0.61" stroke-linejoin="round" stroke-linecap="round" opacity="1.00" /><path d="M314.8 303.4C316.2 304.4 320.0 308.3 323.4 309.6C326.8 310.8 331.7 310.8 335.4 310.9C339.1 310.9 343.9 310.1 345.6 309.9" fill="none" stroke="#ff8a10" stroke-width="1.10" stroke-linejoin="round" stroke-linecap="round" opacity="1.00" /><path d="M314.8 302.0C316.2 303.0 320.0 306.9 323.4 308.2C326.8 309.4 331.7 309.4 335.4 309.5C339.1 309.6 343.9 308.7 345.6 308.5" fill="none" stroke="#1a7d1a" stroke-width="0.61" stroke-linejoin="round" stroke-linecap="round" opacity="1.00" /><path d="M314.8 306.4C316.2 307.1 320.0 309.6 323.4 310.9C326.8 312.1 331.7 313.4 335.4 313.9C339.1 314.4 343.9 313.9 345.6 313.9" fill="none" stroke="#ff8a10" stroke-width="1.10" stroke-linejoin="round" stroke-linecap="round" opacity="1.00" /><path d="M314.8 305.0C316.2 305.8 320.0 308.2 323.4 309.5C326.8 310.8 331.7 312.0 335.4 312.5C339.1 313.0 343.9 312.5 345.6 312.5" fill="none" stroke="#1a7d1a" stroke-width="0.61" stroke-linejoin="round" stroke-linecap="round" opacity="1.00" /><path d="M314.8 313.9C317.4 313.7 325.3 313.4 330.4 312.9C335.5 312.4 343.1 311.2 345.6 310.9" fill="none" stroke="#ff8a10" stroke-width="1.10" stroke-linejoin="round" stroke-linecap="round" opacity="1.00" /><path d="M314.8 312.5C317.4 312.3 325.3 312.0 330.4 311.5C335.5 311.0 343.1 309.8 345.6 309.5" fill="none" stroke="#1a7d1a" stroke-width="0.61" stroke-linejoin="round" stroke-linecap="round" opacity="1.00" /><path d="M314.8 320.5C317.4 319.9 325.3 317.9 330.4 316.9C335.5 315.9 343.1 314.8 345.6 314.4" fill="none" stroke="#ff8a10" stroke-width="1.10" stroke-linejoin="round" stroke-linecap="round" opacity="1.00" /><path d="M314.8 319.1C317.4 318.5 325.3 316.5 330.4 315.5C335.5 314.5 343.1 313.4 345.6 313.0" fill="none" stroke="#1a7d1a" stroke-width="0.61" stroke-linejoin="round" stroke-linecap="round" opacity="1.00" /><path d="M314.8 325.4C316.6 326.3 322.0 328.8 325.4 330.9C328.8 333.0 332.0 336.0 335.4 337.9C338.8 339.8 343.9 341.7 345.6 342.5" fill="none" stroke="#ff8a10" stroke-width="2.60" stroke-linejoin="round" stroke-linecap="round" opacity="1.00" /><path d="M314.8 324.0C316.6 324.9 322.0 327.4 325.4 329.5C328.8 331.6 332.0 334.6 335.4 336.5C338.8 338.4 343.9 340.3 345.6 341.1" fill="none" stroke="#1a7d1a" stroke-width="1.43" stroke-linejoin="round" stroke-linecap="round" opacity="1.00" /><path d="M314.8 348.9C317.4 348.4 325.3 346.8 330.4 345.9C335.5 345.0 343.1 344.1 345.6 343.8" fill="none" stroke="#ff8a10" stroke-width="2.60" stroke-linejoin="round" stroke-linecap="round" opacity="1.00" /><path d="M314.8 347.5C317.4 347.0 325.3 345.4 330.4 344.5C335.5 343.6 343.1 342.8 345.6 342.4" fill="none" stroke="#1a7d1a" stroke-width="1.43" stroke-linejoin="round" stroke-linecap="round" opacity="1.00" /><path d="M314.8 356.0C319.9 356.2 340.5 357.0 345.6 357.2" fill="none" stroke="#ff8a10" stroke-width="2.40" stroke-linejoin="round" stroke-linecap="round" opacity="1.00" /><path d="M314.8 354.6C319.9 354.8 340.5 355.6 345.6 355.8" fill="none" stroke="#1a7d1a" stroke-width="1.32" stroke-linejoin="round" stroke-linecap="round" opacity="1.00" /><path d="M314.8 362.1C319.9 362.1 340.5 362.3 345.6 362.4" fill="none" stroke="#ff8a10" stroke-width="2.40" stroke-linejoin="round" stroke-linecap="round" opacity="1.00" /><path d="M314.8 360.7C319.9 360.8 340.5 360.9 345.6 361.0" fill="none" stroke="#1a7d1a" stroke-width="1.32" stroke-linejoin="round" stroke-linecap="round" opacity="1.00" /><path d="M314.8 400.9C317.4 401.1 325.3 401.2 330.4 401.9C335.5 402.6 343.1 404.4 345.6 404.9" fill="none" stroke="#ff8a10" stroke-width="1.10" stroke-linejoin="round" stroke-linecap="round" opacity="1.00" /><path d="M314.8 399.5C317.4 399.7 325.3 399.8 330.4 400.5C335.5 401.2 343.1 403.0 345.6 403.5" fill="none" stroke="#1a7d1a" stroke-width="0.61" stroke-linejoin="round" stroke-linecap="round" opacity="1.00" /><path d="M314.8 403.9C317.4 403.9 325.3 403.4 330.4 403.9C335.5 404.4 343.1 406.4 345.6 406.9" fill="none" stroke="#ff8a10" stroke-width="1.10" stroke-linejoin="round" stroke-linecap="round" opacity="1.00" /><path d="M314.8 402.5C317.4 402.5 325.3 402.0 330.4 402.5C335.5 403.0 343.1 405.0 345.6 405.5" fill="none" stroke="#1a7d1a" stroke-width="0.61" stroke-linejoin="round" stroke-linecap="round" opacity="1.00" /><path d="M314.8 406.9C316.6 406.6 322.0 405.2 325.4 404.9C328.8 404.6 332.0 404.4 335.4 404.9C338.8 405.4 343.9 407.4 345.6 407.9" fill="none" stroke="#ff8a10" stroke-width="1.10" stroke-linejoin="round" stroke-linecap="round" opacity="1.00" /><path d="M314.8 405.5C316.6 405.2 322.0 403.8 325.4 403.5C328.8 403.2 332.0 403.0 335.4 403.5C338.8 404.0 343.9 406.0 345.6 406.5" fill="none" stroke="#1a7d1a" stroke-width="0.61" stroke-linejoin="round" stroke-linecap="round" opacity="1.00" /><path d="M314.8 410.9C316.6 410.2 322.0 407.6 325.4 406.9C328.8 406.2 332.0 406.4 335.4 406.9C338.8 407.4 343.9 409.4 345.6 409.9" fill="none" stroke="#ff8a10" stroke-width="1.10" stroke-linejoin="round" stroke-linecap="round" opacity="1.00" /><path d="M314.8 409.5C316.6 408.8 322.0 406.2 325.4 405.5C328.8 404.8 332.0 405.0 335.4 405.5C338.8 406.0 343.9 408.0 345.6 408.5" fill="none" stroke="#1a7d1a" stroke-width="0.61" stroke-linejoin="round" stroke-linecap="round" opacity="1.00" /><path d="M314.8 421.9C317.4 421.7 325.3 419.9 330.4 420.9C335.5 421.9 343.1 426.7 345.6 427.9" fill="none" stroke="#ff8a10" stroke-width="1.10" stroke-linejoin="round" stroke-linecap="round" opacity="1.00" /><path d="M314.8 420.5C317.4 420.3 325.3 418.5 330.4 419.5C335.5 420.5 343.1 425.3 345.6 426.5" fill="none" stroke="#1a7d1a" stroke-width="0.61" stroke-linejoin="round" stroke-linecap="round" opacity="1.00" /><path d="M314.8 426.9C317.4 426.5 325.3 424.1 330.4 424.4C335.5 424.6 343.1 427.7 345.6 428.4" fill="none" stroke="#ff8a10" stroke-width="1.10" stroke-linejoin="round" stroke-linecap="round" opacity="1.00" /><path d="M314.8 425.5C317.4 425.1 325.3 422.8 330.4 423.0C335.5 423.2 343.1 426.3 345.6 427.0" fill="none" stroke="#1a7d1a" stroke-width="0.61" stroke-linejoin="round" stroke-linecap="round" opacity="1.00" /><path d="M314.8 435.9C317.4 434.9 325.3 431.2 330.4 429.9C335.5 428.6 343.1 428.2 345.6 427.9" fill="none" stroke="#ff8a10" stroke-width="1.10" stroke-linejoin="round" stroke-linecap="round" opacity="1.00" /><path d="M314.8 434.5C317.4 433.5 325.3 429.8 330.4 428.5C335.5 427.2 343.1 426.8 345.6 426.5" fill="none" stroke="#1a7d1a" stroke-width="0.61" stroke-linejoin="round" stroke-linecap="round" opacity="1.00" /><path d="M314.8 430.9C317.4 430.2 325.3 427.4 330.4 426.9C335.5 426.4 343.1 427.7 345.6 427.9" fill="none" stroke="#ff8a10" stroke-width="1.10" stroke-linejoin="round" stroke-linecap="round" opacity="1.00" /><path d="M314.8 429.5C317.4 428.8 325.3 426.0 330.4 425.5C335.5 425.0 343.1 426.3 345.6 426.5" fill="none" stroke="#1a7d1a" stroke-width="0.61" stroke-linejoin="round" stroke-linecap="round" opacity="1.00" /><path d="M314.8 438.9C317.4 439.1 325.3 439.6 330.4 439.9C335.5 440.2 343.1 440.7 345.6 440.9" fill="none" stroke="#ff8a10" stroke-width="2.20" stroke-linejoin="round" stroke-linecap="round" opacity="1.00" /><path d="M314.8 437.5C317.4 437.7 325.3 438.2 330.4 438.5C335.5 438.8 343.1 439.3 345.6 439.5" fill="none" stroke="#1a7d1a" stroke-width="1.21" stroke-linejoin="round" stroke-linecap="round" opacity="1.00" /><path d="M314.8 444.9C317.4 445.1 325.3 445.6 330.4 445.9C335.5 446.2 343.1 446.7 345.6 446.9" fill="none" stroke="#ff8a10" stroke-width="2.20" stroke-linejoin="round" stroke-linecap="round" opacity="1.00" /><path d="M314.8 443.5C317.4 443.7 325.3 444.2 330.4 444.5C335.5 444.8 343.1 445.3 345.6 445.5" fill="none" stroke="#1a7d1a" stroke-width="1.21" stroke-linejoin="round" stroke-linecap="round" opacity="1.00" /><path d="M314.8 450.9C317.4 451.1 325.3 451.6 330.4 451.9C335.5 452.2 343.1 452.7 345.6 452.9" fill="none" stroke="#ff8a10" stroke-width="2.20" stroke-linejoin="round" stroke-linecap="round" opacity="1.00" /><path d="M314.8 449.5C317.4 449.7 325.3 450.2 330.4 450.5C335.5 450.8 343.1 451.3 345.6 451.5" fill="none" stroke="#1a7d1a" stroke-width="1.21" stroke-linejoin="round" stroke-linecap="round" opacity="1.00" /><path d="M314.8 458.9C317.4 458.6 325.3 457.6 330.4 456.9C335.5 456.2 343.1 455.2 345.6 454.9" fill="none" stroke="#ff8a10" stroke-width="2.20" stroke-linejoin="round" stroke-linecap="round" opacity="1.00" /><path d="M314.8 457.5C317.4 457.2 325.3 456.2 330.4 455.5C335.5 454.8 343.1 453.8 345.6 453.5" fill="none" stroke="#1a7d1a" stroke-width="1.21" stroke-linejoin="round" stroke-linecap="round" opacity="1.00" /><path d="M314.8 464.9C317.4 464.6 325.3 463.6 330.4 462.9C335.5 462.2 343.1 461.2 345.6 460.9" fill="none" stroke="#ff8a10" stroke-width="2.20" stroke-linejoin="round" stroke-linecap="round" opacity="1.00" /><path d="M314.8 463.5C317.4 463.2 325.3 462.2 330.4 461.5C335.5 460.8 343.1 459.8 345.6 459.5" fill="none" stroke="#1a7d1a" stroke-width="1.21" stroke-linejoin="round" stroke-linecap="round" opacity="1.00" /><path d="M314.8 469.9C317.4 469.6 325.3 468.9 330.4 468.4C335.5 467.9 343.1 467.1 345.6 466.9" fill="none" stroke="#ff8a10" stroke-width="2.20" stroke-linejoin="round" stroke-linecap="round" opacity="1.00" /><path d="M314.8 468.5C317.4 468.2 325.3 467.5 330.4 467.0C335.5 466.5 343.1 465.8 345.6 465.5" fill="none" stroke="#1a7d1a" stroke-width="1.21" stroke-linejoin="round" stroke-linecap="round" opacity="1.00" /><path d="M314.8 474.9C317.4 474.7 325.3 474.2 330.4 473.9C335.5 473.6 343.1 473.1 345.6 472.9" fill="none" stroke="#ff8a10" stroke-width="2.20" stroke-linejoin="round" stroke-linecap="round" opacity="1.00" /><path d="M314.8 473.5C317.4 473.3 325.3 472.8 330.4 472.5C335.5 472.2 343.1 471.7 345.6 471.5" fill="none" stroke="#1a7d1a" stroke-width="1.21" stroke-linejoin="round" stroke-linecap="round" opacity="1.00" /></g><g clip-path="url(#cf)"><path d="M366.4 311.0C368.6 310.5 374.9 309.6 379.8 307.8C384.7 306.0 390.2 302.9 395.5 300.0C400.8 297.1 406.1 292.9 411.3 290.5C416.5 288.1 422.2 285.6 426.7 285.3C431.2 285.0 434.6 287.2 438.1 288.9C441.7 290.5 444.8 293.5 448.0 295.2C451.2 296.9 453.6 298.4 457.5 299.2C461.4 300.0 467.2 300.3 471.6 300.0C476.1 299.7 480.4 298.5 484.2 297.6C488.0 296.7 490.1 293.9 494.6 294.4C499.1 294.9 505.2 297.9 511.0 300.7C516.8 303.5 526.2 309.5 529.2 311.3" fill="none" stroke="#8aa0a8" stroke-width="0.60" stroke-linejoin="round" stroke-linecap="round" opacity="1.00" /><path d="M366.40 311.00h0M369.60 310.38h0M372.80 309.75h0M376.00 308.99h0M379.20 308.02h0M382.40 306.73h0M385.60 305.24h0M388.80 303.62h0M392.00 301.91h0M395.20 300.16h0M398.40 298.30h0M401.60 296.27h0M404.80 294.20h0M408.00 292.25h0M411.20 290.55h0M414.40 289.08h0M417.60 287.72h0M420.80 286.56h0M424.00 285.68h0M427.20 285.28h0M430.40 285.63h0M433.60 286.74h0M436.80 288.27h0M440.00 289.92h0M443.20 292.05h0M446.40 294.26h0M449.60 296.06h0M452.80 297.69h0M456.00 298.84h0M459.20 299.50h0M462.40 299.86h0M465.60 300.05h0M468.80 300.10h0M472.00 299.97h0M475.20 299.60h0M478.40 298.99h0M481.60 298.24h0M484.80 297.45h0M488.00 296.54h0M491.20 295.52h0M494.40 294.46h0" fill="none" stroke="#2e9a2e" stroke-width="3.30" stroke-linecap="round" opacity="0.28"/><path d="M366.40 311.00h0M369.60 310.38h0M372.80 309.75h0M376.00 308.99h0M379.20 308.02h0M382.40 306.73h0M385.60 305.24h0M388.80 303.62h0M392.00 301.91h0M395.20 300.16h0M398.40 298.30h0M401.60 296.27h0M404.80 294.20h0M408.00 292.25h0M411.20 290.55h0M414.40 289.08h0M417.60 287.72h0M420.80 286.56h0M424.00 285.68h0M427.20 285.28h0M430.40 285.63h0M433.60 286.74h0M436.80 288.27h0M440.00 289.92h0M443.20 292.05h0M446.40 294.26h0M449.60 296.06h0M452.80 297.69h0M456.00 298.84h0M459.20 299.50h0M462.40 299.86h0M465.60 300.05h0M468.80 300.10h0M472.00 299.97h0M475.20 299.60h0M478.40 298.99h0M481.60 298.24h0M484.80 297.45h0M488.00 296.54h0M491.20 295.52h0M494.40 294.46h0" fill="none" stroke="#ff820e" stroke-width="2.50" stroke-linecap="round" opacity="1.00"/><path d="M495.40 294.69h0M496.40 295.05h0M497.40 295.40h0M498.40 295.74h0M499.40 296.09h0M500.40 296.44h0M501.40 296.79h0M502.40 297.15h0M503.40 297.52h0M504.40 297.90h0M505.40 298.28h0M506.40 298.68h0M507.40 299.09h0M508.40 299.51h0M509.40 299.95h0M510.40 300.41h0M511.40 300.90h0M512.40 301.41h0M513.40 301.94h0M514.40 302.49h0M515.40 303.04h0M516.40 303.61h0M517.40 304.19h0M518.40 304.77h0M519.40 305.36h0M520.40 305.96h0M521.40 306.56h0M522.40 307.16h0M523.40 307.77h0M524.40 308.38h0M525.40 309.00h0M526.40 309.61h0M527.40 310.22h0M528.40 310.82h0" fill="none" stroke="#2e9a2e" stroke-width="3.10" stroke-linecap="round" opacity="0.28"/><path d="M495.40 294.69h0M496.40 295.05h0M497.40 295.40h0M498.40 295.74h0M499.40 296.09h0M500.40 296.44h0M501.40 296.79h0M502.40 297.15h0M503.40 297.52h0M504.40 297.90h0M505.40 298.28h0M506.40 298.68h0M507.40 299.09h0M508.40 299.51h0M509.40 299.95h0M510.40 300.41h0M511.40 300.90h0M512.40 301.41h0M513.40 301.94h0M514.40 302.49h0M515.40 303.04h0M516.40 303.61h0M517.40 304.19h0M518.40 304.77h0M519.40 305.36h0M520.40 305.96h0M521.40 306.56h0M522.40 307.16h0M523.40 307.77h0M524.40 308.38h0M525.40 309.00h0M526.40 309.61h0M527.40 310.22h0M528.40 310.82h0" fill="none" stroke="#ff820e" stroke-width="2.50" stroke-linecap="round" opacity="1.00"/><path d="M366.4 311.8C368.6 312.2 374.9 313.6 379.8 314.1C384.7 314.6 390.2 315.5 395.5 314.9C400.8 314.2 406.1 311.2 411.3 310.2C416.5 309.1 422.2 308.7 426.7 308.6C431.2 308.5 434.6 308.8 438.1 309.4C441.7 310.0 444.8 311.1 448.0 312.3C451.2 313.5 453.6 315.1 457.5 316.5C461.4 317.9 465.4 319.7 471.6 320.4C477.8 321.1 488.0 321.3 494.6 320.8C501.2 320.3 505.2 318.8 511.0 317.3C516.8 315.8 526.2 312.7 529.2 311.8" fill="none" stroke="#8aa0a8" stroke-width="0.60" stroke-linejoin="round" stroke-linecap="round" opacity="1.00" /><path d="M366.40 311.80h0M369.60 312.41h0M372.80 313.03h0M376.00 313.58h0M379.20 314.03h0M382.40 314.40h0M385.60 314.76h0M388.80 315.03h0M392.00 315.12h0M395.20 314.93h0M398.40 314.33h0M401.60 313.35h0M404.80 312.20h0M408.00 311.08h0M411.20 310.22h0M414.40 309.65h0M417.60 309.23h0M420.80 308.92h0M424.00 308.71h0M427.20 308.59h0M430.40 308.60h0M433.60 308.79h0M436.80 309.19h0M440.00 309.78h0M443.20 310.65h0M446.40 311.72h0M449.60 312.95h0M452.80 314.49h0M456.00 315.94h0M459.20 317.11h0M462.40 318.26h0M465.60 319.24h0M468.80 319.98h0M472.00 320.44h0M475.20 320.67h0M478.40 320.79h0M481.60 320.83h0M484.80 320.84h0M488.00 320.83h0M491.20 320.80h0M494.40 320.80h0" fill="none" stroke="#2e9a2e" stroke-width="3.30" stroke-linecap="round" opacity="0.28"/><path d="M366.40 311.80h0M369.60 312.41h0M372.80 313.03h0M376.00 313.58h0M379.20 314.03h0M382.40 314.40h0M385.60 314.76h0M388.80 315.03h0M392.00 315.12h0M395.20 314.93h0M398.40 314.33h0M401.60 313.35h0M404.80 312.20h0M408.00 311.08h0M411.20 310.22h0M414.40 309.65h0M417.60 309.23h0M420.80 308.92h0M424.00 308.71h0M427.20 308.59h0M430.40 308.60h0M433.60 308.79h0M436.80 309.19h0M440.00 309.78h0M443.20 310.65h0M446.40 311.72h0M449.60 312.95h0M452.80 314.49h0M456.00 315.94h0M459.20 317.11h0M462.40 318.26h0M465.60 319.24h0M468.80 319.98h0M472.00 320.44h0M475.20 320.67h0M478.40 320.79h0M481.60 320.83h0M484.80 320.84h0M488.00 320.83h0M491.20 320.80h0M494.40 320.80h0" fill="none" stroke="#ff820e" stroke-width="2.50" stroke-linecap="round" opacity="1.00"/><path d="M495.40 320.63h0M496.40 320.44h0M497.40 320.24h0M498.40 320.04h0M499.40 319.85h0M500.40 319.65h0M501.40 319.45h0M502.40 319.24h0M503.40 319.04h0M504.40 318.83h0M505.40 318.61h0M506.40 318.40h0M507.40 318.17h0M508.40 317.94h0M509.40 317.70h0M510.40 317.45h0M511.40 317.19h0M512.40 316.92h0M513.40 316.65h0M514.40 316.36h0M515.40 316.07h0M516.40 315.77h0M517.40 315.47h0M518.40 315.17h0M519.40 314.86h0M520.40 314.56h0M521.40 314.25h0M522.40 313.93h0M523.40 313.62h0M524.40 313.30h0M525.40 312.99h0M526.40 312.67h0M527.40 312.36h0M528.40 312.05h0" fill="none" stroke="#2e9a2e" stroke-width="3.10" stroke-linecap="round" opacity="0.28"/><path d="M495.40 320.63h0M496.40 320.44h0M497.40 320.24h0M498.40 320.04h0M499.40 319.85h0M500.40 319.65h0M501.40 319.45h0M502.40 319.24h0M503.40 319.04h0M504.40 318.83h0M505.40 318.61h0M506.40 318.40h0M507.40 318.17h0M508.40 317.94h0M509.40 317.70h0M510.40 317.45h0M511.40 317.19h0M512.40 316.92h0M513.40 316.65h0M514.40 316.36h0M515.40 316.07h0M516.40 315.77h0M517.40 315.47h0M518.40 315.17h0M519.40 314.86h0M520.40 314.56h0M521.40 314.25h0M522.40 313.93h0M523.40 313.62h0M524.40 313.30h0M525.40 312.99h0M526.40 312.67h0M527.40 312.36h0M528.40 312.05h0" fill="none" stroke="#ff820e" stroke-width="2.50" stroke-linecap="round" opacity="1.00"/><path d="M366.4 329.1C369.9 328.6 377.6 326.6 387.6 326.0C397.7 325.4 416.6 325.4 426.7 325.2C436.8 325.0 436.7 324.6 448.0 324.6C459.3 324.6 484.1 324.8 494.6 325.2C505.1 325.6 505.2 326.1 511.0 326.8C516.8 327.5 526.2 329.1 529.2 329.6" fill="none" stroke="#8aa0a8" stroke-width="0.60" stroke-linejoin="round" stroke-linecap="round" opacity="1.00" /><path d="M366.40 329.10h0M369.60 328.53h0M372.80 327.92h0M376.00 327.36h0M379.20 326.87h0M382.40 326.46h0M385.60 326.15h0M388.80 325.93h0M392.00 325.78h0M395.20 325.67h0M398.40 325.59h0M401.60 325.53h0M404.80 325.47h0M408.00 325.43h0M411.20 325.40h0M414.40 325.37h0M417.60 325.33h0M420.80 325.30h0M424.00 325.25h0M427.20 325.19h0M430.40 325.09h0M433.60 324.97h0M436.80 324.82h0M440.00 324.69h0M443.20 324.63h0M446.40 324.60h0M449.60 324.60h0M452.80 324.62h0M456.00 324.65h0M459.20 324.68h0M462.40 324.72h0M465.60 324.76h0M468.80 324.81h0M472.00 324.85h0M475.20 324.90h0M478.40 324.95h0M481.60 325.00h0M484.80 325.05h0M488.00 325.10h0M491.20 325.15h0M494.40 325.20h0" fill="none" stroke="#2e9a2e" stroke-width="3.30" stroke-linecap="round" opacity="0.28"/><path d="M366.40 329.10h0M369.60 328.53h0M372.80 327.92h0M376.00 327.36h0M379.20 326.87h0M382.40 326.46h0M385.60 326.15h0M388.80 325.93h0M392.00 325.78h0M395.20 325.67h0M398.40 325.59h0M401.60 325.53h0M404.80 325.47h0M408.00 325.43h0M411.20 325.40h0M414.40 325.37h0M417.60 325.33h0M420.80 325.30h0M424.00 325.25h0M427.20 325.19h0M430.40 325.09h0M433.60 324.97h0M436.80 324.82h0M440.00 324.69h0M443.20 324.63h0M446.40 324.60h0M449.60 324.60h0M452.80 324.62h0M456.00 324.65h0M459.20 324.68h0M462.40 324.72h0M465.60 324.76h0M468.80 324.81h0M472.00 324.85h0M475.20 324.90h0M478.40 324.95h0M481.60 325.00h0M484.80 325.05h0M488.00 325.10h0M491.20 325.15h0M494.40 325.20h0" fill="none" stroke="#ff820e" stroke-width="2.50" stroke-linecap="round" opacity="1.00"/><path d="M495.40 325.27h0M496.40 325.36h0M497.40 325.45h0M498.40 325.54h0M499.40 325.62h0M500.40 325.71h0M501.40 325.80h0M502.40 325.89h0M503.40 325.99h0M504.40 326.08h0M505.40 326.18h0M506.40 326.28h0M507.40 326.38h0M508.40 326.49h0M509.40 326.61h0M510.40 326.73h0M511.40 326.85h0M512.40 326.99h0M513.40 327.12h0M514.40 327.27h0M515.40 327.41h0M516.40 327.56h0M517.40 327.72h0M518.40 327.87h0M519.40 328.03h0M520.40 328.18h0M521.40 328.34h0M522.40 328.50h0M523.40 328.67h0M524.40 328.83h0M525.40 328.99h0M526.40 329.15h0M527.40 329.31h0M528.40 329.47h0" fill="none" stroke="#2e9a2e" stroke-width="3.10" stroke-linecap="round" opacity="0.28"/><path d="M495.40 325.27h0M496.40 325.36h0M497.40 325.45h0M498.40 325.54h0M499.40 325.62h0M500.40 325.71h0M501.40 325.80h0M502.40 325.89h0M503.40 325.99h0M504.40 326.08h0M505.40 326.18h0M506.40 326.28h0M507.40 326.38h0M508.40 326.49h0M509.40 326.61h0M510.40 326.73h0M511.40 326.85h0M512.40 326.99h0M513.40 327.12h0M514.40 327.27h0M515.40 327.41h0M516.40 327.56h0M517.40 327.72h0M518.40 327.87h0M519.40 328.03h0M520.40 328.18h0M521.40 328.34h0M522.40 328.50h0M523.40 328.67h0M524.40 328.83h0M525.40 328.99h0M526.40 329.15h0M527.40 329.31h0M528.40 329.47h0" fill="none" stroke="#ff820e" stroke-width="2.50" stroke-linecap="round" opacity="1.00"/><path d="M366.4 329.9C369.9 330.2 377.6 331.2 387.6 331.5C397.7 331.8 416.6 331.5 426.7 331.5C436.8 331.5 436.7 331.7 448.0 331.6C459.3 331.5 481.1 331.0 494.6 330.7C508.1 330.4 523.4 330.0 529.2 329.9" fill="none" stroke="#8aa0a8" stroke-width="0.60" stroke-linejoin="round" stroke-linecap="round" opacity="1.00" /><path d="M366.40 329.90h0M369.60 330.21h0M372.80 330.53h0M376.00 330.83h0M379.20 331.08h0M382.40 331.29h0M385.60 331.43h0M388.80 331.53h0M392.00 331.58h0M395.20 331.60h0M398.40 331.61h0M401.60 331.61h0M404.80 331.60h0M408.00 331.59h0M411.20 331.57h0M414.40 331.55h0M417.60 331.53h0M420.80 331.51h0M424.00 331.50h0M427.20 331.50h0M430.40 331.52h0M433.60 331.55h0M436.80 331.60h0M440.00 331.64h0M443.20 331.64h0M446.40 331.62h0M449.60 331.58h0M452.80 331.53h0M456.00 331.48h0M459.20 331.42h0M462.40 331.36h0M465.60 331.30h0M468.80 331.23h0M472.00 331.17h0M475.20 331.10h0M478.40 331.04h0M481.60 330.97h0M484.80 330.90h0M488.00 330.84h0M491.20 330.77h0M494.40 330.70h0" fill="none" stroke="#2e9a2e" stroke-width="3.30" stroke-linecap="round" opacity="0.28"/><path d="M366.40 329.90h0M369.60 330.21h0M372.80 330.53h0M376.00 330.83h0M379.20 331.08h0M382.40 331.29h0M385.60 331.43h0M388.80 331.53h0M392.00 331.58h0M395.20 331.60h0M398.40 331.61h0M401.60 331.61h0M404.80 331.60h0M408.00 331.59h0M411.20 331.57h0M414.40 331.55h0M417.60 331.53h0M420.80 331.51h0M424.00 331.50h0M427.20 331.50h0M430.40 331.52h0M433.60 331.55h0M436.80 331.60h0M440.00 331.64h0M443.20 331.64h0M446.40 331.62h0M449.60 331.58h0M452.80 331.53h0M456.00 331.48h0M459.20 331.42h0M462.40 331.36h0M465.60 331.30h0M468.80 331.23h0M472.00 331.17h0M475.20 331.10h0M478.40 331.04h0M481.60 330.97h0M484.80 330.90h0M488.00 330.84h0M491.20 330.77h0M494.40 330.70h0" fill="none" stroke="#ff820e" stroke-width="2.50" stroke-linecap="round" opacity="1.00"/><path d="M495.40 330.68h0M496.40 330.66h0M497.40 330.64h0M498.40 330.61h0M499.40 330.59h0M500.40 330.57h0M501.40 330.54h0M502.40 330.52h0M503.40 330.50h0M504.40 330.47h0M505.40 330.45h0M506.40 330.43h0M507.40 330.40h0M508.40 330.38h0M509.40 330.36h0M510.40 330.33h0M511.40 330.31h0M512.40 330.29h0M513.40 330.27h0M514.40 330.24h0M515.40 330.22h0M516.40 330.20h0M517.40 330.17h0M518.40 330.15h0M519.40 330.13h0M520.40 330.10h0M521.40 330.08h0M522.40 330.06h0M523.40 330.03h0M524.40 330.01h0M525.40 329.99h0M526.40 329.96h0M527.40 329.94h0M528.40 329.92h0" fill="none" stroke="#2e9a2e" stroke-width="3.10" stroke-linecap="round" opacity="0.28"/><path d="M495.40 330.68h0M496.40 330.66h0M497.40 330.64h0M498.40 330.61h0M499.40 330.59h0M500.40 330.57h0M501.40 330.54h0M502.40 330.52h0M503.40 330.50h0M504.40 330.47h0M505.40 330.45h0M506.40 330.43h0M507.40 330.40h0M508.40 330.38h0M509.40 330.36h0M510.40 330.33h0M511.40 330.31h0M512.40 330.29h0M513.40 330.27h0M514.40 330.24h0M515.40 330.22h0M516.40 330.20h0M517.40 330.17h0M518.40 330.15h0M519.40 330.13h0M520.40 330.10h0M521.40 330.08h0M522.40 330.06h0M523.40 330.03h0M524.40 330.01h0M525.40 329.99h0M526.40 329.96h0M527.40 329.94h0M528.40 329.92h0" fill="none" stroke="#ff820e" stroke-width="2.50" stroke-linecap="round" opacity="1.00"/><path d="M366.2 416.2C368.0 415.5 373.2 413.3 377.2 411.8C381.2 410.3 386.0 409.2 390.4 407.4C394.8 405.6 399.6 403.0 403.6 400.8C407.6 398.6 410.8 396.0 414.6 394.2C418.5 392.4 422.7 389.8 426.7 390.2C430.7 390.6 435.2 394.3 438.8 396.4C442.4 398.5 442.8 400.4 448.0 403.0C453.2 405.6 462.2 410.0 470.0 411.8C477.8 413.6 484.7 413.3 494.6 414.0C504.5 414.7 523.6 415.8 529.4 416.2" fill="none" stroke="#8aa0a8" stroke-width="0.60" stroke-linejoin="round" stroke-linecap="round" opacity="1.00" /><path d="M366.40 416.12h0M369.60 414.80h0M372.80 413.49h0M376.00 412.25h0M379.20 411.12h0M382.40 410.12h0M385.60 409.13h0M388.80 408.03h0M392.00 406.71h0M395.20 405.21h0M398.40 403.59h0M401.60 401.89h0M404.80 400.12h0M408.00 398.10h0M411.20 396.04h0M414.40 394.29h0M417.60 392.75h0M420.80 391.31h0M424.00 390.36h0M427.20 390.27h0M430.40 391.29h0M433.60 393.04h0M436.80 395.13h0M440.00 397.19h0M443.20 399.90h0M446.40 402.15h0M449.60 403.79h0M452.80 405.32h0M456.00 406.79h0M459.20 408.16h0M462.40 409.42h0M465.60 410.55h0M468.80 411.50h0M472.00 412.21h0M475.20 412.70h0M478.40 413.05h0M481.60 413.31h0M484.80 413.51h0M488.00 413.67h0M491.20 413.81h0M494.40 413.98h0" fill="none" stroke="#2e9a2e" stroke-width="3.50" stroke-linecap="round" opacity="0.28"/><path d="M366.40 416.12h0M369.60 414.80h0M372.80 413.49h0M376.00 412.25h0M379.20 411.12h0M382.40 410.12h0M385.60 409.13h0M388.80 408.03h0M392.00 406.71h0M395.20 405.21h0M398.40 403.59h0M401.60 401.89h0M404.80 400.12h0M408.00 398.10h0M411.20 396.04h0M414.40 394.29h0M417.60 392.75h0M420.80 391.31h0M424.00 390.36h0M427.20 390.27h0M430.40 391.29h0M433.60 393.04h0M436.80 395.13h0M440.00 397.19h0M443.20 399.90h0M446.40 402.15h0M449.60 403.79h0M452.80 405.32h0M456.00 406.79h0M459.20 408.16h0M462.40 409.42h0M465.60 410.55h0M468.80 411.50h0M472.00 412.21h0M475.20 412.70h0M478.40 413.05h0M481.60 413.31h0M484.80 413.51h0M488.00 413.67h0M491.20 413.81h0M494.40 413.98h0" fill="none" stroke="#ff820e" stroke-width="2.70" stroke-linecap="round" opacity="1.00"/><path d="M495.40 414.05h0M496.40 414.11h0M497.40 414.18h0M498.40 414.24h0M499.40 414.30h0M500.40 414.37h0M501.40 414.43h0M502.40 414.49h0M503.40 414.56h0M504.40 414.62h0M505.40 414.68h0M506.40 414.75h0M507.40 414.81h0M508.40 414.87h0M509.40 414.94h0M510.40 415.00h0M511.40 415.06h0M512.40 415.13h0M513.40 415.19h0M514.40 415.25h0M515.40 415.31h0M516.40 415.38h0M517.40 415.44h0M518.40 415.50h0M519.40 415.57h0M520.40 415.63h0M521.40 415.69h0M522.40 415.76h0M523.40 415.82h0M524.40 415.88h0M525.40 415.95h0M526.40 416.01h0M527.40 416.07h0M528.40 416.14h0M529.40 416.20h0" fill="none" stroke="#2e9a2e" stroke-width="3.30" stroke-linecap="round" opacity="0.28"/><path d="M495.40 414.05h0M496.40 414.11h0M497.40 414.18h0M498.40 414.24h0M499.40 414.30h0M500.40 414.37h0M501.40 414.43h0M502.40 414.49h0M503.40 414.56h0M504.40 414.62h0M505.40 414.68h0M506.40 414.75h0M507.40 414.81h0M508.40 414.87h0M509.40 414.94h0M510.40 415.00h0M511.40 415.06h0M512.40 415.13h0M513.40 415.19h0M514.40 415.25h0M515.40 415.31h0M516.40 415.38h0M517.40 415.44h0M518.40 415.50h0M519.40 415.57h0M520.40 415.63h0M521.40 415.69h0M522.40 415.76h0M523.40 415.82h0M524.40 415.88h0M525.40 415.95h0M526.40 416.01h0M527.40 416.07h0M528.40 416.14h0M529.40 416.20h0" fill="none" stroke="#ff820e" stroke-width="2.70" stroke-linecap="round" opacity="1.00"/><path d="M366.2 417.3C368.0 418.4 373.5 422.1 377.2 423.9C380.9 425.7 384.5 427.9 388.2 428.3C391.9 428.7 395.2 428.1 399.2 426.1C403.2 424.1 407.8 418.9 412.4 416.2C417.0 413.4 422.7 410.0 426.7 409.6C430.7 409.2 433.1 412.4 436.6 414.0C440.2 415.6 443.2 417.3 448.0 419.5C452.8 421.7 460.1 426.8 465.6 427.2C471.1 427.6 476.2 423.5 481.0 421.7C485.8 419.9 486.5 417.1 494.6 416.5C502.7 415.9 523.6 417.8 529.4 418.0" fill="none" stroke="#8aa0a8" stroke-width="0.60" stroke-linejoin="round" stroke-linecap="round" opacity="1.00" /><path d="M366.40 417.42h0M369.60 419.44h0M372.80 421.42h0M376.00 423.27h0M379.20 424.92h0M382.40 426.51h0M385.60 427.76h0M388.80 428.35h0M392.00 428.32h0M395.20 427.70h0M398.40 426.48h0M401.60 424.62h0M404.80 422.09h0M408.00 419.41h0M411.20 416.97h0M414.40 415.00h0M417.60 413.15h0M420.80 411.50h0M424.00 410.20h0M427.20 409.58h0M430.40 410.27h0M433.60 412.21h0M436.80 414.09h0M440.00 415.64h0M443.20 417.23h0M446.40 418.76h0M449.60 420.28h0M452.80 422.01h0M456.00 423.75h0M459.20 425.32h0M462.40 426.55h0M465.60 427.20h0M468.80 426.95h0M472.00 425.94h0M475.20 424.45h0M478.40 422.83h0M481.60 421.48h0M484.80 420.27h0M488.00 419.05h0M491.20 417.81h0M494.40 416.58h0" fill="none" stroke="#2e9a2e" stroke-width="3.50" stroke-linecap="round" opacity="0.28"/><path d="M366.40 417.42h0M369.60 419.44h0M372.80 421.42h0M376.00 423.27h0M379.20 424.92h0M382.40 426.51h0M385.60 427.76h0M388.80 428.35h0M392.00 428.32h0M395.20 427.70h0M398.40 426.48h0M401.60 424.62h0M404.80 422.09h0M408.00 419.41h0M411.20 416.97h0M414.40 415.00h0M417.60 413.15h0M420.80 411.50h0M424.00 410.20h0M427.20 409.58h0M430.40 410.27h0M433.60 412.21h0M436.80 414.09h0M440.00 415.64h0M443.20 417.23h0M446.40 418.76h0M449.60 420.28h0M452.80 422.01h0M456.00 423.75h0M459.20 425.32h0M462.40 426.55h0M465.60 427.20h0M468.80 426.95h0M472.00 425.94h0M475.20 424.45h0M478.40 422.83h0M481.60 421.48h0M484.80 420.27h0M488.00 419.05h0M491.20 417.81h0M494.40 416.58h0" fill="none" stroke="#ff820e" stroke-width="2.70" stroke-linecap="round" opacity="1.00"/><path d="M495.40 416.53h0M496.40 416.58h0M497.40 416.62h0M498.40 416.66h0M499.40 416.71h0M500.40 416.75h0M501.40 416.79h0M502.40 416.84h0M503.40 416.88h0M504.40 416.92h0M505.40 416.97h0M506.40 417.01h0M507.40 417.05h0M508.40 417.09h0M509.40 417.14h0M510.40 417.18h0M511.40 417.22h0M512.40 417.27h0M513.40 417.31h0M514.40 417.35h0M515.40 417.40h0M516.40 417.44h0M517.40 417.48h0M518.40 417.53h0M519.40 417.57h0M520.40 417.61h0M521.40 417.66h0M522.40 417.70h0M523.40 417.74h0M524.40 417.78h0M525.40 417.83h0M526.40 417.87h0M527.40 417.91h0M528.40 417.96h0M529.40 418.00h0" fill="none" stroke="#2e9a2e" stroke-width="3.30" stroke-linecap="round" opacity="0.28"/><path d="M495.40 416.53h0M496.40 416.58h0M497.40 416.62h0M498.40 416.66h0M499.40 416.71h0M500.40 416.75h0M501.40 416.79h0M502.40 416.84h0M503.40 416.88h0M504.40 416.92h0M505.40 416.97h0M506.40 417.01h0M507.40 417.05h0M508.40 417.09h0M509.40 417.14h0M510.40 417.18h0M511.40 417.22h0M512.40 417.27h0M513.40 417.31h0M514.40 417.35h0M515.40 417.40h0M516.40 417.44h0M517.40 417.48h0M518.40 417.53h0M519.40 417.57h0M520.40 417.61h0M521.40 417.66h0M522.40 417.70h0M523.40 417.74h0M524.40 417.78h0M525.40 417.83h0M526.40 417.87h0M527.40 417.91h0M528.40 417.96h0M529.40 418.00h0" fill="none" stroke="#ff820e" stroke-width="2.70" stroke-linecap="round" opacity="1.00"/><path d="M366.2 430.5C368.0 430.1 373.5 429.0 377.2 428.3C380.9 427.6 384.2 427.2 388.2 426.1C392.2 425.0 397.0 422.9 401.4 421.7C405.8 420.5 410.4 419.4 414.6 418.8C418.8 418.2 422.7 418.3 426.7 418.4C430.7 418.5 435.2 418.2 438.8 419.5C442.4 420.8 442.8 424.1 448.0 426.1C453.2 428.1 462.2 429.6 470.0 431.6C477.8 433.6 487.3 437.6 494.6 438.2C501.9 438.8 508.2 436.5 514.0 434.9C519.8 433.2 526.8 429.4 529.4 428.3" fill="none" stroke="#8aa0a8" stroke-width="0.60" stroke-linejoin="round" stroke-linecap="round" opacity="1.00" /><path d="M366.40 430.46h0M369.60 429.82h0M372.80 429.18h0M376.00 428.54h0M379.20 427.92h0M382.40 427.37h0M385.60 426.74h0M388.80 425.93h0M392.00 424.89h0M395.20 423.75h0M398.40 422.63h0M401.60 421.65h0M404.80 420.79h0M408.00 420.02h0M411.20 419.35h0M414.40 418.83h0M417.60 418.50h0M420.80 418.35h0M424.00 418.34h0M427.20 418.41h0M430.40 418.45h0M433.60 418.55h0M436.80 418.95h0M440.00 420.07h0M443.20 422.95h0M446.40 425.36h0M449.60 426.67h0M452.80 427.59h0M456.00 428.38h0M459.20 429.11h0M462.40 429.81h0M465.60 430.53h0M468.80 431.30h0M472.00 432.12h0M475.20 432.97h0M478.40 433.82h0M481.60 434.68h0M484.80 435.55h0M488.00 436.41h0M491.20 437.28h0M494.40 438.15h0" fill="none" stroke="#2e9a2e" stroke-width="3.40" stroke-linecap="round" opacity="0.28"/><path d="M366.40 430.46h0M369.60 429.82h0M372.80 429.18h0M376.00 428.54h0M379.20 427.92h0M382.40 427.37h0M385.60 426.74h0M388.80 425.93h0M392.00 424.89h0M395.20 423.75h0M398.40 422.63h0M401.60 421.65h0M404.80 420.79h0M408.00 420.02h0M411.20 419.35h0M414.40 418.83h0M417.60 418.50h0M420.80 418.35h0M424.00 418.34h0M427.20 418.41h0M430.40 418.45h0M433.60 418.55h0M436.80 418.95h0M440.00 420.07h0M443.20 422.95h0M446.40 425.36h0M449.60 426.67h0M452.80 427.59h0M456.00 428.38h0M459.20 429.11h0M462.40 429.81h0M465.60 430.53h0M468.80 431.30h0M472.00 432.12h0M475.20 432.97h0M478.40 433.82h0M481.60 434.68h0M484.80 435.55h0M488.00 436.41h0M491.20 437.28h0M494.40 438.15h0" fill="none" stroke="#ff820e" stroke-width="2.60" stroke-linecap="round" opacity="1.00"/><path d="M495.40 438.07h0M496.40 437.93h0M497.40 437.79h0M498.40 437.65h0M499.40 437.52h0M500.40 437.38h0M501.40 437.24h0M502.40 437.10h0M503.40 436.95h0M504.40 436.80h0M505.40 436.65h0M506.40 436.48h0M507.40 436.32h0M508.40 436.14h0M509.40 435.95h0M510.40 435.75h0M511.40 435.54h0M512.40 435.31h0M513.40 435.06h0M514.40 434.78h0M515.40 434.47h0M516.40 434.12h0M517.40 433.75h0M518.40 433.36h0M519.40 432.95h0M520.40 432.53h0M521.40 432.08h0M522.40 431.63h0M523.40 431.16h0M524.40 430.69h0M525.40 430.21h0M526.40 429.72h0M527.40 429.24h0M528.40 428.76h0M529.40 428.30h0" fill="none" stroke="#2e9a2e" stroke-width="3.20" stroke-linecap="round" opacity="0.28"/><path d="M495.40 438.07h0M496.40 437.93h0M497.40 437.79h0M498.40 437.65h0M499.40 437.52h0M500.40 437.38h0M501.40 437.24h0M502.40 437.10h0M503.40 436.95h0M504.40 436.80h0M505.40 436.65h0M506.40 436.48h0M507.40 436.32h0M508.40 436.14h0M509.40 435.95h0M510.40 435.75h0M511.40 435.54h0M512.40 435.31h0M513.40 435.06h0M514.40 434.78h0M515.40 434.47h0M516.40 434.12h0M517.40 433.75h0M518.40 433.36h0M519.40 432.95h0M520.40 432.53h0M521.40 432.08h0M522.40 431.63h0M523.40 431.16h0M524.40 430.69h0M525.40 430.21h0M526.40 429.72h0M527.40 429.24h0M528.40 428.76h0M529.40 428.30h0" fill="none" stroke="#ff820e" stroke-width="2.60" stroke-linecap="round" opacity="1.00"/><path d="M366.2 440.4C368.0 439.7 373.2 436.4 377.2 436.0C381.2 435.6 386.0 437.8 390.0 438.0C394.0 438.2 397.3 437.7 401.4 437.0C405.5 436.3 410.4 434.9 414.6 433.8C418.8 432.7 422.7 430.7 426.7 430.5C430.7 430.3 435.2 431.8 438.8 432.7C442.4 433.6 443.5 434.2 448.0 436.0C452.5 437.8 457.8 443.1 465.6 443.7C473.4 444.2 484.0 439.5 494.6 439.3C505.2 439.1 523.6 442.1 529.4 442.6" fill="none" stroke="#8aa0a8" stroke-width="0.60" stroke-linejoin="round" stroke-linecap="round" opacity="1.00" /><path d="M366.40 440.31h0M369.60 438.71h0M372.80 437.23h0M376.00 436.20h0M379.20 436.00h0M382.40 436.52h0M385.60 437.28h0M388.80 437.90h0M392.00 438.03h0M395.20 437.87h0M398.40 437.48h0M401.60 436.96h0M404.80 436.31h0M408.00 435.53h0M411.20 434.69h0M414.40 433.85h0M417.60 432.89h0M420.80 431.79h0M424.00 430.87h0M427.20 430.49h0M430.40 430.72h0M433.60 431.34h0M436.80 432.17h0M440.00 433.02h0M443.20 434.06h0M446.40 435.34h0M449.60 436.77h0M452.80 438.68h0M456.00 440.57h0M459.20 442.13h0M462.40 443.19h0M465.60 443.70h0M468.80 443.70h0M472.00 443.43h0M475.20 443.01h0M478.40 442.49h0M481.60 441.90h0M484.80 441.27h0M488.00 440.61h0M491.20 439.94h0M494.40 439.33h0" fill="none" stroke="#2e9a2e" stroke-width="3.40" stroke-linecap="round" opacity="0.28"/><path d="M366.40 440.31h0M369.60 438.71h0M372.80 437.23h0M376.00 436.20h0M379.20 436.00h0M382.40 436.52h0M385.60 437.28h0M388.80 437.90h0M392.00 438.03h0M395.20 437.87h0M398.40 437.48h0M401.60 436.96h0M404.80 436.31h0M408.00 435.53h0M411.20 434.69h0M414.40 433.85h0M417.60 432.89h0M420.80 431.79h0M424.00 430.87h0M427.20 430.49h0M430.40 430.72h0M433.60 431.34h0M436.80 432.17h0M440.00 433.02h0M443.20 434.06h0M446.40 435.34h0M449.60 436.77h0M452.80 438.68h0M456.00 440.57h0M459.20 442.13h0M462.40 443.19h0M465.60 443.70h0M468.80 443.70h0M472.00 443.43h0M475.20 443.01h0M478.40 442.49h0M481.60 441.90h0M484.80 441.27h0M488.00 440.61h0M491.20 439.94h0M494.40 439.33h0" fill="none" stroke="#ff820e" stroke-width="2.60" stroke-linecap="round" opacity="1.00"/><path d="M495.40 439.38h0M496.40 439.47h0M497.40 439.57h0M498.40 439.66h0M499.40 439.76h0M500.40 439.85h0M501.40 439.94h0M502.40 440.04h0M503.40 440.13h0M504.40 440.23h0M505.40 440.32h0M506.40 440.42h0M507.40 440.51h0M508.40 440.61h0M509.40 440.70h0M510.40 440.80h0M511.40 440.89h0M512.40 440.99h0M513.40 441.08h0M514.40 441.18h0M515.40 441.27h0M516.40 441.37h0M517.40 441.46h0M518.40 441.56h0M519.40 441.65h0M520.40 441.75h0M521.40 441.84h0M522.40 441.94h0M523.40 442.03h0M524.40 442.13h0M525.40 442.22h0M526.40 442.32h0M527.40 442.41h0M528.40 442.51h0M529.40 442.60h0" fill="none" stroke="#2e9a2e" stroke-width="3.20" stroke-linecap="round" opacity="0.28"/><path d="M495.40 439.38h0M496.40 439.47h0M497.40 439.57h0M498.40 439.66h0M499.40 439.76h0M500.40 439.85h0M501.40 439.94h0M502.40 440.04h0M503.40 440.13h0M504.40 440.23h0M505.40 440.32h0M506.40 440.42h0M507.40 440.51h0M508.40 440.61h0M509.40 440.70h0M510.40 440.80h0M511.40 440.89h0M512.40 440.99h0M513.40 441.08h0M514.40 441.18h0M515.40 441.27h0M516.40 441.37h0M517.40 441.46h0M518.40 441.56h0M519.40 441.65h0M520.40 441.75h0M521.40 441.84h0M522.40 441.94h0M523.40 442.03h0M524.40 442.13h0M525.40 442.22h0M526.40 442.32h0M527.40 442.41h0M528.40 442.51h0M529.40 442.60h0" fill="none" stroke="#ff820e" stroke-width="2.60" stroke-linecap="round" opacity="1.00"/><path d="M366.2 428.0C368.0 429.0 373.5 431.8 377.2 434.0C380.9 436.2 384.2 439.2 388.2 441.0C392.2 442.8 395.0 444.2 401.4 445.0C407.8 445.8 418.9 446.0 426.7 446.0C434.5 446.0 436.7 444.8 448.0 444.8C459.3 444.8 484.0 444.8 494.6 445.9C505.2 447.0 506.0 449.9 511.8 451.4C517.6 452.9 526.5 454.1 529.4 454.7" fill="none" stroke="#8aa0a8" stroke-width="0.60" stroke-linejoin="round" stroke-linecap="round" opacity="1.00" /><path d="M366.40 428.11h0M369.60 429.81h0M372.80 431.53h0M376.00 433.30h0M379.20 435.27h0M382.40 437.51h0M385.60 439.62h0M388.80 441.27h0M392.00 442.67h0M395.20 443.78h0M398.40 444.53h0M401.60 445.02h0M404.80 445.35h0M408.00 445.58h0M411.20 445.74h0M414.40 445.85h0M417.60 445.93h0M420.80 445.98h0M424.00 446.00h0M427.20 445.99h0M430.40 445.89h0M433.60 445.64h0M436.80 445.32h0M440.00 445.05h0M443.20 444.89h0M446.40 444.81h0M449.60 444.80h0M452.80 444.83h0M456.00 444.88h0M459.20 444.94h0M462.40 445.01h0M465.60 445.09h0M468.80 445.17h0M472.00 445.26h0M475.20 445.35h0M478.40 445.44h0M481.60 445.53h0M484.80 445.62h0M488.00 445.72h0M491.20 445.81h0M494.40 445.89h0" fill="none" stroke="#2e9a2e" stroke-width="3.30" stroke-linecap="round" opacity="0.28"/><path d="M366.40 428.11h0M369.60 429.81h0M372.80 431.53h0M376.00 433.30h0M379.20 435.27h0M382.40 437.51h0M385.60 439.62h0M388.80 441.27h0M392.00 442.67h0M395.20 443.78h0M398.40 444.53h0M401.60 445.02h0M404.80 445.35h0M408.00 445.58h0M411.20 445.74h0M414.40 445.85h0M417.60 445.93h0M420.80 445.98h0M424.00 446.00h0M427.20 445.99h0M430.40 445.89h0M433.60 445.64h0M436.80 445.32h0M440.00 445.05h0M443.20 444.89h0M446.40 444.81h0M449.60 444.80h0M452.80 444.83h0M456.00 444.88h0M459.20 444.94h0M462.40 445.01h0M465.60 445.09h0M468.80 445.17h0M472.00 445.26h0M475.20 445.35h0M478.40 445.44h0M481.60 445.53h0M484.80 445.62h0M488.00 445.72h0M491.20 445.81h0M494.40 445.89h0" fill="none" stroke="#ff820e" stroke-width="2.50" stroke-linecap="round" opacity="1.00"/><path d="M495.40 446.16h0M496.40 446.50h0M497.40 446.84h0M498.40 447.19h0M499.40 447.53h0M500.40 447.87h0M501.40 448.21h0M502.40 448.54h0M503.40 448.88h0M504.40 449.20h0M505.40 449.53h0M506.40 449.84h0M507.40 450.15h0M508.40 450.45h0M509.40 450.75h0M510.40 451.03h0M511.40 451.30h0M512.40 451.55h0M513.40 451.78h0M514.40 452.00h0M515.40 452.22h0M516.40 452.42h0M517.40 452.62h0M518.40 452.81h0M519.40 452.99h0M520.40 453.17h0M521.40 453.35h0M522.40 453.52h0M523.40 453.69h0M524.40 453.86h0M525.40 454.02h0M526.40 454.19h0M527.40 454.35h0M528.40 454.52h0M529.40 454.70h0" fill="none" stroke="#2e9a2e" stroke-width="3.10" stroke-linecap="round" opacity="0.28"/><path d="M495.40 446.16h0M496.40 446.50h0M497.40 446.84h0M498.40 447.19h0M499.40 447.53h0M500.40 447.87h0M501.40 448.21h0M502.40 448.54h0M503.40 448.88h0M504.40 449.20h0M505.40 449.53h0M506.40 449.84h0M507.40 450.15h0M508.40 450.45h0M509.40 450.75h0M510.40 451.03h0M511.40 451.30h0M512.40 451.55h0M513.40 451.78h0M514.40 452.00h0M515.40 452.22h0M516.40 452.42h0M517.40 452.62h0M518.40 452.81h0M519.40 452.99h0M520.40 453.17h0M521.40 453.35h0M522.40 453.52h0M523.40 453.69h0M524.40 453.86h0M525.40 454.02h0M526.40 454.19h0M527.40 454.35h0M528.40 454.52h0M529.40 454.70h0" fill="none" stroke="#ff820e" stroke-width="2.50" stroke-linecap="round" opacity="1.00"/><path d="M366.2 453.6C370.2 453.3 379.9 452.4 390.0 452.0C400.1 451.6 417.0 451.9 426.7 451.4C436.4 450.9 439.7 449.9 448.0 449.2C456.3 448.5 468.8 446.4 476.6 447.0C484.4 447.6 485.8 451.6 494.6 452.5C503.4 453.4 523.6 452.5 529.4 452.5" fill="none" stroke="#8aa0a8" stroke-width="0.60" stroke-linejoin="round" stroke-linecap="round" opacity="1.00" /><path d="M366.40 453.59h0M369.60 453.34h0M372.80 453.07h0M376.00 452.82h0M379.20 452.59h0M382.40 452.38h0M385.60 452.20h0M388.80 452.05h0M392.00 451.94h0M395.20 451.87h0M398.40 451.82h0M401.60 451.79h0M404.80 451.76h0M408.00 451.74h0M411.20 451.72h0M414.40 451.69h0M417.60 451.65h0M420.80 451.59h0M424.00 451.51h0M427.20 451.37h0M430.40 451.18h0M433.60 450.90h0M436.80 450.53h0M440.00 450.12h0M443.20 449.70h0M446.40 449.35h0M449.60 449.05h0M452.80 448.71h0M456.00 448.34h0M459.20 447.98h0M462.40 447.63h0M465.60 447.32h0M468.80 447.08h0M472.00 446.93h0M475.20 446.93h0M478.40 447.19h0M481.60 447.80h0M484.80 448.71h0M488.00 449.85h0M491.20 451.16h0M494.40 452.43h0" fill="none" stroke="#2e9a2e" stroke-width="3.30" stroke-linecap="round" opacity="0.28"/><path d="M366.40 453.59h0M369.60 453.34h0M372.80 453.07h0M376.00 452.82h0M379.20 452.59h0M382.40 452.38h0M385.60 452.20h0M388.80 452.05h0M392.00 451.94h0M395.20 451.87h0M398.40 451.82h0M401.60 451.79h0M404.80 451.76h0M408.00 451.74h0M411.20 451.72h0M414.40 451.69h0M417.60 451.65h0M420.80 451.59h0M424.00 451.51h0M427.20 451.37h0M430.40 451.18h0M433.60 450.90h0M436.80 450.53h0M440.00 450.12h0M443.20 449.70h0M446.40 449.35h0M449.60 449.05h0M452.80 448.71h0M456.00 448.34h0M459.20 447.98h0M462.40 447.63h0M465.60 447.32h0M468.80 447.08h0M472.00 446.93h0M475.20 446.93h0M478.40 447.19h0M481.60 447.80h0M484.80 448.71h0M488.00 449.85h0M491.20 451.16h0M494.40 452.43h0" fill="none" stroke="#ff820e" stroke-width="2.50" stroke-linecap="round" opacity="1.00"/><path d="M495.40 452.50h0M496.40 452.50h0M497.40 452.50h0M498.40 452.50h0M499.40 452.50h0M500.40 452.50h0M501.40 452.50h0M502.40 452.50h0M503.40 452.50h0M504.40 452.50h0M505.40 452.50h0M506.40 452.50h0M507.40 452.50h0M508.40 452.50h0M509.40 452.50h0M510.40 452.50h0M511.40 452.50h0M512.40 452.50h0M513.40 452.50h0M514.40 452.50h0M515.40 452.50h0M516.40 452.50h0M517.40 452.50h0M518.40 452.50h0M519.40 452.50h0M520.40 452.50h0M521.40 452.50h0M522.40 452.50h0M523.40 452.50h0M524.40 452.50h0M525.40 452.50h0M526.40 452.50h0M527.40 452.50h0M528.40 452.50h0M529.40 452.50h0" fill="none" stroke="#2e9a2e" stroke-width="3.10" stroke-linecap="round" opacity="0.28"/><path d="M495.40 452.50h0M496.40 452.50h0M497.40 452.50h0M498.40 452.50h0M499.40 452.50h0M500.40 452.50h0M501.40 452.50h0M502.40 452.50h0M503.40 452.50h0M504.40 452.50h0M505.40 452.50h0M506.40 452.50h0M507.40 452.50h0M508.40 452.50h0M509.40 452.50h0M510.40 452.50h0M511.40 452.50h0M512.40 452.50h0M513.40 452.50h0M514.40 452.50h0M515.40 452.50h0M516.40 452.50h0M517.40 452.50h0M518.40 452.50h0M519.40 452.50h0M520.40 452.50h0M521.40 452.50h0M522.40 452.50h0M523.40 452.50h0M524.40 452.50h0M525.40 452.50h0M526.40 452.50h0M527.40 452.50h0M528.40 452.50h0M529.40 452.50h0" fill="none" stroke="#ff820e" stroke-width="2.50" stroke-linecap="round" opacity="1.00"/><path d="M366.2 456.0C369.5 456.2 380.9 456.2 386.0 457.0C391.1 457.8 390.2 459.9 397.0 461.0C403.8 462.1 418.2 463.3 426.7 463.5C435.2 463.7 439.7 463.9 448.0 462.4C456.3 460.9 468.8 455.1 476.6 454.7C484.4 454.3 485.8 459.3 494.6 460.0C503.4 460.7 523.6 459.2 529.4 459.0" fill="none" stroke="#8aa0a8" stroke-width="0.60" stroke-linejoin="round" stroke-linecap="round" opacity="1.00" /><path d="M366.40 456.01h0M369.60 456.10h0M372.80 456.18h0M376.00 456.27h0M379.20 456.40h0M382.40 456.60h0M385.60 456.94h0M388.80 457.77h0M392.00 459.53h0M395.20 460.65h0M398.40 461.21h0M401.60 461.62h0M404.80 461.97h0M408.00 462.29h0M411.20 462.57h0M414.40 462.82h0M417.60 463.05h0M420.80 463.24h0M424.00 463.40h0M427.20 463.51h0M430.40 463.60h0M433.60 463.64h0M436.80 463.61h0M440.00 463.44h0M443.20 463.12h0M446.40 462.67h0M449.60 462.07h0M452.80 461.25h0M456.00 460.28h0M459.20 459.24h0M462.40 458.19h0M465.60 457.15h0M468.80 456.20h0M472.00 455.39h0M475.20 454.83h0M478.40 454.71h0M481.60 455.10h0M484.80 455.93h0M488.00 457.12h0M491.20 458.55h0M494.40 459.93h0" fill="none" stroke="#2e9a2e" stroke-width="3.30" stroke-linecap="round" opacity="0.28"/><path d="M366.40 456.01h0M369.60 456.10h0M372.80 456.18h0M376.00 456.27h0M379.20 456.40h0M382.40 456.60h0M385.60 456.94h0M388.80 457.77h0M392.00 459.53h0M395.20 460.65h0M398.40 461.21h0M401.60 461.62h0M404.80 461.97h0M408.00 462.29h0M411.20 462.57h0M414.40 462.82h0M417.60 463.05h0M420.80 463.24h0M424.00 463.40h0M427.20 463.51h0M430.40 463.60h0M433.60 463.64h0M436.80 463.61h0M440.00 463.44h0M443.20 463.12h0M446.40 462.67h0M449.60 462.07h0M452.80 461.25h0M456.00 460.28h0M459.20 459.24h0M462.40 458.19h0M465.60 457.15h0M468.80 456.20h0M472.00 455.39h0M475.20 454.83h0M478.40 454.71h0M481.60 455.10h0M484.80 455.93h0M488.00 457.12h0M491.20 458.55h0M494.40 459.93h0" fill="none" stroke="#ff820e" stroke-width="2.50" stroke-linecap="round" opacity="1.00"/><path d="M495.40 459.98h0M496.40 459.95h0M497.40 459.92h0M498.40 459.89h0M499.40 459.86h0M500.40 459.83h0M501.40 459.80h0M502.40 459.78h0M503.40 459.75h0M504.40 459.72h0M505.40 459.69h0M506.40 459.66h0M507.40 459.63h0M508.40 459.60h0M509.40 459.57h0M510.40 459.55h0M511.40 459.52h0M512.40 459.49h0M513.40 459.46h0M514.40 459.43h0M515.40 459.40h0M516.40 459.37h0M517.40 459.34h0M518.40 459.32h0M519.40 459.29h0M520.40 459.26h0M521.40 459.23h0M522.40 459.20h0M523.40 459.17h0M524.40 459.14h0M525.40 459.11h0M526.40 459.09h0M527.40 459.06h0M528.40 459.03h0M529.40 459.00h0" fill="none" stroke="#2e9a2e" stroke-width="3.10" stroke-linecap="round" opacity="0.28"/><path d="M495.40 459.98h0M496.40 459.95h0M497.40 459.92h0M498.40 459.89h0M499.40 459.86h0M500.40 459.83h0M501.40 459.80h0M502.40 459.78h0M503.40 459.75h0M504.40 459.72h0M505.40 459.69h0M506.40 459.66h0M507.40 459.63h0M508.40 459.60h0M509.40 459.57h0M510.40 459.55h0M511.40 459.52h0M512.40 459.49h0M513.40 459.46h0M514.40 459.43h0M515.40 459.40h0M516.40 459.37h0M517.40 459.34h0M518.40 459.32h0M519.40 459.29h0M520.40 459.26h0M521.40 459.23h0M522.40 459.20h0M523.40 459.17h0M524.40 459.14h0M525.40 459.11h0M526.40 459.09h0M527.40 459.06h0M528.40 459.03h0M529.40 459.00h0" fill="none" stroke="#ff820e" stroke-width="2.50" stroke-linecap="round" opacity="1.00"/><path d="M388.80 459.63h0M392.00 461.15h0M395.20 462.07h0M398.40 462.59h0M401.60 462.92h0M404.80 463.18h0M408.00 463.39h0M411.20 463.56h0M414.40 463.71h0M417.60 463.82h0M420.80 463.91h0M424.00 463.97h0M427.20 464.00h0M430.40 464.01h0M433.60 463.99h0M436.80 463.90h0M440.00 463.70h0M443.20 463.35h0M446.40 462.88h0M449.60 462.29h0M452.80 461.57h0M456.00 460.78h0M459.20 459.94h0M462.40 459.06h0M465.60 458.15h0M468.80 457.23h0M472.00 456.30h0M475.20 455.39h0" fill="none" stroke="#2a8a2a" stroke-width="3.10" stroke-linecap="round" opacity="1.00"/><path d="M388.80 459.63h0M392.00 461.15h0M395.20 462.07h0M398.40 462.59h0M401.60 462.92h0M404.80 463.18h0M408.00 463.39h0M411.20 463.56h0M414.40 463.71h0M417.60 463.82h0M420.80 463.91h0M424.00 463.97h0M427.20 464.00h0M430.40 464.01h0M433.60 463.99h0M436.80 463.90h0M440.00 463.70h0M443.20 463.35h0M446.40 462.88h0M449.60 462.29h0M452.80 461.57h0M456.00 460.78h0M459.20 459.94h0M462.40 459.06h0M465.60 458.15h0M468.80 457.23h0M472.00 456.30h0M475.20 455.39h0" fill="none" stroke="#ff820e" stroke-width="1.50" stroke-linecap="round" opacity="1.00"/><path d="M366.2 465.7C371.8 465.8 389.9 465.8 400.0 466.0C410.1 466.2 418.7 466.9 426.7 467.0C434.7 467.1 436.7 466.8 448.0 466.8C459.3 466.8 481.0 467.5 494.6 466.8C508.2 466.1 523.6 463.1 529.4 462.4" fill="none" stroke="#8aa0a8" stroke-width="0.60" stroke-linejoin="round" stroke-linecap="round" opacity="1.00" /><path d="M366.40 465.70h0M369.60 465.72h0M372.80 465.74h0M376.00 465.76h0M379.20 465.77h0M382.40 465.79h0M385.60 465.82h0M388.80 465.84h0M392.00 465.88h0M395.20 465.92h0M398.40 465.97h0M401.60 466.04h0M404.80 466.14h0M408.00 466.26h0M411.20 466.40h0M414.40 466.54h0M417.60 466.69h0M420.80 466.83h0M424.00 466.94h0M427.20 467.01h0M430.40 467.03h0M433.60 467.01h0M436.80 466.95h0M440.00 466.88h0M443.20 466.83h0M446.40 466.81h0M449.60 466.80h0M452.80 466.79h0M456.00 466.79h0M459.20 466.79h0M462.40 466.79h0M465.60 466.79h0M468.80 466.79h0M472.00 466.79h0M475.20 466.79h0M478.40 466.79h0M481.60 466.79h0M484.80 466.79h0M488.00 466.80h0M491.20 466.80h0M494.40 466.80h0" fill="none" stroke="#2e9a2e" stroke-width="3.30" stroke-linecap="round" opacity="0.28"/><path d="M366.40 465.70h0M369.60 465.72h0M372.80 465.74h0M376.00 465.76h0M379.20 465.77h0M382.40 465.79h0M385.60 465.82h0M388.80 465.84h0M392.00 465.88h0M395.20 465.92h0M398.40 465.97h0M401.60 466.04h0M404.80 466.14h0M408.00 466.26h0M411.20 466.40h0M414.40 466.54h0M417.60 466.69h0M420.80 466.83h0M424.00 466.94h0M427.20 467.01h0M430.40 467.03h0M433.60 467.01h0M436.80 466.95h0M440.00 466.88h0M443.20 466.83h0M446.40 466.81h0M449.60 466.80h0M452.80 466.79h0M456.00 466.79h0M459.20 466.79h0M462.40 466.79h0M465.60 466.79h0M468.80 466.79h0M472.00 466.79h0M475.20 466.79h0M478.40 466.79h0M481.60 466.79h0M484.80 466.79h0M488.00 466.80h0M491.20 466.80h0M494.40 466.80h0" fill="none" stroke="#ff820e" stroke-width="2.50" stroke-linecap="round" opacity="1.00"/><path d="M495.40 466.70h0M496.40 466.57h0M497.40 466.45h0M498.40 466.32h0M499.40 466.19h0M500.40 466.07h0M501.40 465.94h0M502.40 465.81h0M503.40 465.69h0M504.40 465.56h0M505.40 465.43h0M506.40 465.31h0M507.40 465.18h0M508.40 465.06h0M509.40 464.93h0M510.40 464.80h0M511.40 464.68h0M512.40 464.55h0M513.40 464.42h0M514.40 464.30h0M515.40 464.17h0M516.40 464.04h0M517.40 463.92h0M518.40 463.79h0M519.40 463.66h0M520.40 463.54h0M521.40 463.41h0M522.40 463.29h0M523.40 463.16h0M524.40 463.03h0M525.40 462.91h0M526.40 462.78h0M527.40 462.65h0M528.40 462.53h0M529.40 462.40h0" fill="none" stroke="#2e9a2e" stroke-width="3.10" stroke-linecap="round" opacity="0.28"/><path d="M495.40 466.70h0M496.40 466.57h0M497.40 466.45h0M498.40 466.32h0M499.40 466.19h0M500.40 466.07h0M501.40 465.94h0M502.40 465.81h0M503.40 465.69h0M504.40 465.56h0M505.40 465.43h0M506.40 465.31h0M507.40 465.18h0M508.40 465.06h0M509.40 464.93h0M510.40 464.80h0M511.40 464.68h0M512.40 464.55h0M513.40 464.42h0M514.40 464.30h0M515.40 464.17h0M516.40 464.04h0M517.40 463.92h0M518.40 463.79h0M519.40 463.66h0M520.40 463.54h0M521.40 463.41h0M522.40 463.29h0M523.40 463.16h0M524.40 463.03h0M525.40 462.91h0M526.40 462.78h0M527.40 462.65h0M528.40 462.53h0M529.40 462.40h0" fill="none" stroke="#ff820e" stroke-width="2.50" stroke-linecap="round" opacity="1.00"/><path d="M366.2 474.5C371.8 474.1 386.4 472.6 400.0 472.0C413.6 471.4 432.2 471.5 448.0 471.2C463.8 470.9 481.0 470.6 494.6 470.0C508.2 469.4 523.6 468.2 529.4 467.9" fill="none" stroke="#8aa0a8" stroke-width="0.60" stroke-linejoin="round" stroke-linecap="round" opacity="1.00" /><path d="M366.40 474.48h0M369.60 474.22h0M372.80 473.93h0M376.00 473.65h0M379.20 473.38h0M382.40 473.11h0M385.60 472.86h0M388.80 472.63h0M392.00 472.42h0M395.20 472.23h0M398.40 472.07h0M401.60 471.94h0M404.80 471.84h0M408.00 471.75h0M411.20 471.69h0M414.40 471.63h0M417.60 471.59h0M420.80 471.55h0M424.00 471.51h0M427.20 471.48h0M430.40 471.45h0M433.60 471.41h0M436.80 471.38h0M440.00 471.34h0M443.20 471.29h0M446.40 471.23h0M449.60 471.17h0M452.80 471.09h0M456.00 471.02h0M459.20 470.94h0M462.40 470.86h0M465.60 470.78h0M468.80 470.70h0M472.00 470.61h0M475.20 470.53h0M478.40 470.44h0M481.60 470.35h0M484.80 470.26h0M488.00 470.18h0M491.20 470.09h0M494.40 470.01h0" fill="none" stroke="#2e9a2e" stroke-width="3.30" stroke-linecap="round" opacity="0.28"/><path d="M366.40 474.48h0M369.60 474.22h0M372.80 473.93h0M376.00 473.65h0M379.20 473.38h0M382.40 473.11h0M385.60 472.86h0M388.80 472.63h0M392.00 472.42h0M395.20 472.23h0M398.40 472.07h0M401.60 471.94h0M404.80 471.84h0M408.00 471.75h0M411.20 471.69h0M414.40 471.63h0M417.60 471.59h0M420.80 471.55h0M424.00 471.51h0M427.20 471.48h0M430.40 471.45h0M433.60 471.41h0M436.80 471.38h0M440.00 471.34h0M443.20 471.29h0M446.40 471.23h0M449.60 471.17h0M452.80 471.09h0M456.00 471.02h0M459.20 470.94h0M462.40 470.86h0M465.60 470.78h0M468.80 470.70h0M472.00 470.61h0M475.20 470.53h0M478.40 470.44h0M481.60 470.35h0M484.80 470.26h0M488.00 470.18h0M491.20 470.09h0M494.40 470.01h0" fill="none" stroke="#ff820e" stroke-width="2.50" stroke-linecap="round" opacity="1.00"/><path d="M495.40 469.95h0M496.40 469.89h0M497.40 469.83h0M498.40 469.77h0M499.40 469.71h0M500.40 469.65h0M501.40 469.59h0M502.40 469.53h0M503.40 469.47h0M504.40 469.41h0M505.40 469.35h0M506.40 469.29h0M507.40 469.23h0M508.40 469.17h0M509.40 469.11h0M510.40 469.05h0M511.40 468.99h0M512.40 468.93h0M513.40 468.87h0M514.40 468.81h0M515.40 468.74h0M516.40 468.68h0M517.40 468.62h0M518.40 468.56h0M519.40 468.50h0M520.40 468.44h0M521.40 468.38h0M522.40 468.32h0M523.40 468.26h0M524.40 468.20h0M525.40 468.14h0M526.40 468.08h0M527.40 468.02h0M528.40 467.96h0M529.40 467.90h0" fill="none" stroke="#2e9a2e" stroke-width="3.10" stroke-linecap="round" opacity="0.28"/><path d="M495.40 469.95h0M496.40 469.89h0M497.40 469.83h0M498.40 469.77h0M499.40 469.71h0M500.40 469.65h0M501.40 469.59h0M502.40 469.53h0M503.40 469.47h0M504.40 469.41h0M505.40 469.35h0M506.40 469.29h0M507.40 469.23h0M508.40 469.17h0M509.40 469.11h0M510.40 469.05h0M511.40 468.99h0M512.40 468.93h0M513.40 468.87h0M514.40 468.81h0M515.40 468.74h0M516.40 468.68h0M517.40 468.62h0M518.40 468.56h0M519.40 468.50h0M520.40 468.44h0M521.40 468.38h0M522.40 468.32h0M523.40 468.26h0M524.40 468.20h0M525.40 468.14h0M526.40 468.08h0M527.40 468.02h0M528.40 467.96h0M529.40 467.90h0" fill="none" stroke="#ff820e" stroke-width="2.50" stroke-linecap="round" opacity="1.00"/><path d="M366.2 478.0C376.8 477.8 408.6 477.6 430.0 477.0C451.4 476.4 478.0 474.7 494.6 474.5C511.2 474.3 523.6 475.8 529.4 476.0" fill="none" stroke="#8aa0a8" stroke-width="0.60" stroke-linejoin="round" stroke-linecap="round" opacity="1.00" /><path d="M366.40 478.00h0M369.60 477.95h0M372.80 477.91h0M376.00 477.87h0M379.20 477.84h0M382.40 477.80h0M385.60 477.76h0M388.80 477.72h0M392.00 477.68h0M395.20 477.64h0M398.40 477.60h0M401.60 477.55h0M404.80 477.50h0M408.00 477.45h0M411.20 477.40h0M414.40 477.34h0M417.60 477.28h0M420.80 477.22h0M424.00 477.15h0M427.20 477.07h0M430.40 476.99h0M433.60 476.90h0M436.80 476.80h0M440.00 476.69h0M443.20 476.58h0M446.40 476.47h0M449.60 476.35h0M452.80 476.23h0M456.00 476.10h0M459.20 475.98h0M462.40 475.85h0M465.60 475.72h0M468.80 475.58h0M472.00 475.45h0M475.20 475.31h0M478.40 475.18h0M481.60 475.04h0M484.80 474.91h0M488.00 474.77h0M491.20 474.64h0M494.40 474.51h0" fill="none" stroke="#2e9a2e" stroke-width="3.30" stroke-linecap="round" opacity="0.28"/><path d="M366.40 478.00h0M369.60 477.95h0M372.80 477.91h0M376.00 477.87h0M379.20 477.84h0M382.40 477.80h0M385.60 477.76h0M388.80 477.72h0M392.00 477.68h0M395.20 477.64h0M398.40 477.60h0M401.60 477.55h0M404.80 477.50h0M408.00 477.45h0M411.20 477.40h0M414.40 477.34h0M417.60 477.28h0M420.80 477.22h0M424.00 477.15h0M427.20 477.07h0M430.40 476.99h0M433.60 476.90h0M436.80 476.80h0M440.00 476.69h0M443.20 476.58h0M446.40 476.47h0M449.60 476.35h0M452.80 476.23h0M456.00 476.10h0M459.20 475.98h0M462.40 475.85h0M465.60 475.72h0M468.80 475.58h0M472.00 475.45h0M475.20 475.31h0M478.40 475.18h0M481.60 475.04h0M484.80 474.91h0M488.00 474.77h0M491.20 474.64h0M494.40 474.51h0" fill="none" stroke="#ff820e" stroke-width="2.50" stroke-linecap="round" opacity="1.00"/><path d="M495.40 474.53h0M496.40 474.58h0M497.40 474.62h0M498.40 474.66h0M499.40 474.71h0M500.40 474.75h0M501.40 474.79h0M502.40 474.84h0M503.40 474.88h0M504.40 474.92h0M505.40 474.97h0M506.40 475.01h0M507.40 475.05h0M508.40 475.09h0M509.40 475.14h0M510.40 475.18h0M511.40 475.22h0M512.40 475.27h0M513.40 475.31h0M514.40 475.35h0M515.40 475.40h0M516.40 475.44h0M517.40 475.48h0M518.40 475.53h0M519.40 475.57h0M520.40 475.61h0M521.40 475.66h0M522.40 475.70h0M523.40 475.74h0M524.40 475.78h0M525.40 475.83h0M526.40 475.87h0M527.40 475.91h0M528.40 475.96h0M529.40 476.00h0" fill="none" stroke="#2e9a2e" stroke-width="3.10" stroke-linecap="round" opacity="0.28"/><path d="M495.40 474.53h0M496.40 474.58h0M497.40 474.62h0M498.40 474.66h0M499.40 474.71h0M500.40 474.75h0M501.40 474.79h0M502.40 474.84h0M503.40 474.88h0M504.40 474.92h0M505.40 474.97h0M506.40 475.01h0M507.40 475.05h0M508.40 475.09h0M509.40 475.14h0M510.40 475.18h0M511.40 475.22h0M512.40 475.27h0M513.40 475.31h0M514.40 475.35h0M515.40 475.40h0M516.40 475.44h0M517.40 475.48h0M518.40 475.53h0M519.40 475.57h0M520.40 475.61h0M521.40 475.66h0M522.40 475.70h0M523.40 475.74h0M524.40 475.78h0M525.40 475.83h0M526.40 475.87h0M527.40 475.91h0M528.40 475.96h0M529.40 476.00h0" fill="none" stroke="#ff820e" stroke-width="2.50" stroke-linecap="round" opacity="1.00"/></g><rect x="37.0" y="4.5" width="148.3" height="225.5" fill="none" stroke="#3a3a3a" stroke-width="1.00"/><line x1="37.0" y1="4.5" x2="39.5" y2="4.5" stroke="#3a3a3a" stroke-width="0.90"/><line x1="37.0" y1="42.1" x2="39.5" y2="42.1" stroke="#3a3a3a" stroke-width="0.90"/><line x1="37.0" y1="79.7" x2="39.5" y2="79.7" stroke="#3a3a3a" stroke-width="0.90"/><line x1="37.0" y1="117.2" x2="39.5" y2="117.2" stroke="#3a3a3a" stroke-width="0.90"/><line x1="37.0" y1="154.8" x2="39.5" y2="154.8" stroke="#3a3a3a" stroke-width="0.90"/><line x1="37.0" y1="192.4" x2="39.5" y2="192.4" stroke="#3a3a3a" stroke-width="0.90"/><line x1="37.0" y1="230.0" x2="39.5" y2="230.0" stroke="#3a3a3a" stroke-width="0.90"/><rect x="198.2" y="4.5" width="147.8" height="225.5" fill="none" stroke="#3a3a3a" stroke-width="1.00"/><line x1="198.2" y1="4.5" x2="200.7" y2="4.5" stroke="#3a3a3a" stroke-width="0.90"/><line x1="198.2" y1="42.1" x2="200.7" y2="42.1" stroke="#3a3a3a" stroke-width="0.90"/><line x1="198.2" y1="79.7" x2="200.7" y2="79.7" stroke="#3a3a3a" stroke-width="0.90"/><line x1="198.2" y1="117.2" x2="200.7" y2="117.2" stroke="#3a3a3a" stroke-width="0.90"/><line x1="198.2" y1="154.8" x2="200.7" y2="154.8" stroke="#3a3a3a" stroke-width="0.90"/><line x1="198.2" y1="192.4" x2="200.7" y2="192.4" stroke="#3a3a3a" stroke-width="0.90"/><line x1="198.2" y1="230.0" x2="200.7" y2="230.0" stroke="#3a3a3a" stroke-width="0.90"/><rect x="37.0" y="252.2" width="148.2" height="225.6" fill="none" stroke="#3a3a3a" stroke-width="1.00"/><line x1="37.0" y1="252.2" x2="39.5" y2="252.2" stroke="#3a3a3a" stroke-width="0.90"/><line x1="37.0" y1="289.8" x2="39.5" y2="289.8" stroke="#3a3a3a" stroke-width="0.90"/><line x1="37.0" y1="327.4" x2="39.5" y2="327.4" stroke="#3a3a3a" stroke-width="0.90"/><line x1="37.0" y1="365.0" x2="39.5" y2="365.0" stroke="#3a3a3a" stroke-width="0.90"/><line x1="37.0" y1="402.6" x2="39.5" y2="402.6" stroke="#3a3a3a" stroke-width="0.90"/><line x1="37.0" y1="440.2" x2="39.5" y2="440.2" stroke="#3a3a3a" stroke-width="0.90"/><line x1="37.0" y1="477.8" x2="39.5" y2="477.8" stroke="#3a3a3a" stroke-width="0.90"/><rect x="197.4" y="252.2" width="148.1" height="225.6" fill="none" stroke="#3a3a3a" stroke-width="1.00"/><line x1="197.4" y1="252.2" x2="199.9" y2="252.2" stroke="#3a3a3a" stroke-width="0.90"/><line x1="197.4" y1="289.8" x2="199.9" y2="289.8" stroke="#3a3a3a" stroke-width="0.90"/><line x1="197.4" y1="327.4" x2="199.9" y2="327.4" stroke="#3a3a3a" stroke-width="0.90"/><line x1="197.4" y1="365.0" x2="199.9" y2="365.0" stroke="#3a3a3a" stroke-width="0.90"/><line x1="197.4" y1="402.6" x2="199.9" y2="402.6" stroke="#3a3a3a" stroke-width="0.90"/><line x1="197.4" y1="440.2" x2="199.9" y2="440.2" stroke="#3a3a3a" stroke-width="0.90"/><line x1="197.4" y1="477.8" x2="199.9" y2="477.8" stroke="#3a3a3a" stroke-width="0.90"/><rect x="366.2" y="5.2" width="163.0" height="224.8" fill="none" stroke="#111" stroke-width="1.40"/><line x1="366.2" y1="5.2" x2="368.7" y2="5.2" stroke="#111" stroke-width="1.00"/><line x1="366.2" y1="23.9" x2="368.7" y2="23.9" stroke="#111" stroke-width="1.00"/><line x1="366.2" y1="42.7" x2="368.7" y2="42.7" stroke="#111" stroke-width="1.00"/><line x1="366.2" y1="61.4" x2="368.7" y2="61.4" stroke="#111" stroke-width="1.00"/><line x1="366.2" y1="80.1" x2="368.7" y2="80.1" stroke="#111" stroke-width="1.00"/><line x1="366.2" y1="98.9" x2="368.7" y2="98.9" stroke="#111" stroke-width="1.00"/><line x1="366.2" y1="117.6" x2="368.7" y2="117.6" stroke="#111" stroke-width="1.00"/><line x1="366.2" y1="136.3" x2="368.7" y2="136.3" stroke="#111" stroke-width="1.00"/><line x1="366.2" y1="155.1" x2="368.7" y2="155.1" stroke="#111" stroke-width="1.00"/><line x1="366.2" y1="173.8" x2="368.7" y2="173.8" stroke="#111" stroke-width="1.00"/><line x1="366.2" y1="192.5" x2="368.7" y2="192.5" stroke="#111" stroke-width="1.00"/><line x1="366.2" y1="211.3" x2="368.7" y2="211.3" stroke="#111" stroke-width="1.00"/><line x1="366.2" y1="230.0" x2="368.7" y2="230.0" stroke="#111" stroke-width="1.00"/><rect x="366.4" y="252.8" width="162.9" height="224.9" fill="none" stroke="#111" stroke-width="1.40"/><line x1="366.4" y1="252.8" x2="368.9" y2="252.8" stroke="#111" stroke-width="1.00"/><line x1="366.4" y1="271.5" x2="368.9" y2="271.5" stroke="#111" stroke-width="1.00"/><line x1="366.4" y1="290.3" x2="368.9" y2="290.3" stroke="#111" stroke-width="1.00"/><line x1="366.4" y1="309.0" x2="368.9" y2="309.0" stroke="#111" stroke-width="1.00"/><line x1="366.4" y1="327.8" x2="368.9" y2="327.8" stroke="#111" stroke-width="1.00"/><line x1="366.4" y1="346.5" x2="368.9" y2="346.5" stroke="#111" stroke-width="1.00"/><line x1="366.4" y1="365.2" x2="368.9" y2="365.2" stroke="#111" stroke-width="1.00"/><line x1="366.4" y1="384.0" x2="368.9" y2="384.0" stroke="#111" stroke-width="1.00"/><line x1="366.4" y1="402.7" x2="368.9" y2="402.7" stroke="#111" stroke-width="1.00"/><line x1="366.4" y1="421.5" x2="368.9" y2="421.5" stroke="#111" stroke-width="1.00"/><line x1="366.4" y1="440.2" x2="368.9" y2="440.2" stroke="#111" stroke-width="1.00"/><line x1="366.4" y1="459.0" x2="368.9" y2="459.0" stroke="#111" stroke-width="1.00"/><line x1="366.4" y1="477.7" x2="368.9" y2="477.7" stroke="#111" stroke-width="1.00"/><text x="34.0" y="8.4" text-anchor="end" font-family='"Liberation Sans", sans-serif' font-size="9.5" fill="#222">1.5</text><text x="34.0" y="46.0" text-anchor="end" font-family='"Liberation Sans", sans-serif' font-size="9.5" fill="#222">1.0</text><text x="34.0" y="83.6" text-anchor="end" font-family='"Liberation Sans", sans-serif' font-size="9.5" fill="#222">0.5</text><text x="34.0" y="121.2" text-anchor="end" font-family='"Liberation Sans", sans-serif' font-size="9.5" fill="#222">0.0</text><text x="34.0" y="158.7" text-anchor="end" font-family='"Liberation Sans", sans-serif' font-size="9.5" fill="#222">−0.5</text><text x="34.0" y="196.3" text-anchor="end" font-family='"Liberation Sans", sans-serif' font-size="9.5" fill="#222">−1.0</text><text x="34.0" y="233.9" text-anchor="end" font-family='"Liberation Sans", sans-serif' font-size="9.5" fill="#222">−1.5</text><text x="34.0" y="256.1" text-anchor="end" font-family='"Liberation Sans", sans-serif' font-size="9.5" fill="#222">1.5</text><text x="34.0" y="293.7" text-anchor="end" font-family='"Liberation Sans", sans-serif' font-size="9.5" fill="#222">1.0</text><text x="34.0" y="331.3" text-anchor="end" font-family='"Liberation Sans", sans-serif' font-size="9.5" fill="#222">0.5</text><text x="34.0" y="368.9" text-anchor="end" font-family='"Liberation Sans", sans-serif' font-size="9.5" fill="#222">0.0</text><text x="34.0" y="406.5" text-anchor="end" font-family='"Liberation Sans", sans-serif' font-size="9.5" fill="#222">−0.5</text><text x="34.0" y="444.1" text-anchor="end" font-family='"Liberation Sans", sans-serif' font-size="9.5" fill="#222">−1.0</text><text x="34.0" y="481.7" text-anchor="end" font-family='"Liberation Sans", sans-serif' font-size="9.5" fill="#222">−1.5</text><text transform="translate(10.2 117.4) rotate(-90)" text-anchor="middle" font-family='"Liberation Sans", sans-serif' font-size="10.5" fill="#222"><tspan font-style="italic">Energy</tspan> (eV)</text><text transform="translate(10.2 365.0) rotate(-90)" text-anchor="middle" font-family='"Liberation Sans", sans-serif' font-size="10.5" fill="#222"><tspan font-style="italic">Energy</tspan> (eV)</text><text x="37.8" y="239.6" text-anchor="middle" font-family='"Liberation Sans", sans-serif' font-size="8.8" font-weight="normal" fill="#222">Y</text><text x="76.5" y="239.6" text-anchor="middle" font-family='"Liberation Sans", sans-serif' font-size="8.8" font-weight="normal" fill="#222">Γ</text><text x="122.5" y="239.6" text-anchor="middle" font-family='"Liberation Sans", sans-serif' font-size="8.8" font-weight="normal" fill="#222">R</text><text x="162.0" y="239.6" text-anchor="middle" font-family='"Liberation Sans", sans-serif' font-size="8.8" font-weight="normal" fill="#222">X</text><text x="185.4" y="239.6" text-anchor="middle" font-family='"Liberation Sans", sans-serif' font-size="8.8" font-weight="normal" fill="#222">Γ</text><text x="198.6" y="239.6" text-anchor="middle" font-family='"Liberation Sans", sans-serif' font-size="8.8" font-weight="normal" fill="#222">Y</text><text x="236.8" y="239.6" text-anchor="middle" font-family='"Liberation Sans", sans-serif' font-size="8.8" font-weight="normal" fill="#222">Γ</text><text x="283.7" y="239.6" text-anchor="middle" font-family='"Liberation Sans", sans-serif' font-size="8.8" font-weight="normal" fill="#222">R</text><text x="323.6" y="239.6" text-anchor="middle" font-family='"Liberation Sans", sans-serif' font-size="8.8" font-weight="normal" fill="#222">X</text><text x="345.6" y="239.6" text-anchor="middle" font-family='"Liberation Sans", sans-serif' font-size="8.8" font-weight="normal" fill="#222">Γ</text><text x="366.6" y="241.5" text-anchor="middle" font-family='"Liberation Serif", serif' font-size="10.0" font-weight="bold" fill="#111">Y</text><text x="411.0" y="241.5" text-anchor="middle" font-family='"Liberation Serif", serif' font-size="10.0" font-weight="bold" fill="#111">Γ</text><text x="460.4" y="241.5" text-anchor="middle" font-family='"Liberation Serif", serif' font-size="10.0" font-weight="bold" fill="#111">R</text><text x="497.5" y="241.5" text-anchor="middle" font-family='"Liberation Serif", serif' font-size="10.0" font-weight="bold" fill="#111">X</text><text x="527.0" y="241.5" text-anchor="middle" font-family='"Liberation Serif", serif' font-size="10.0" font-weight="bold" fill="#111">Γ</text><text x="37.5" y="487.6" text-anchor="middle" font-family='"Liberation Sans", sans-serif' font-size="8.8" font-weight="normal" fill="#222">M</text><text x="92.0" y="487.6" text-anchor="middle" font-family='"Liberation Sans", sans-serif' font-size="8.8" font-weight="normal" fill="#222">Γ</text><text x="154.6" y="487.6" text-anchor="middle" font-family='"Liberation Sans", sans-serif' font-size="8.8" font-weight="normal" fill="#222">K</text><text x="184.8" y="487.6" text-anchor="middle" font-family='"Liberation Sans", sans-serif' font-size="8.8" font-weight="normal" fill="#222">M</text><text x="197.5" y="487.6" text-anchor="middle" font-family='"Liberation Sans", sans-serif' font-size="8.8" font-weight="normal" fill="#222">M</text><text x="252.0" y="487.6" text-anchor="middle" font-family='"Liberation Sans", sans-serif' font-size="8.8" font-weight="normal" fill="#222">Γ</text><text x="314.6" y="487.6" text-anchor="middle" font-family='"Liberation Sans", sans-serif' font-size="8.8" font-weight="normal" fill="#222">K</text><text x="345.2" y="487.6" text-anchor="middle" font-family='"Liberation Sans", sans-serif' font-size="8.8" font-weight="normal" fill="#222">M</text><text x="366.8" y="489.5" text-anchor="middle" font-family='"Liberation Serif", serif' font-size="10.0" font-weight="bold" fill="#111">M</text><text x="424.8" y="489.5" text-anchor="middle" font-family='"Liberation Serif", serif' font-size="10.0" font-weight="bold" fill="#111">Γ</text><text x="495.0" y="489.5" text-anchor="middle" font-family='"Liberation Serif", serif' font-size="10.0" font-weight="bold" fill="#111">K</text><text x="527.3" y="489.5" text-anchor="middle" font-family='"Liberation Serif", serif' font-size="10.0" font-weight="bold" fill="#111">M</text><rect x="43.0" y="7.5" width="23.0" height="18.0" fill="#fff"/><text x="44.5" y="21.0" font-family='"Liberation Serif", serif' font-size="17.0" font-weight="bold" fill="#000">(a)</text><rect x="203.8" y="6.7" width="23.5" height="18.0" fill="#fff"/><text x="205.3" y="20.2" font-family='"Liberation Serif", serif' font-size="17.0" font-weight="bold" fill="#000">(b)</text><rect x="372.0" y="8.5" width="22.0" height="18.0" fill="#fff"/><text x="373.5" y="22.0" font-family='"Liberation Serif", serif' font-size="17.0" font-weight="bold" fill="#000">(c)</text><rect x="43.5" y="255.5" width="23.5" height="18.0" fill="#fff"/><text x="45.0" y="269.0" font-family='"Liberation Serif", serif' font-size="17.0" font-weight="bold" fill="#000">(d)</text><rect x="203.5" y="255.5" width="22.5" height="18.0" fill="#fff"/><text x="205.0" y="269.0" font-family='"Liberation Serif", serif' font-size="17.0" font-weight="bold" fill="#000">(e)</text><rect x="372.5" y="256.8" width="19.5" height="18.0" fill="#fff"/><text x="374.0" y="270.3" font-family='"Liberation Serif", serif' font-size="17.0" font-weight="bold" fill="#000">(f)</text><rect x="145.8" y="7.6" width="34.8" height="52.0" rx="4" ry="4" fill="#ececec" fill-opacity="0.95"/><circle cx="154.5" cy="18.3" r="2.3" fill="#ff1a1a"/><text x="162.2" y="22.1" font-family='"Liberation Serif", serif' font-size="11" font-weight="bold" fill="#000">W</text><circle cx="154.5" cy="29.5" r="2.3" fill="#1a1aff"/><text x="162.2" y="33.3" font-family='"Liberation Serif", serif' font-size="11" font-weight="bold" fill="#000">Te</text><circle cx="154.5" cy="40.9" r="2.3" fill="#148a14"/><text x="162.2" y="44.7" font-family='"Liberation Serif", serif' font-size="11" font-weight="bold" fill="#000">Cr</text><circle cx="154.5" cy="52.4" r="2.3" fill="#ff8c1a"/><text x="162.2" y="56.2" font-family='"Liberation Serif", serif' font-size="11" font-weight="bold" fill="#000">I</text><rect x="145.4" y="255.9" width="35.2" height="52.3" rx="4" ry="4" fill="#ececec" fill-opacity="0.95"/><circle cx="153.9" cy="266.5" r="2.3" fill="#ff1a1a"/><text x="161.8" y="270.3" font-family='"Liberation Serif", serif' font-size="11" font-weight="bold" fill="#000">W</text><circle cx="153.9" cy="277.5" r="2.3" fill="#1a1aff"/><text x="161.8" y="281.3" font-family='"Liberation Serif", serif' font-size="11" font-weight="bold" fill="#000">Te</text><circle cx="153.9" cy="289.0" r="2.3" fill="#148a14"/><text x="161.8" y="292.8" font-family='"Liberation Serif", serif' font-size="11" font-weight="bold" fill="#000">Cr</text><circle cx="153.9" cy="300.8" r="2.3" fill="#ff8c1a"/><text x="161.8" y="304.6" font-family='"Liberation Serif", serif' font-size="11" font-weight="bold" fill="#000">I</text><rect x="421" y="6" width="107.5" height="15.5" fill="#fff"/><line x1="427.3" y1="12.3" x2="449" y2="12.3" stroke="#666" stroke-width="1.0"/><text x="451.2" y="16.0" font-family='"Liberation Serif", serif' font-size="10.5" font-weight="bold" fill="#111" textLength="72" lengthAdjust="spacingAndGlyphs">Isolated 1T’-WTe</text><text x="523.4" y="18.6" font-family='"Liberation Serif", serif' font-size="7" font-weight="bold" fill="#111">2</text><rect x="445" y="254" width="84" height="14" fill="#fff"/><line x1="449.5" y1="260.8" x2="470.2" y2="260.8" stroke="#666" stroke-width="1.0"/><text x="473.7" y="265.0" font-family='"Liberation Serif", serif' font-size="10.5" font-weight="bold" fill="#111" textLength="50.8" lengthAdjust="spacingAndGlyphs">Isolated CrI</text><text x="524.2" y="267.6" font-family='"Liberation Serif", serif' font-size="7" font-weight="bold" fill="#111">3</text></svg></body></html>
